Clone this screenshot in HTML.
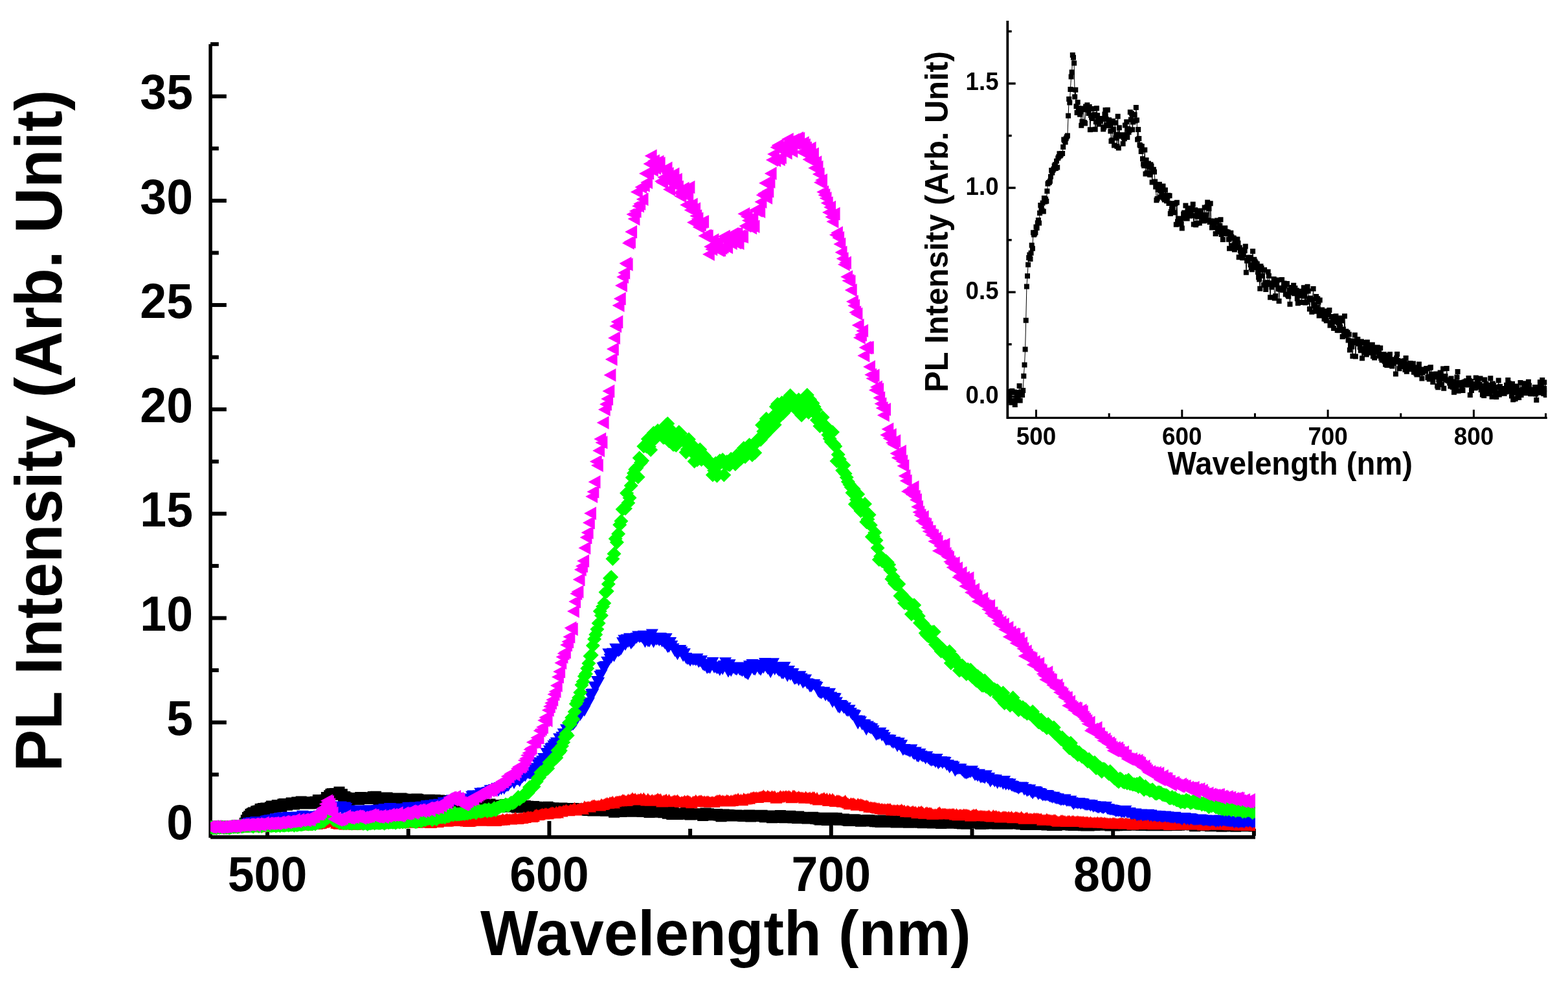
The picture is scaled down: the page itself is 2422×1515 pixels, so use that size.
<!DOCTYPE html>
<html><head><meta charset="utf-8"><title>PL spectra</title>
<style>html,body{margin:0;padding:0;background:#fff;}svg{display:block;}</style>
</head><body>
<svg width="2422" height="1515" viewBox="0 0 2422 1515"><g fill="#000">
<rect x="322.35" y="68.20" width="5.5" height="1225.60"/>
<rect x="325.10" y="1289.90" width="1613.90" height="5.8"/>
<rect x="325.10" y="1273.80" width="24.75" height="6"/>
<rect x="325.10" y="1193.22" width="12.75" height="6"/>
<rect x="325.10" y="1112.65" width="24.75" height="6"/>
<rect x="325.10" y="1032.08" width="12.75" height="6"/>
<rect x="325.10" y="951.50" width="24.75" height="6"/>
<rect x="325.10" y="870.92" width="12.75" height="6"/>
<rect x="325.10" y="790.35" width="24.75" height="6"/>
<rect x="325.10" y="709.77" width="12.75" height="6"/>
<rect x="325.10" y="629.20" width="24.75" height="6"/>
<rect x="325.10" y="548.62" width="12.75" height="6"/>
<rect x="325.10" y="468.05" width="24.75" height="6"/>
<rect x="325.10" y="387.48" width="12.75" height="6"/>
<rect x="325.10" y="306.90" width="24.75" height="6"/>
<rect x="325.10" y="226.33" width="12.75" height="6"/>
<rect x="325.10" y="145.75" width="24.75" height="6"/>
<rect x="325.10" y="65.18" width="12.75" height="6"/>
<rect x="410.00" y="1267.90" width="6" height="23.00"/>
<rect x="627.70" y="1279.90" width="6" height="11.00"/>
<rect x="845.40" y="1267.90" width="6" height="23.00"/>
<rect x="1063.10" y="1279.90" width="6" height="11.00"/>
<rect x="1280.80" y="1267.90" width="6" height="23.00"/>
<rect x="1498.50" y="1279.90" width="6" height="11.00"/>
<rect x="1716.20" y="1267.90" width="6" height="23.00"/>
<rect x="1933.90" y="1279.90" width="6" height="11.00"/>
</g>
<defs><clipPath id="pa"><rect x="325" y="60" width="1614" height="1234"/></clipPath></defs>
<g clip-path="url(#pa)">
<path fill="#000" d="M313.1 1269.3h17v17h-17ZM315.2 1269.4h17v17h-17ZM317.4 1268.5h17v17h-17ZM319.6 1268h17v17h-17ZM321.8 1267.8h17v17h-17ZM324 1268.5h17v17h-17ZM326.1 1267.9h17v17h-17ZM328.3 1267.6h17v17h-17ZM330.5 1268.6h17v17h-17ZM332.7 1268.6h17v17h-17ZM334.8 1268.8h17v17h-17ZM337 1268h17v17h-17ZM339.2 1268.5h17v17h-17ZM341.4 1268.5h17v17h-17ZM343.5 1267.6h17v17h-17ZM345.7 1268.8h17v17h-17ZM347.9 1268.7h17v17h-17ZM350.1 1269.9h17v17h-17ZM352.3 1268.6h17v17h-17ZM354.4 1268.4h17v17h-17ZM356.6 1269.2h17v17h-17ZM358.8 1268.6h17v17h-17ZM361 1269h17v17h-17ZM363.1 1268.3h17v17h-17ZM365.3 1268.6h17v17h-17ZM367.5 1267.2h17v17h-17ZM369.7 1262.7h17v17h-17ZM371.8 1258.3h17v17h-17ZM374 1253.9h17v17h-17ZM376.2 1252h17v17h-17ZM378.4 1249h17v17h-17ZM380.6 1247.8h17v17h-17ZM382.7 1246.5h17v17h-17ZM384.9 1246.5h17v17h-17ZM387.1 1244.5h17v17h-17ZM389.3 1243.9h17v17h-17ZM391.4 1243.5h17v17h-17ZM393.6 1240.9h17v17h-17ZM395.8 1240.7h17v17h-17ZM398 1239.9h17v17h-17ZM400.1 1242.1h17v17h-17ZM402.3 1239.5h17v17h-17ZM404.5 1240h17v17h-17ZM406.7 1239.5h17v17h-17ZM408.9 1238.2h17v17h-17ZM411 1236.4h17v17h-17ZM413.2 1238.8h17v17h-17ZM415.4 1236.9h17v17h-17ZM417.6 1237.7h17v17h-17ZM419.7 1235.1h17v17h-17ZM421.9 1235.7h17v17h-17ZM424.1 1237.2h17v17h-17ZM426.3 1237h17v17h-17ZM428.4 1233.5h17v17h-17ZM430.6 1233.1h17v17h-17ZM432.8 1234.2h17v17h-17ZM435 1234.7h17v17h-17ZM437.2 1233.6h17v17h-17ZM439.3 1233.4h17v17h-17ZM441.5 1231.6h17v17h-17ZM443.7 1233.1h17v17h-17ZM445.9 1233.6h17v17h-17ZM448 1231.6h17v17h-17ZM450.2 1230.4h17v17h-17ZM452.4 1231h17v17h-17ZM454.6 1232.6h17v17h-17ZM456.7 1229.6h17v17h-17ZM458.9 1231.3h17v17h-17ZM461.1 1230.2h17v17h-17ZM463.3 1231.1h17v17h-17ZM465.5 1230.8h17v17h-17ZM467.6 1231h17v17h-17ZM469.8 1232.6h17v17h-17ZM472 1231.2h17v17h-17ZM474.2 1232.2h17v17h-17ZM476.3 1230.3h17v17h-17ZM478.5 1229.7h17v17h-17ZM480.7 1230.4h17v17h-17ZM482.9 1226.9h17v17h-17ZM485 1229.3h17v17h-17ZM487.2 1229.2h17v17h-17ZM489.4 1227.1h17v17h-17ZM491.6 1228.5h17v17h-17ZM493.8 1226.7h17v17h-17ZM495.9 1223h17v17h-17ZM498.1 1224h17v17h-17ZM500.3 1220.3h17v17h-17ZM502.5 1217.9h17v17h-17ZM504.6 1217.2h17v17h-17ZM506.8 1218.6h17v17h-17ZM509 1217.1h17v17h-17ZM511.2 1217h17v17h-17ZM513.4 1217.5h17v17h-17ZM515.5 1214.7h17v17h-17ZM517.7 1218.8h17v17h-17ZM519.9 1218.3h17v17h-17ZM522.1 1222.4h17v17h-17ZM524.2 1221.9h17v17h-17ZM526.4 1223.6h17v17h-17ZM528.6 1225h17v17h-17ZM530.8 1227.8h17v17h-17ZM532.9 1226.3h17v17h-17ZM535.1 1224.8h17v17h-17ZM537.3 1225.2h17v17h-17ZM539.5 1224.1h17v17h-17ZM541.7 1225.4h17v17h-17ZM543.8 1224.5h17v17h-17ZM546 1225.9h17v17h-17ZM548.2 1223.1h17v17h-17ZM550.4 1224.1h17v17h-17ZM552.5 1223.2h17v17h-17ZM554.7 1223.2h17v17h-17ZM556.9 1224.7h17v17h-17ZM559.1 1223.7h17v17h-17ZM561.2 1224.3h17v17h-17ZM563.4 1225.1h17v17h-17ZM565.6 1225.1h17v17h-17ZM567.8 1222.1h17v17h-17ZM570 1224.5h17v17h-17ZM572.1 1221.7h17v17h-17ZM574.3 1223.9h17v17h-17ZM576.5 1226.4h17v17h-17ZM578.7 1223.9h17v17h-17ZM580.8 1223.7h17v17h-17ZM583 1224.4h17v17h-17ZM585.2 1224.3h17v17h-17ZM587.4 1224.4h17v17h-17ZM589.5 1223.5h17v17h-17ZM591.7 1225.8h17v17h-17ZM593.9 1225.7h17v17h-17ZM596.1 1224.5h17v17h-17ZM598.3 1225.3h17v17h-17ZM600.4 1225.8h17v17h-17ZM602.6 1226.4h17v17h-17ZM604.8 1225.8h17v17h-17ZM607 1226.3h17v17h-17ZM609.1 1225.2h17v17h-17ZM611.3 1224.4h17v17h-17ZM613.5 1225.2h17v17h-17ZM615.7 1227.2h17v17h-17ZM617.8 1227.3h17v17h-17ZM620 1226.4h17v17h-17ZM622.2 1225.7h17v17h-17ZM624.4 1226.8h17v17h-17ZM626.6 1228.6h17v17h-17ZM628.7 1228.4h17v17h-17ZM630.9 1226h17v17h-17ZM633.1 1226.9h17v17h-17ZM635.3 1225.4h17v17h-17ZM637.4 1225.9h17v17h-17ZM639.6 1227.6h17v17h-17ZM641.8 1227.5h17v17h-17ZM644 1228.7h17v17h-17ZM646.1 1229.2h17v17h-17ZM648.3 1228.8h17v17h-17ZM650.5 1229.4h17v17h-17ZM652.7 1227.3h17v17h-17ZM654.9 1226.7h17v17h-17ZM657 1228.7h17v17h-17ZM659.2 1230.9h17v17h-17ZM661.4 1228.7h17v17h-17ZM663.6 1227h17v17h-17ZM665.7 1228.8h17v17h-17ZM667.9 1230.2h17v17h-17ZM670.1 1227.4h17v17h-17ZM672.3 1229.7h17v17h-17ZM674.4 1228.1h17v17h-17ZM676.6 1230.4h17v17h-17ZM678.8 1229.9h17v17h-17ZM681 1229.4h17v17h-17ZM683.2 1231.5h17v17h-17ZM685.3 1228.8h17v17h-17ZM687.5 1228.5h17v17h-17ZM689.7 1231.6h17v17h-17ZM691.9 1228.5h17v17h-17ZM694 1232.3h17v17h-17ZM696.2 1229.9h17v17h-17ZM698.4 1228.9h17v17h-17ZM700.6 1230.3h17v17h-17ZM702.7 1230.6h17v17h-17ZM704.9 1230.9h17v17h-17ZM707.1 1230.7h17v17h-17ZM709.3 1232.3h17v17h-17ZM711.5 1228.6h17v17h-17ZM713.6 1230.8h17v17h-17ZM715.8 1231.4h17v17h-17ZM718 1233.9h17v17h-17ZM720.2 1229.8h17v17h-17ZM722.3 1231.8h17v17h-17ZM724.5 1231.1h17v17h-17ZM726.7 1231.9h17v17h-17ZM728.9 1233.5h17v17h-17ZM731 1233.5h17v17h-17ZM733.2 1234.8h17v17h-17ZM735.4 1232.7h17v17h-17ZM737.6 1233.9h17v17h-17ZM739.8 1235.1h17v17h-17ZM741.9 1235h17v17h-17ZM744.1 1233.8h17v17h-17ZM746.3 1235.6h17v17h-17ZM748.5 1233.5h17v17h-17ZM750.6 1236.7h17v17h-17ZM752.8 1235.1h17v17h-17ZM755 1234.9h17v17h-17ZM757.2 1235.4h17v17h-17ZM759.4 1236.2h17v17h-17ZM761.5 1237.3h17v17h-17ZM763.7 1235.3h17v17h-17ZM765.9 1235.1h17v17h-17ZM768.1 1236.3h17v17h-17ZM770.2 1234.8h17v17h-17ZM772.4 1234h17v17h-17ZM774.6 1236.9h17v17h-17ZM776.8 1235.6h17v17h-17ZM778.9 1237.4h17v17h-17ZM781.1 1235.1h17v17h-17ZM783.3 1233.9h17v17h-17ZM785.5 1236.8h17v17h-17ZM787.7 1236.8h17v17h-17ZM789.8 1238.4h17v17h-17ZM792 1237.4h17v17h-17ZM794.2 1237.2h17v17h-17ZM796.4 1237.6h17v17h-17ZM798.5 1236.7h17v17h-17ZM800.7 1237.3h17v17h-17ZM802.9 1235.9h17v17h-17ZM805.1 1238h17v17h-17ZM807.2 1236.7h17v17h-17ZM809.4 1237.3h17v17h-17ZM811.6 1238.7h17v17h-17ZM813.8 1239h17v17h-17ZM816 1237.1h17v17h-17ZM818.1 1240.5h17v17h-17ZM820.3 1237.8h17v17h-17ZM822.5 1239.5h17v17h-17ZM824.7 1239.8h17v17h-17ZM826.8 1239.1h17v17h-17ZM829 1239.2h17v17h-17ZM831.2 1241.1h17v17h-17ZM833.4 1240.3h17v17h-17ZM835.5 1239.9h17v17h-17ZM837.7 1237.7h17v17h-17ZM839.9 1238.9h17v17h-17ZM842.1 1241.1h17v17h-17ZM844.3 1240.2h17v17h-17ZM846.4 1239.2h17v17h-17ZM848.6 1239.6h17v17h-17ZM850.8 1240.1h17v17h-17ZM853 1241.2h17v17h-17ZM855.1 1240.9h17v17h-17ZM857.3 1241.6h17v17h-17ZM859.5 1239.6h17v17h-17ZM861.7 1241.5h17v17h-17ZM863.8 1240h17v17h-17ZM866 1240.2h17v17h-17ZM868.2 1242.3h17v17h-17ZM870.4 1240.6h17v17h-17ZM872.6 1240.4h17v17h-17ZM874.7 1240.3h17v17h-17ZM876.9 1240.1h17v17h-17ZM879.1 1242.1h17v17h-17ZM881.3 1241.9h17v17h-17ZM883.4 1241.3h17v17h-17ZM885.6 1240.7h17v17h-17ZM887.8 1241.6h17v17h-17ZM890 1240.4h17v17h-17ZM892.1 1241.1h17v17h-17ZM894.3 1241.2h17v17h-17ZM896.5 1241h17v17h-17ZM898.7 1242.8h17v17h-17ZM900.9 1243h17v17h-17ZM903 1242.7h17v17h-17ZM905.2 1239.5h17v17h-17ZM907.4 1243.5h17v17h-17ZM909.6 1242.5h17v17h-17ZM911.7 1241.4h17v17h-17ZM913.9 1242h17v17h-17ZM916.1 1243.3h17v17h-17ZM918.3 1243.5h17v17h-17ZM920.4 1243.3h17v17h-17ZM922.6 1242.7h17v17h-17ZM924.8 1242.7h17v17h-17ZM927 1243.7h17v17h-17ZM929.2 1242.9h17v17h-17ZM931.3 1242.2h17v17h-17ZM933.5 1242.6h17v17h-17ZM935.7 1243.2h17v17h-17ZM937.9 1243.8h17v17h-17ZM940 1245.8h17v17h-17ZM942.2 1242.1h17v17h-17ZM944.4 1244h17v17h-17ZM946.6 1243.4h17v17h-17ZM948.8 1243.8h17v17h-17ZM950.9 1244.9h17v17h-17ZM953.1 1244.8h17v17h-17ZM955.3 1243.3h17v17h-17ZM957.5 1242.9h17v17h-17ZM959.6 1242.1h17v17h-17ZM961.8 1243.4h17v17h-17ZM964 1244.8h17v17h-17ZM966.2 1243.2h17v17h-17ZM968.3 1244.2h17v17h-17ZM970.5 1244.2h17v17h-17ZM972.7 1244h17v17h-17ZM974.9 1244.8h17v17h-17ZM977.1 1243.6h17v17h-17ZM979.2 1243h17v17h-17ZM981.4 1242.7h17v17h-17ZM983.6 1244.9h17v17h-17ZM985.8 1243.7h17v17h-17ZM987.9 1243.8h17v17h-17ZM990.1 1245h17v17h-17ZM992.3 1243.5h17v17h-17ZM994.5 1246.1h17v17h-17ZM996.6 1245.1h17v17h-17ZM998.8 1244h17v17h-17ZM1001 1244h17v17h-17ZM1003.2 1245.8h17v17h-17ZM1005.4 1243.7h17v17h-17ZM1007.5 1244.4h17v17h-17ZM1009.7 1245.3h17v17h-17ZM1011.9 1245.7h17v17h-17ZM1014.1 1245.7h17v17h-17ZM1016.2 1246.3h17v17h-17ZM1018.4 1245.8h17v17h-17ZM1020.6 1246.3h17v17h-17ZM1022.8 1247.8h17v17h-17ZM1024.9 1247.4h17v17h-17ZM1027.1 1246.6h17v17h-17ZM1029.3 1248.9h17v17h-17ZM1031.5 1245.5h17v17h-17ZM1033.7 1247.8h17v17h-17ZM1035.8 1248.5h17v17h-17ZM1038 1249h17v17h-17ZM1040.2 1248.2h17v17h-17ZM1042.4 1247.8h17v17h-17ZM1044.5 1248.7h17v17h-17ZM1046.7 1248.1h17v17h-17ZM1048.9 1248.7h17v17h-17ZM1051.1 1246.1h17v17h-17ZM1053.2 1248.8h17v17h-17ZM1055.4 1247.7h17v17h-17ZM1057.6 1249.4h17v17h-17ZM1059.8 1249.3h17v17h-17ZM1062 1249.3h17v17h-17ZM1064.1 1248.3h17v17h-17ZM1066.3 1249.1h17v17h-17ZM1068.5 1248.4h17v17h-17ZM1070.7 1249h17v17h-17ZM1072.8 1248.8h17v17h-17ZM1075 1248.2h17v17h-17ZM1077.2 1251h17v17h-17ZM1079.4 1250h17v17h-17ZM1081.5 1247.4h17v17h-17ZM1083.7 1250.3h17v17h-17ZM1085.9 1248.3h17v17h-17ZM1088.1 1249.5h17v17h-17ZM1090.3 1249.3h17v17h-17ZM1092.4 1249.4h17v17h-17ZM1094.6 1250.3h17v17h-17ZM1096.8 1249.9h17v17h-17ZM1099 1248.9h17v17h-17ZM1101.1 1250.4h17v17h-17ZM1103.3 1250.8h17v17h-17ZM1105.5 1252.2h17v17h-17ZM1107.7 1250.2h17v17h-17ZM1109.8 1249.6h17v17h-17ZM1112 1250.4h17v17h-17ZM1114.2 1251.4h17v17h-17ZM1116.4 1250h17v17h-17ZM1118.6 1250.2h17v17h-17ZM1120.7 1251.4h17v17h-17ZM1122.9 1251h17v17h-17ZM1125.1 1251.2h17v17h-17ZM1127.3 1250.5h17v17h-17ZM1129.4 1250.4h17v17h-17ZM1131.6 1250.9h17v17h-17ZM1133.8 1251.1h17v17h-17ZM1136 1251h17v17h-17ZM1138.1 1251.7h17v17h-17ZM1140.3 1251.9h17v17h-17ZM1142.5 1252h17v17h-17ZM1144.7 1251.9h17v17h-17ZM1146.9 1250.7h17v17h-17ZM1149 1250.6h17v17h-17ZM1151.2 1252.4h17v17h-17ZM1153.4 1251.7h17v17h-17ZM1155.6 1251.9h17v17h-17ZM1157.7 1250.8h17v17h-17ZM1159.9 1251.7h17v17h-17ZM1162.1 1251.3h17v17h-17ZM1164.3 1251.2h17v17h-17ZM1166.5 1251.5h17v17h-17ZM1168.6 1250.7h17v17h-17ZM1170.8 1252.2h17v17h-17ZM1173 1253.3h17v17h-17ZM1175.2 1251.6h17v17h-17ZM1177.3 1252.4h17v17h-17ZM1179.5 1251.4h17v17h-17ZM1181.7 1253h17v17h-17ZM1183.9 1254.2h17v17h-17ZM1186 1251.4h17v17h-17ZM1188.2 1252.4h17v17h-17ZM1190.4 1254h17v17h-17ZM1192.6 1253.1h17v17h-17ZM1194.8 1252.9h17v17h-17ZM1196.9 1251h17v17h-17ZM1199.1 1252.8h17v17h-17ZM1201.3 1253.8h17v17h-17ZM1203.5 1254.3h17v17h-17ZM1205.6 1253.7h17v17h-17ZM1207.8 1252.7h17v17h-17ZM1210 1252.7h17v17h-17ZM1212.2 1251.8h17v17h-17ZM1214.3 1252.5h17v17h-17ZM1216.5 1254.6h17v17h-17ZM1218.7 1253.6h17v17h-17ZM1220.9 1252.6h17v17h-17ZM1223.1 1255h17v17h-17ZM1225.2 1252.5h17v17h-17ZM1227.4 1255.1h17v17h-17ZM1229.6 1253.8h17v17h-17ZM1231.8 1254.5h17v17h-17ZM1233.9 1254.9h17v17h-17ZM1236.1 1254.7h17v17h-17ZM1238.3 1255.6h17v17h-17ZM1240.5 1254.7h17v17h-17ZM1242.6 1254.5h17v17h-17ZM1244.8 1254.3h17v17h-17ZM1247 1253.7h17v17h-17ZM1249.2 1254.5h17v17h-17ZM1251.4 1256h17v17h-17ZM1253.5 1256h17v17h-17ZM1255.7 1256.6h17v17h-17ZM1257.9 1257.5h17v17h-17ZM1260.1 1256.2h17v17h-17ZM1262.2 1256.1h17v17h-17ZM1264.4 1254.7h17v17h-17ZM1266.6 1255.7h17v17h-17ZM1268.8 1257.9h17v17h-17ZM1270.9 1256.6h17v17h-17ZM1273.1 1256.1h17v17h-17ZM1275.3 1256.6h17v17h-17ZM1277.5 1254.8h17v17h-17ZM1279.7 1255.8h17v17h-17ZM1281.8 1255.5h17v17h-17ZM1284 1254.9h17v17h-17ZM1286.2 1257.5h17v17h-17ZM1288.4 1257.8h17v17h-17ZM1290.5 1256.9h17v17h-17ZM1292.7 1257.5h17v17h-17ZM1294.9 1256.4h17v17h-17ZM1297.1 1257.7h17v17h-17ZM1299.2 1258.1h17v17h-17ZM1301.4 1258.8h17v17h-17ZM1303.6 1258.9h17v17h-17ZM1305.8 1258.1h17v17h-17ZM1308 1257.7h17v17h-17ZM1310.1 1257.2h17v17h-17ZM1312.3 1257.5h17v17h-17ZM1314.5 1258.6h17v17h-17ZM1316.7 1258.7h17v17h-17ZM1318.8 1258.3h17v17h-17ZM1321 1259.8h17v17h-17ZM1323.2 1259h17v17h-17ZM1325.4 1258.6h17v17h-17ZM1327.5 1258.5h17v17h-17ZM1329.7 1258.9h17v17h-17ZM1331.9 1258.1h17v17h-17ZM1334.1 1258.2h17v17h-17ZM1336.3 1259.4h17v17h-17ZM1338.4 1258.7h17v17h-17ZM1340.6 1259h17v17h-17ZM1342.8 1260.3h17v17h-17ZM1345 1259.3h17v17h-17ZM1347.1 1260.6h17v17h-17ZM1349.3 1259.6h17v17h-17ZM1351.5 1260.9h17v17h-17ZM1353.7 1260.2h17v17h-17ZM1355.8 1258.5h17v17h-17ZM1358 1260.9h17v17h-17ZM1360.2 1259.8h17v17h-17ZM1362.4 1258.5h17v17h-17ZM1364.6 1260.2h17v17h-17ZM1366.7 1260.3h17v17h-17ZM1368.9 1259.2h17v17h-17ZM1371.1 1259.8h17v17h-17ZM1373.3 1260.8h17v17h-17ZM1375.4 1261.6h17v17h-17ZM1377.6 1261.4h17v17h-17ZM1379.8 1261.5h17v17h-17ZM1382 1261.5h17v17h-17ZM1384.2 1258.9h17v17h-17ZM1386.3 1260.2h17v17h-17ZM1388.5 1261h17v17h-17ZM1390.7 1259.1h17v17h-17ZM1392.9 1261.6h17v17h-17ZM1395 1261.7h17v17h-17ZM1397.2 1260.5h17v17h-17ZM1399.4 1260.9h17v17h-17ZM1401.6 1260.5h17v17h-17ZM1403.7 1261.3h17v17h-17ZM1405.9 1261.3h17v17h-17ZM1408.1 1261.4h17v17h-17ZM1410.3 1260.7h17v17h-17ZM1412.5 1261.8h17v17h-17ZM1414.6 1261.3h17v17h-17ZM1416.8 1262.3h17v17h-17ZM1419 1261.9h17v17h-17ZM1421.2 1260.5h17v17h-17ZM1423.3 1260.6h17v17h-17ZM1425.5 1261.8h17v17h-17ZM1427.7 1261.4h17v17h-17ZM1429.9 1262.2h17v17h-17ZM1432 1262.5h17v17h-17ZM1434.2 1261.9h17v17h-17ZM1436.4 1260.7h17v17h-17ZM1438.6 1261.1h17v17h-17ZM1440.8 1262.5h17v17h-17ZM1442.9 1261.3h17v17h-17ZM1445.1 1262.9h17v17h-17ZM1447.3 1262.1h17v17h-17ZM1449.5 1262.6h17v17h-17ZM1451.6 1261.5h17v17h-17ZM1453.8 1262.2h17v17h-17ZM1456 1260.5h17v17h-17ZM1458.2 1262.1h17v17h-17ZM1460.3 1262.8h17v17h-17ZM1462.5 1261.7h17v17h-17ZM1464.7 1261.8h17v17h-17ZM1466.9 1262.4h17v17h-17ZM1469.1 1262.5h17v17h-17ZM1471.2 1261.9h17v17h-17ZM1473.4 1263.1h17v17h-17ZM1475.6 1261.3h17v17h-17ZM1477.8 1263.4h17v17h-17ZM1479.9 1261.6h17v17h-17ZM1482.1 1262h17v17h-17ZM1484.3 1263.7h17v17h-17ZM1486.5 1262h17v17h-17ZM1488.6 1261.5h17v17h-17ZM1490.8 1262.8h17v17h-17ZM1493 1262.1h17v17h-17ZM1495.2 1262h17v17h-17ZM1497.4 1262.3h17v17h-17ZM1499.5 1262.3h17v17h-17ZM1501.7 1262.1h17v17h-17ZM1503.9 1262.1h17v17h-17ZM1506.1 1264.1h17v17h-17ZM1508.2 1262.5h17v17h-17ZM1510.4 1263.7h17v17h-17ZM1512.6 1262h17v17h-17ZM1514.8 1263.4h17v17h-17ZM1516.9 1262.1h17v17h-17ZM1519.1 1262.7h17v17h-17ZM1521.3 1263.6h17v17h-17ZM1523.5 1262.7h17v17h-17ZM1525.7 1261.7h17v17h-17ZM1527.8 1262.8h17v17h-17ZM1530 1263.1h17v17h-17ZM1532.2 1263.7h17v17h-17ZM1534.4 1262.5h17v17h-17ZM1536.5 1263.1h17v17h-17ZM1538.7 1263.4h17v17h-17ZM1540.9 1262.1h17v17h-17ZM1543.1 1263.3h17v17h-17ZM1545.2 1262.8h17v17h-17ZM1547.4 1263.7h17v17h-17ZM1549.6 1263.4h17v17h-17ZM1551.8 1263.3h17v17h-17ZM1554 1261.8h17v17h-17ZM1556.1 1263.4h17v17h-17ZM1558.3 1263.3h17v17h-17ZM1560.5 1262.9h17v17h-17ZM1562.7 1263.2h17v17h-17ZM1564.8 1262.7h17v17h-17ZM1567 1263.8h17v17h-17ZM1569.2 1264.2h17v17h-17ZM1571.4 1264.1h17v17h-17ZM1573.5 1263.3h17v17h-17ZM1575.7 1265h17v17h-17ZM1577.9 1264.4h17v17h-17ZM1580.1 1263.1h17v17h-17ZM1582.3 1263.7h17v17h-17ZM1584.4 1262.7h17v17h-17ZM1586.6 1263.8h17v17h-17ZM1588.8 1264.4h17v17h-17ZM1591 1264.9h17v17h-17ZM1593.1 1263.7h17v17h-17ZM1595.3 1262.7h17v17h-17ZM1597.5 1264h17v17h-17ZM1599.7 1265.1h17v17h-17ZM1601.9 1264.3h17v17h-17ZM1604 1265.1h17v17h-17ZM1606.2 1264.9h17v17h-17ZM1608.4 1265.4h17v17h-17ZM1610.6 1264.8h17v17h-17ZM1612.7 1263.9h17v17h-17ZM1614.9 1264.8h17v17h-17ZM1617.1 1266.1h17v17h-17ZM1619.3 1264.2h17v17h-17ZM1621.4 1263.2h17v17h-17ZM1623.6 1266.1h17v17h-17ZM1625.8 1264.9h17v17h-17ZM1628 1264.3h17v17h-17ZM1630.2 1264.3h17v17h-17ZM1632.3 1263.7h17v17h-17ZM1634.5 1265.3h17v17h-17ZM1636.7 1265h17v17h-17ZM1638.9 1264.5h17v17h-17ZM1641 1264.7h17v17h-17ZM1643.2 1264.7h17v17h-17ZM1645.4 1265.8h17v17h-17ZM1647.6 1265h17v17h-17ZM1649.7 1266.1h17v17h-17ZM1651.9 1264.6h17v17h-17ZM1654.1 1264.8h17v17h-17ZM1656.3 1264.9h17v17h-17ZM1658.5 1264.9h17v17h-17ZM1660.6 1265.3h17v17h-17ZM1662.8 1266.1h17v17h-17ZM1665 1266.3h17v17h-17ZM1667.2 1264.8h17v17h-17ZM1669.3 1266.4h17v17h-17ZM1671.5 1265.6h17v17h-17ZM1673.7 1266.6h17v17h-17ZM1675.9 1265.4h17v17h-17ZM1678 1264.9h17v17h-17ZM1680.2 1266h17v17h-17ZM1682.4 1265.9h17v17h-17ZM1684.6 1265.2h17v17h-17ZM1686.8 1265.5h17v17h-17ZM1688.9 1265.6h17v17h-17ZM1691.1 1265.7h17v17h-17ZM1693.3 1264.3h17v17h-17ZM1695.5 1264.7h17v17h-17ZM1697.6 1265.5h17v17h-17ZM1699.8 1265.7h17v17h-17ZM1702 1265.1h17v17h-17ZM1704.2 1264.3h17v17h-17ZM1706.3 1266.4h17v17h-17ZM1708.5 1265.3h17v17h-17ZM1710.7 1264.8h17v17h-17ZM1712.9 1266.6h17v17h-17ZM1715.1 1266.3h17v17h-17ZM1717.2 1266.2h17v17h-17ZM1719.4 1266.1h17v17h-17ZM1721.6 1265.9h17v17h-17ZM1723.8 1264.8h17v17h-17ZM1725.9 1265.5h17v17h-17ZM1728.1 1265.7h17v17h-17ZM1730.3 1265.9h17v17h-17ZM1732.5 1265.8h17v17h-17ZM1734.6 1264.8h17v17h-17ZM1736.8 1265.1h17v17h-17ZM1739 1265.3h17v17h-17ZM1741.2 1265.4h17v17h-17ZM1743.4 1264.9h17v17h-17ZM1745.5 1264.2h17v17h-17ZM1747.7 1264.7h17v17h-17ZM1749.9 1265.7h17v17h-17ZM1752.1 1265.5h17v17h-17ZM1754.2 1265.9h17v17h-17ZM1756.4 1264.2h17v17h-17ZM1758.6 1265.2h17v17h-17ZM1760.8 1266.1h17v17h-17ZM1762.9 1264.1h17v17h-17ZM1765.1 1264.7h17v17h-17ZM1767.3 1264.3h17v17h-17ZM1769.5 1266.3h17v17h-17ZM1771.7 1265.5h17v17h-17ZM1773.8 1265.1h17v17h-17ZM1776 1265.6h17v17h-17ZM1778.2 1265.4h17v17h-17ZM1780.4 1266.1h17v17h-17ZM1782.5 1266.3h17v17h-17ZM1784.7 1266.1h17v17h-17ZM1786.9 1265.7h17v17h-17ZM1789.1 1266h17v17h-17ZM1791.2 1266.1h17v17h-17ZM1793.4 1266.3h17v17h-17ZM1795.6 1264.2h17v17h-17ZM1797.8 1265.7h17v17h-17ZM1800 1265.6h17v17h-17ZM1802.1 1265.6h17v17h-17ZM1804.3 1265.4h17v17h-17ZM1806.5 1265.5h17v17h-17ZM1808.7 1265.9h17v17h-17ZM1810.8 1265.7h17v17h-17ZM1813 1265.7h17v17h-17ZM1815.2 1264.9h17v17h-17ZM1817.4 1264.8h17v17h-17ZM1819.5 1265.1h17v17h-17ZM1821.7 1264.4h17v17h-17ZM1823.9 1265.3h17v17h-17ZM1826.1 1265.1h17v17h-17ZM1828.3 1264.5h17v17h-17ZM1830.4 1264.4h17v17h-17ZM1832.6 1265.4h17v17h-17ZM1834.8 1265.4h17v17h-17ZM1837 1267.3h17v17h-17ZM1839.1 1266.4h17v17h-17ZM1841.3 1265.3h17v17h-17ZM1843.5 1265.5h17v17h-17ZM1845.7 1265.2h17v17h-17ZM1847.9 1265.4h17v17h-17ZM1850 1265.7h17v17h-17ZM1852.2 1265.9h17v17h-17ZM1854.4 1265.5h17v17h-17ZM1856.6 1266.5h17v17h-17ZM1858.7 1266.4h17v17h-17ZM1860.9 1267.3h17v17h-17ZM1863.1 1265.1h17v17h-17ZM1865.3 1266.5h17v17h-17ZM1867.4 1265.8h17v17h-17ZM1869.6 1265h17v17h-17ZM1871.8 1265.9h17v17h-17ZM1874 1265h17v17h-17ZM1876.2 1266.1h17v17h-17ZM1878.3 1267.7h17v17h-17ZM1880.5 1267h17v17h-17ZM1882.7 1267.4h17v17h-17ZM1884.9 1267h17v17h-17ZM1887 1265.2h17v17h-17ZM1889.2 1266.5h17v17h-17ZM1891.4 1266.3h17v17h-17ZM1893.6 1266.6h17v17h-17ZM1895.7 1265.6h17v17h-17ZM1897.9 1265h17v17h-17ZM1900.1 1267.8h17v17h-17ZM1902.3 1267.2h17v17h-17ZM1904.5 1266.6h17v17h-17ZM1906.6 1266.1h17v17h-17ZM1908.8 1266.6h17v17h-17ZM1911 1265.7h17v17h-17ZM1913.2 1267.3h17v17h-17ZM1915.3 1266.8h17v17h-17ZM1917.5 1266.6h17v17h-17ZM1919.7 1266.5h17v17h-17ZM1921.9 1266.8h17v17h-17ZM1924 1266.9h17v17h-17ZM1926.2 1266.6h17v17h-17ZM1928.4 1267.6h17v17h-17ZM1930.6 1267.1h17v17h-17ZM1932.8 1266.9h17v17h-17Z"/>
<path fill="#f00" d="M312.1 1287.1H331.1L321.6 1270ZM314.2 1285.6H333.2L323.7 1268.5ZM316.4 1286.1H335.4L325.9 1269ZM318.6 1286H337.6L328.1 1268.9ZM320.8 1286.3H339.8L330.3 1269.2ZM323 1285.1H342L332.5 1268ZM325.1 1285.6H344.1L334.6 1268.5ZM327.3 1285.4H346.3L336.8 1268.3ZM329.5 1285.1H348.5L339 1268ZM331.7 1285.2H350.7L341.2 1268.1ZM333.8 1285.3H352.8L343.3 1268.2ZM336 1285.4H355L345.5 1268.3ZM338.2 1285H357.2L347.7 1267.9ZM340.4 1285.7H359.4L349.9 1268.6ZM342.5 1285.1H361.5L352 1268ZM344.7 1284.2H363.7L354.2 1267.1ZM346.9 1285.9H365.9L356.4 1268.8ZM349.1 1285.1H368.1L358.6 1268ZM351.3 1284.8H370.3L360.8 1267.7ZM353.4 1285.3H372.4L362.9 1268.2ZM355.6 1285.3H374.6L365.1 1268.2ZM357.8 1285.1H376.8L367.3 1268ZM360 1284.6H379L369.5 1267.5ZM362.1 1285.1H381.1L371.6 1268ZM364.3 1284.1H383.3L373.8 1267ZM366.5 1285.7H385.5L376 1268.6ZM368.7 1284.2H387.7L378.2 1267.1ZM370.8 1284.7H389.8L380.3 1267.6ZM373 1284.8H392L382.5 1267.7ZM375.2 1284.9H394.2L384.7 1267.8ZM377.4 1284.6H396.4L386.9 1267.5ZM379.6 1284.9H398.6L389.1 1267.8ZM381.7 1283.4H400.7L391.2 1266.3ZM383.9 1284.4H402.9L393.4 1267.3ZM386.1 1284.4H405.1L395.6 1267.3ZM388.3 1284.2H407.3L397.8 1267.1ZM390.4 1285.2H409.4L399.9 1268.1ZM392.6 1283.7H411.6L402.1 1266.6ZM394.8 1284.1H413.8L404.3 1267ZM397 1283H416L406.5 1265.9ZM399.1 1284.2H418.1L408.6 1267.1ZM401.3 1283H420.3L410.8 1265.9ZM403.5 1283H422.5L413 1265.9ZM405.7 1285.1H424.7L415.2 1268ZM407.9 1284.1H426.9L417.4 1267ZM410 1283.6H429L419.5 1266.5ZM412.2 1283.7H431.2L421.7 1266.6ZM414.4 1282.6H433.4L423.9 1265.5ZM416.6 1282.8H435.6L426.1 1265.7ZM418.7 1283.6H437.7L428.2 1266.5ZM420.9 1282H439.9L430.4 1264.9ZM423.1 1283.3H442.1L432.6 1266.2ZM425.3 1282.1H444.3L434.8 1265ZM427.4 1283.1H446.4L436.9 1266ZM429.6 1282.3H448.6L439.1 1265.2ZM431.8 1283.9H450.8L441.3 1266.8ZM434 1283.4H453L443.5 1266.3ZM436.2 1282.4H455.2L445.7 1265.3ZM438.3 1281.5H457.3L447.8 1264.4ZM440.5 1282H459.5L450 1264.9ZM442.7 1282.4H461.7L452.2 1265.3ZM444.9 1281.8H463.9L454.4 1264.7ZM447 1282.5H466L456.5 1265.4ZM449.2 1282.8H468.2L458.7 1265.7ZM451.4 1282.1H470.4L460.9 1265ZM453.6 1281.8H472.6L463.1 1264.7ZM455.7 1282.4H474.7L465.2 1265.3ZM457.9 1281.7H476.9L467.4 1264.6ZM460.1 1282.3H479.1L469.6 1265.2ZM462.3 1281.5H481.3L471.8 1264.4ZM464.5 1282.5H483.5L474 1265.4ZM466.6 1281.2H485.6L476.1 1264.1ZM468.8 1280.6H487.8L478.3 1263.5ZM471 1281.2H490L480.5 1264.1ZM473.2 1280.5H492.2L482.7 1263.4ZM475.3 1280.2H494.3L484.8 1263.1ZM477.5 1280.6H496.5L487 1263.5ZM479.7 1281H498.7L489.2 1263.9ZM481.9 1279H500.9L491.4 1261.9ZM484 1280.2H503L493.5 1263.1ZM486.2 1279.7H505.2L495.7 1262.6ZM488.4 1278.8H507.4L497.9 1261.7ZM490.6 1278.5H509.6L500.1 1261.4ZM492.8 1276.1H511.8L502.3 1259ZM494.9 1276.9H513.9L504.4 1259.8ZM497.1 1275.8H516.1L506.6 1258.7ZM499.3 1275.6H518.3L508.8 1258.5ZM501.5 1275.4H520.5L511 1258.3ZM503.6 1275.7H522.6L513.1 1258.6ZM505.8 1276H524.8L515.3 1258.9ZM508 1277.5H527L517.5 1260.4ZM510.2 1279.7H529.2L519.7 1262.6ZM512.4 1280H531.4L521.9 1262.9ZM514.5 1280.8H533.5L524 1263.7ZM516.7 1280.6H535.7L526.2 1263.5ZM518.9 1280H537.9L528.4 1262.9ZM521.1 1280.7H540.1L530.6 1263.6ZM523.2 1281.6H542.2L532.7 1264.5ZM525.4 1279.5H544.4L534.9 1262.4ZM527.6 1280.8H546.6L537.1 1263.7ZM529.8 1281H548.8L539.3 1263.9ZM531.9 1280.5H550.9L541.4 1263.4ZM534.1 1280.8H553.1L543.6 1263.7ZM536.3 1281.2H555.3L545.8 1264.1ZM538.5 1281.8H557.5L548 1264.7ZM540.7 1281.2H559.7L550.2 1264.1ZM542.8 1281.4H561.8L552.3 1264.3ZM545 1280.6H564L554.5 1263.5ZM547.2 1280.9H566.2L556.7 1263.8ZM549.4 1280.5H568.4L558.9 1263.4ZM551.5 1280.6H570.5L561 1263.5ZM553.7 1280H572.7L563.2 1262.9ZM555.9 1280.7H574.9L565.4 1263.6ZM558.1 1281.1H577.1L567.6 1264ZM560.2 1280H579.2L569.7 1262.9ZM562.4 1280.2H581.4L571.9 1263.1ZM564.6 1280.4H583.6L574.1 1263.3ZM566.8 1279.9H585.8L576.3 1262.8ZM569 1280.4H588L578.5 1263.3ZM571.1 1279.9H590.1L580.6 1262.8ZM573.3 1278.9H592.3L582.8 1261.8ZM575.5 1279H594.5L585 1261.9ZM577.7 1280H596.7L587.2 1262.9ZM579.8 1279.9H598.8L589.3 1262.8ZM582 1280.2H601L591.5 1263.1ZM584.2 1279.5H603.2L593.7 1262.4ZM586.4 1279.4H605.4L595.9 1262.3ZM588.5 1278.2H607.5L598 1261.1ZM590.7 1280.1H609.7L600.2 1263ZM592.9 1278.5H611.9L602.4 1261.4ZM595.1 1279.7H614.1L604.6 1262.6ZM597.3 1278.2H616.3L606.8 1261.1ZM599.4 1278.5H618.4L608.9 1261.4ZM601.6 1278.9H620.6L611.1 1261.8ZM603.8 1278.5H622.8L613.3 1261.4ZM606 1278.2H625L615.5 1261.1ZM608.1 1279.2H627.1L617.6 1262.1ZM610.3 1279H629.3L619.8 1261.9ZM612.5 1278.8H631.5L622 1261.7ZM614.7 1278.2H633.7L624.2 1261.1ZM616.8 1277.8H635.8L626.3 1260.7ZM619 1278H638L628.5 1260.9ZM621.2 1277.9H640.2L630.7 1260.8ZM623.4 1278.2H642.4L632.9 1261.1ZM625.6 1278.7H644.6L635.1 1261.6ZM627.7 1278H646.7L637.2 1260.9ZM629.9 1277.5H648.9L639.4 1260.4ZM632.1 1277.6H651.1L641.6 1260.5ZM634.3 1278.8H653.3L643.8 1261.7ZM636.4 1278H655.4L645.9 1260.9ZM638.6 1278H657.6L648.1 1260.9ZM640.8 1278H659.8L650.3 1260.9ZM643 1278.1H662L652.5 1261ZM645.1 1277.7H664.1L654.6 1260.6ZM647.3 1278.4H666.3L656.8 1261.3ZM649.5 1278.1H668.5L659 1261ZM651.7 1275.9H670.7L661.2 1258.8ZM653.9 1277.3H672.9L663.4 1260.2ZM656 1279H675L665.5 1261.9ZM658.2 1276.4H677.2L667.7 1259.3ZM660.4 1277.3H679.4L669.9 1260.2ZM662.6 1278H681.6L672.1 1260.9ZM664.7 1277.1H683.7L674.2 1260ZM666.9 1278H685.9L676.4 1260.9ZM669.1 1276H688.1L678.6 1258.9ZM671.3 1275.9H690.3L680.8 1258.8ZM673.4 1276.5H692.4L682.9 1259.4ZM675.6 1276H694.6L685.1 1258.9ZM677.8 1275.7H696.8L687.3 1258.6ZM680 1276.7H699L689.5 1259.6ZM682.2 1276.4H701.2L691.7 1259.3ZM684.3 1276.1H703.3L693.8 1259ZM686.5 1275.6H705.5L696 1258.5ZM688.7 1276H707.7L698.2 1258.9ZM690.9 1275.6H709.9L700.4 1258.5ZM693 1275H712L702.5 1257.9ZM695.2 1275.8H714.2L704.7 1258.7ZM697.4 1275.7H716.4L706.9 1258.6ZM699.6 1275.5H718.6L709.1 1258.4ZM701.7 1275.9H720.7L711.2 1258.8ZM703.9 1274.6H722.9L713.4 1257.5ZM706.1 1275.3H725.1L715.6 1258.2ZM708.3 1275H727.3L717.8 1257.9ZM710.5 1276.4H729.5L720 1259.3ZM712.6 1275.8H731.6L722.1 1258.7ZM714.8 1276.9H733.8L724.3 1259.8ZM717 1276.5H736L726.5 1259.4ZM719.2 1275.1H738.2L728.7 1258ZM721.3 1274.6H740.3L730.8 1257.5ZM723.5 1275.7H742.5L733 1258.6ZM725.7 1275.2H744.7L735.2 1258.1ZM727.9 1275.3H746.9L737.4 1258.2ZM730 1274.6H749L739.5 1257.5ZM732.2 1275.8H751.2L741.7 1258.7ZM734.4 1275.5H753.4L743.9 1258.4ZM736.6 1275.7H755.6L746.1 1258.6ZM738.8 1275.6H757.8L748.3 1258.5ZM740.9 1274.7H759.9L750.4 1257.6ZM743.1 1273.7H762.1L752.6 1256.6ZM745.3 1275.2H764.3L754.8 1258.1ZM747.5 1274.9H766.5L757 1257.8ZM749.6 1275H768.6L759.1 1257.9ZM751.8 1276H770.8L761.3 1258.9ZM754 1275.1H773L763.5 1258ZM756.2 1276H775.2L765.7 1258.9ZM758.4 1274.8H777.4L767.9 1257.7ZM760.5 1275H779.5L770 1257.9ZM762.7 1274.7H781.7L772.2 1257.6ZM764.9 1274.7H783.9L774.4 1257.6ZM767.1 1272.9H786.1L776.6 1255.8ZM769.2 1274.5H788.2L778.7 1257.4ZM771.4 1273.5H790.4L780.9 1256.4ZM773.6 1272.5H792.6L783.1 1255.4ZM775.8 1273.5H794.8L785.3 1256.4ZM777.9 1273.1H796.9L787.4 1256ZM780.1 1273.6H799.1L789.6 1256.5ZM782.3 1272.9H801.3L791.8 1255.8ZM784.5 1272.5H803.5L794 1255.4ZM786.7 1270.7H805.7L796.2 1253.6ZM788.8 1273.1H807.8L798.3 1256ZM791 1272.7H810L800.5 1255.6ZM793.2 1271.9H812.2L802.7 1254.8ZM795.4 1271.5H814.4L804.9 1254.4ZM797.5 1271.9H816.5L807 1254.8ZM799.7 1270H818.7L809.2 1252.9ZM801.9 1271H820.9L811.4 1253.9ZM804.1 1270.1H823.1L813.6 1253ZM806.2 1268.9H825.2L815.7 1251.8ZM808.4 1269.6H827.4L817.9 1252.5ZM810.6 1269.2H829.6L820.1 1252.1ZM812.8 1270H831.8L822.3 1252.9ZM815 1269H834L824.5 1251.9ZM817.1 1266.5H836.1L826.6 1249.4ZM819.3 1265.8H838.3L828.8 1248.7ZM821.5 1267H840.5L831 1249.9ZM823.7 1266.5H842.7L833.2 1249.4ZM825.8 1265.5H844.8L835.3 1248.4ZM828 1264.7H847L837.5 1247.6ZM830.2 1265.4H849.2L839.7 1248.3ZM832.4 1264.2H851.4L841.9 1247.1ZM834.5 1264.2H853.5L844 1247.1ZM836.7 1265.2H855.7L846.2 1248.1ZM838.9 1264.3H857.9L848.4 1247.2ZM841.1 1263H860.1L850.6 1245.9ZM843.3 1262.3H862.3L852.8 1245.2ZM845.4 1262.8H864.4L854.9 1245.7ZM847.6 1264.1H866.6L857.1 1247ZM849.8 1261.7H868.8L859.3 1244.6ZM852 1263.4H871L861.5 1246.3ZM854.1 1260.8H873.1L863.6 1243.7ZM856.3 1261H875.3L865.8 1243.9ZM858.5 1261.5H877.5L868 1244.4ZM860.7 1259.8H879.7L870.2 1242.7ZM862.8 1260.2H881.8L872.3 1243.1ZM865 1258.6H884L874.5 1241.5ZM867.2 1260.1H886.2L876.7 1243ZM869.4 1260.3H888.4L878.9 1243.2ZM871.6 1258.2H890.6L881.1 1241.1ZM873.7 1258.6H892.7L883.2 1241.5ZM875.9 1257.7H894.9L885.4 1240.6ZM878.1 1255.7H897.1L887.6 1238.6ZM880.3 1259.6H899.3L889.8 1242.5ZM882.4 1257.6H901.4L891.9 1240.5ZM884.6 1257.4H903.6L894.1 1240.3ZM886.8 1256.7H905.8L896.3 1239.6ZM889 1256.1H908L898.5 1239ZM891.1 1257.8H910.1L900.6 1240.7ZM893.3 1253.4H912.3L902.8 1236.3ZM895.5 1254.5H914.5L905 1237.4ZM897.7 1254.1H916.7L907.2 1237ZM899.9 1253.9H918.9L909.4 1236.8ZM902 1254.4H921L911.5 1237.3ZM904.2 1252.6H923.2L913.7 1235.5ZM906.4 1251.6H925.4L915.9 1234.5ZM908.6 1251.4H927.6L918.1 1234.3ZM910.7 1252.5H929.7L920.2 1235.4ZM912.9 1252.6H931.9L922.4 1235.5ZM915.1 1252H934.1L924.6 1234.9ZM917.3 1252.4H936.3L926.8 1235.3ZM919.4 1249.8H938.4L928.9 1232.7ZM921.6 1250.9H940.6L931.1 1233.8ZM923.8 1250.2H942.8L933.3 1233.1ZM926 1248.9H945L935.5 1231.8ZM928.2 1247.8H947.2L937.7 1230.7ZM930.3 1249.1H949.3L939.8 1232ZM932.5 1247H951.5L942 1229.9ZM934.7 1247H953.7L944.2 1229.9ZM936.9 1245.9H955.9L946.4 1228.8ZM939 1248.5H958L948.5 1231.4ZM941.2 1246.3H960.2L950.7 1229.2ZM943.4 1245.5H962.4L952.9 1228.4ZM945.6 1245.5H964.6L955.1 1228.4ZM947.8 1245.2H966.8L957.2 1228.1ZM949.9 1245.2H968.9L959.4 1228.1ZM952.1 1243H971.1L961.6 1225.9ZM954.3 1243.3H973.3L963.8 1226.2ZM956.5 1244.8H975.5L966 1227.7ZM958.6 1245.1H977.6L968.1 1228ZM960.8 1242.5H979.8L970.3 1225.4ZM963 1243.5H982L972.5 1226.4ZM965.2 1242.4H984.2L974.7 1225.3ZM967.3 1240.3H986.3L976.8 1223.2ZM969.5 1242.1H988.5L979 1225ZM971.7 1241.3H990.7L981.2 1224.2ZM973.9 1243.5H992.9L983.4 1226.4ZM976.1 1242.4H995.1L985.6 1225.3ZM978.2 1242.6H997.2L987.7 1225.5ZM980.4 1241.1H999.4L989.9 1224ZM982.6 1243H1001.6L992.1 1225.9ZM984.8 1240.7H1003.8L994.3 1223.6ZM986.9 1243.2H1005.9L996.4 1226.1ZM989.1 1244.5H1008.1L998.6 1227.4ZM991.3 1241.7H1010.3L1000.8 1224.6ZM993.5 1244.1H1012.5L1003 1227ZM995.6 1244.7H1014.6L1005.1 1227.6ZM997.8 1243H1016.8L1007.3 1225.9ZM1000 1244.5H1019L1009.5 1227.4ZM1002.2 1243.5H1021.2L1011.7 1226.4ZM1004.4 1242.9H1023.4L1013.9 1225.8ZM1006.5 1241.3H1025.5L1016 1224.2ZM1008.7 1242.5H1027.7L1018.2 1225.4ZM1010.9 1242.1H1029.9L1020.4 1225ZM1013.1 1246.4H1032.1L1022.6 1229.3ZM1015.2 1244.3H1034.2L1024.7 1227.2ZM1017.4 1243.9H1036.4L1026.9 1226.8ZM1019.6 1242.7H1038.6L1029.1 1225.6ZM1021.8 1246.2H1040.8L1031.3 1229.1ZM1023.9 1243.1H1042.9L1033.4 1226ZM1026.1 1246.1H1045.1L1035.6 1229ZM1028.3 1245.8H1047.3L1037.8 1228.7ZM1030.5 1244.8H1049.5L1040 1227.7ZM1032.7 1244.1H1051.7L1042.2 1227ZM1034.8 1244.9H1053.8L1044.3 1227.8ZM1037 1243.6H1056L1046.5 1226.5ZM1039.2 1245.8H1058.2L1048.7 1228.7ZM1041.4 1247H1060.4L1050.9 1229.9ZM1043.5 1246.2H1062.5L1053 1229.1ZM1045.7 1246.4H1064.7L1055.2 1229.3ZM1047.9 1244.6H1066.9L1057.4 1227.5ZM1050.1 1245.8H1069.1L1059.6 1228.7ZM1052.2 1244.4H1071.2L1061.7 1227.3ZM1054.4 1245.1H1073.4L1063.9 1228ZM1056.6 1246.4H1075.6L1066.1 1229.3ZM1058.8 1248.2H1077.8L1068.3 1231.1ZM1061 1245.9H1080L1070.5 1228.8ZM1063.1 1245.9H1082.1L1072.6 1228.8ZM1065.3 1243.9H1084.3L1074.8 1226.8ZM1067.5 1246.2H1086.5L1077 1229.1ZM1069.7 1245H1088.7L1079.2 1227.9ZM1071.8 1244.4H1090.8L1081.3 1227.3ZM1074 1244.3H1093L1083.5 1227.2ZM1076.2 1246H1095.2L1085.7 1228.9ZM1078.4 1245.3H1097.4L1087.9 1228.2ZM1080.5 1246.4H1099.5L1090 1229.3ZM1082.7 1245.3H1101.7L1092.2 1228.2ZM1084.9 1245.5H1103.9L1094.4 1228.4ZM1087.1 1247H1106.1L1096.6 1229.9ZM1089.3 1246.3H1108.3L1098.8 1229.2ZM1091.4 1246.2H1110.4L1100.9 1229.1ZM1093.6 1246.9H1112.6L1103.1 1229.8ZM1095.8 1245.4H1114.8L1105.3 1228.3ZM1098 1244H1117L1107.5 1226.9ZM1100.1 1244.2H1119.1L1109.6 1227.1ZM1102.3 1243.3H1121.3L1111.8 1226.2ZM1104.5 1245.2H1123.5L1114 1228.1ZM1106.7 1244.3H1125.7L1116.2 1227.2ZM1108.8 1245.1H1127.8L1118.3 1228ZM1111 1245.4H1130L1120.5 1228.3ZM1113.2 1243.5H1132.2L1122.7 1226.4ZM1115.4 1244.4H1134.4L1124.9 1227.3ZM1117.6 1245.5H1136.6L1127.1 1228.4ZM1119.7 1244.1H1138.7L1129.2 1227ZM1121.9 1244.9H1140.9L1131.4 1227.8ZM1124.1 1243.5H1143.1L1133.6 1226.4ZM1126.3 1242.6H1145.3L1135.8 1225.5ZM1128.4 1243.2H1147.4L1137.9 1226.1ZM1130.6 1241.3H1149.6L1140.1 1224.2ZM1132.8 1244H1151.8L1142.3 1226.9ZM1135 1242.5H1154L1144.5 1225.4ZM1137.1 1244.3H1156.1L1146.6 1227.2ZM1139.3 1241.2H1158.3L1148.8 1224.1ZM1141.5 1242.4H1160.5L1151 1225.3ZM1143.7 1242.3H1162.7L1153.2 1225.2ZM1145.9 1241.4H1164.9L1155.4 1224.3ZM1148 1241.8H1167L1157.5 1224.7ZM1150.2 1240.2H1169.2L1159.7 1223.1ZM1152.4 1239.6H1171.4L1161.9 1222.5ZM1154.6 1238.9H1173.6L1164.1 1221.8ZM1156.7 1239.5H1175.7L1166.2 1222.4ZM1158.9 1239H1177.9L1168.4 1221.9ZM1161.1 1239.9H1180.1L1170.6 1222.8ZM1163.3 1238.9H1182.3L1172.8 1221.8ZM1165.5 1238.3H1184.5L1175 1221.2ZM1167.6 1237.9H1186.6L1177.1 1220.8ZM1169.8 1236.4H1188.8L1179.3 1219.3ZM1172 1238.1H1191L1181.5 1221ZM1174.2 1238.9H1193.2L1183.7 1221.8ZM1176.3 1236.9H1195.3L1185.8 1219.8ZM1178.5 1238H1197.5L1188 1220.9ZM1180.7 1239.1H1199.7L1190.2 1222ZM1182.9 1237.4H1201.9L1192.4 1220.3ZM1185 1238.4H1204L1194.5 1221.3ZM1187.2 1237.6H1206.2L1196.7 1220.5ZM1189.4 1240.7H1208.4L1198.9 1223.6ZM1191.6 1239.6H1210.6L1201.1 1222.5ZM1193.8 1239.3H1212.8L1203.3 1222.2ZM1195.9 1237.1H1214.9L1205.4 1220ZM1198.1 1238.6H1217.1L1207.6 1221.5ZM1200.3 1237.6H1219.3L1209.8 1220.5ZM1202.5 1238.2H1221.5L1212 1221.1ZM1204.6 1237.2H1223.6L1214.1 1220.1ZM1206.8 1238.1H1225.8L1216.3 1221ZM1209 1237.1H1228L1218.5 1220ZM1211.2 1238.4H1230.2L1220.7 1221.3ZM1213.3 1240.2H1232.3L1222.8 1223.1ZM1215.5 1236.7H1234.5L1225 1219.6ZM1217.7 1236.8H1236.7L1227.2 1219.7ZM1219.9 1239H1238.9L1229.4 1221.9ZM1222.1 1239.4H1241.1L1231.6 1222.3ZM1224.2 1238.2H1243.2L1233.7 1221.1ZM1226.4 1239.4H1245.4L1235.9 1222.3ZM1228.6 1239.3H1247.6L1238.1 1222.2ZM1230.8 1239.5H1249.8L1240.3 1222.4ZM1232.9 1240.7H1251.9L1242.4 1223.6ZM1235.1 1238.6H1254.1L1244.6 1221.5ZM1237.3 1240.4H1256.3L1246.8 1223.3ZM1239.5 1240.1H1258.5L1249 1223ZM1241.6 1239.3H1260.6L1251.1 1222.2ZM1243.8 1240.9H1262.8L1253.3 1223.8ZM1246 1239.1H1265L1255.5 1222ZM1248.2 1239.1H1267.2L1257.7 1222ZM1250.4 1242.3H1269.4L1259.9 1225.2ZM1252.5 1240.1H1271.5L1262 1223ZM1254.7 1243.5H1273.7L1264.2 1226.4ZM1256.9 1243H1275.9L1266.4 1225.9ZM1259.1 1241.5H1278.1L1268.6 1224.4ZM1261.2 1241.3H1280.2L1270.7 1224.2ZM1263.4 1240H1282.4L1272.9 1222.9ZM1265.6 1242.7H1284.6L1275.1 1225.6ZM1267.8 1241.2H1286.8L1277.3 1224.1ZM1269.9 1245H1288.9L1279.4 1227.9ZM1272.1 1241.6H1291.1L1281.6 1224.5ZM1274.3 1243.8H1293.3L1283.8 1226.7ZM1276.5 1241.5H1295.5L1286 1224.4ZM1278.7 1243.9H1297.7L1288.2 1226.8ZM1280.8 1246H1299.8L1290.3 1228.9ZM1283 1244.2H1302L1292.5 1227.1ZM1285.2 1244.1H1304.2L1294.7 1227ZM1287.4 1244.7H1306.4L1296.9 1227.6ZM1289.5 1245.9H1308.5L1299 1228.8ZM1291.7 1246.8H1310.7L1301.2 1229.7ZM1293.9 1246H1312.9L1303.4 1228.9ZM1296.1 1244.4H1315.1L1305.6 1227.3ZM1298.2 1247.4H1317.2L1307.7 1230.3ZM1300.4 1248.5H1319.4L1309.9 1231.4ZM1302.6 1250.3H1321.6L1312.1 1233.2ZM1304.8 1248.4H1323.8L1314.3 1231.3ZM1307 1248.8H1326L1316.5 1231.7ZM1309.1 1248.5H1328.1L1318.6 1231.4ZM1311.3 1250.2H1330.3L1320.8 1233.1ZM1313.5 1251.7H1332.5L1323 1234.6ZM1315.7 1249.2H1334.7L1325.2 1232.1ZM1317.8 1250.7H1336.8L1327.3 1233.6ZM1320 1249.9H1339L1329.5 1232.8ZM1322.2 1250.7H1341.2L1331.7 1233.6ZM1324.4 1251.6H1343.4L1333.9 1234.5ZM1326.5 1252.7H1345.5L1336 1235.6ZM1328.7 1251.8H1347.7L1338.2 1234.7ZM1330.9 1252.7H1349.9L1340.4 1235.6ZM1333.1 1254.8H1352.1L1342.6 1237.7ZM1335.3 1254.3H1354.3L1344.8 1237.2ZM1337.4 1254.9H1356.4L1346.9 1237.8ZM1339.6 1255H1358.6L1349.1 1237.9ZM1341.8 1254.8H1360.8L1351.3 1237.7ZM1344 1255.9H1363L1353.5 1238.8ZM1346.1 1256.4H1365.1L1355.6 1239.3ZM1348.3 1256.2H1367.3L1357.8 1239.1ZM1350.5 1257.6H1369.5L1360 1240.5ZM1352.7 1256.8H1371.7L1362.2 1239.7ZM1354.8 1257.9H1373.8L1364.3 1240.8ZM1357 1257.3H1376L1366.5 1240.2ZM1359.2 1258.2H1378.2L1368.7 1241.1ZM1361.4 1257.1H1380.4L1370.9 1240ZM1363.6 1257.4H1382.6L1373.1 1240.3ZM1365.7 1257H1384.7L1375.2 1239.9ZM1367.9 1259.6H1386.9L1377.4 1242.5ZM1370.1 1259.1H1389.1L1379.6 1242ZM1372.3 1259.1H1391.3L1381.8 1242ZM1374.4 1259.7H1393.4L1383.9 1242.6ZM1376.6 1258.5H1395.6L1386.1 1241.4ZM1378.8 1259.6H1397.8L1388.3 1242.5ZM1381 1259.3H1400L1390.5 1242.2ZM1383.2 1258.2H1402.2L1392.7 1241.1ZM1385.3 1260H1404.3L1394.8 1242.9ZM1387.5 1259.6H1406.5L1397 1242.5ZM1389.7 1262H1408.7L1399.2 1244.9ZM1391.9 1260.2H1410.9L1401.4 1243.1ZM1394 1260.5H1413L1403.5 1243.4ZM1396.2 1262.3H1415.2L1405.7 1245.2ZM1398.4 1261.6H1417.4L1407.9 1244.5ZM1400.6 1260.6H1419.6L1410.1 1243.5ZM1402.7 1262.2H1421.7L1412.2 1245.1ZM1404.9 1261.6H1423.9L1414.4 1244.5ZM1407.1 1264.1H1426.1L1416.6 1247ZM1409.3 1261.7H1428.3L1418.8 1244.6ZM1411.5 1262.1H1430.5L1421 1245ZM1413.6 1260.9H1432.6L1423.1 1243.8ZM1415.8 1262.4H1434.8L1425.3 1245.3ZM1418 1264.8H1437L1427.5 1247.7ZM1420.2 1263.1H1439.2L1429.7 1246ZM1422.3 1262.4H1441.3L1431.8 1245.3ZM1424.5 1263.7H1443.5L1434 1246.6ZM1426.7 1263.2H1445.7L1436.2 1246.1ZM1428.9 1263.6H1447.9L1438.4 1246.5ZM1431 1265.7H1450L1440.5 1248.6ZM1433.2 1265.6H1452.2L1442.7 1248.5ZM1435.4 1265.3H1454.4L1444.9 1248.2ZM1437.6 1265.5H1456.6L1447.1 1248.4ZM1439.8 1263.3H1458.8L1449.3 1246.2ZM1441.9 1262.4H1460.9L1451.4 1245.3ZM1444.1 1265H1463.1L1453.6 1247.9ZM1446.3 1264.7H1465.3L1455.8 1247.6ZM1448.5 1264.5H1467.5L1458 1247.4ZM1450.6 1264.5H1469.6L1460.1 1247.4ZM1452.8 1265.3H1471.8L1462.3 1248.2ZM1455 1265.3H1474L1464.5 1248.2ZM1457.2 1265.1H1476.2L1466.7 1248ZM1459.3 1265.4H1478.3L1468.8 1248.3ZM1461.5 1264.9H1480.5L1471 1247.8ZM1463.7 1264.9H1482.7L1473.2 1247.8ZM1465.9 1266.5H1484.9L1475.4 1249.4ZM1468.1 1265.2H1487.1L1477.6 1248.1ZM1470.2 1267.2H1489.2L1479.7 1250.1ZM1472.4 1266.2H1491.4L1481.9 1249.1ZM1474.6 1265.8H1493.6L1484.1 1248.7ZM1476.8 1266.8H1495.8L1486.3 1249.7ZM1478.9 1265.6H1497.9L1488.4 1248.5ZM1481.1 1265.9H1500.1L1490.6 1248.8ZM1483.3 1265.9H1502.3L1492.8 1248.8ZM1485.5 1266.4H1504.5L1495 1249.3ZM1487.6 1267.1H1506.6L1497.1 1250ZM1489.8 1268.4H1508.8L1499.3 1251.3ZM1492 1267.2H1511L1501.5 1250.1ZM1494.2 1265.9H1513.2L1503.7 1248.8ZM1496.4 1266.3H1515.4L1505.9 1249.2ZM1498.5 1265.5H1517.5L1508 1248.4ZM1500.7 1267.8H1519.7L1510.2 1250.7ZM1502.9 1268.1H1521.9L1512.4 1251ZM1505.1 1267.7H1524.1L1514.6 1250.6ZM1507.2 1267.9H1526.2L1516.7 1250.8ZM1509.4 1268.2H1528.4L1518.9 1251.1ZM1511.6 1268.2H1530.6L1521.1 1251.1ZM1513.8 1268.5H1532.8L1523.3 1251.4ZM1515.9 1268.3H1534.9L1525.4 1251.2ZM1518.1 1267.4H1537.1L1527.6 1250.3ZM1520.3 1269.1H1539.3L1529.8 1252ZM1522.5 1269.6H1541.5L1532 1252.5ZM1524.7 1267.2H1543.7L1534.2 1250.1ZM1526.8 1268.5H1545.8L1536.3 1251.4ZM1529 1267.9H1548L1538.5 1250.8ZM1531.2 1269.4H1550.2L1540.7 1252.3ZM1533.4 1268.8H1552.4L1542.9 1251.7ZM1535.5 1270.4H1554.5L1545 1253.3ZM1537.7 1270.3H1556.7L1547.2 1253.2ZM1539.9 1269.1H1558.9L1549.4 1252ZM1542.1 1269.2H1561.1L1551.6 1252.1ZM1544.2 1269.3H1563.2L1553.7 1252.2ZM1546.4 1270.4H1565.4L1555.9 1253.3ZM1548.6 1269.3H1567.6L1558.1 1252.2ZM1550.8 1270.5H1569.8L1560.3 1253.4ZM1553 1269.1H1572L1562.5 1252ZM1555.1 1271.3H1574.1L1564.6 1254.2ZM1557.3 1270.9H1576.3L1566.8 1253.8ZM1559.5 1269.7H1578.5L1569 1252.6ZM1561.7 1270.2H1580.7L1571.2 1253.1ZM1563.8 1271.1H1582.8L1573.3 1254ZM1566 1271.3H1585L1575.5 1254.2ZM1568.2 1269.4H1587.2L1577.7 1252.3ZM1570.4 1271.5H1589.4L1579.9 1254.4ZM1572.5 1272.7H1591.5L1582 1255.6ZM1574.7 1271.3H1593.7L1584.2 1254.2ZM1576.9 1270.7H1595.9L1586.4 1253.6ZM1579.1 1272.8H1598.1L1588.6 1255.7ZM1581.3 1272.2H1600.3L1590.8 1255.1ZM1583.4 1272.3H1602.4L1592.9 1255.2ZM1585.6 1272.8H1604.6L1595.1 1255.7ZM1587.8 1271.5H1606.8L1597.3 1254.4ZM1590 1272.1H1609L1599.5 1255ZM1592.1 1271.9H1611.1L1601.6 1254.8ZM1594.3 1272H1613.3L1603.8 1254.9ZM1596.5 1272.8H1615.5L1606 1255.7ZM1598.7 1272.4H1617.7L1608.2 1255.3ZM1600.9 1274.7H1619.9L1610.4 1257.6ZM1603 1274H1622L1612.5 1256.9ZM1605.2 1274.4H1624.2L1614.7 1257.3ZM1607.4 1272.7H1626.4L1616.9 1255.6ZM1609.6 1273.9H1628.6L1619.1 1256.8ZM1611.7 1274.1H1630.7L1621.2 1257ZM1613.9 1274.5H1632.9L1623.4 1257.4ZM1616.1 1274.9H1635.1L1625.6 1257.8ZM1618.3 1274.1H1637.3L1627.8 1257ZM1620.4 1274.2H1639.4L1629.9 1257.1ZM1622.6 1275.7H1641.6L1632.1 1258.6ZM1624.8 1276.8H1643.8L1634.3 1259.7ZM1627 1276.8H1646L1636.5 1259.7ZM1629.2 1275.1H1648.2L1638.7 1258ZM1631.3 1274.9H1650.3L1640.8 1257.8ZM1633.5 1275.7H1652.5L1643 1258.6ZM1635.7 1276.1H1654.7L1645.2 1259ZM1637.9 1277.1H1656.9L1647.4 1260ZM1640 1275.8H1659L1649.5 1258.7ZM1642.2 1275.6H1661.2L1651.7 1258.5ZM1644.4 1277H1663.4L1653.9 1259.9ZM1646.6 1275.8H1665.6L1656.1 1258.7ZM1648.7 1275.9H1667.7L1658.2 1258.8ZM1650.9 1277H1669.9L1660.4 1259.9ZM1653.1 1276.6H1672.1L1662.6 1259.5ZM1655.3 1276.1H1674.3L1664.8 1259ZM1657.5 1276.8H1676.5L1667 1259.7ZM1659.6 1276.8H1678.6L1669.1 1259.7ZM1661.8 1277.1H1680.8L1671.3 1260ZM1664 1276.8H1683L1673.5 1259.7ZM1666.2 1277.9H1685.2L1675.7 1260.8ZM1668.3 1277.4H1687.3L1677.8 1260.3ZM1670.5 1277.3H1689.5L1680 1260.2ZM1672.7 1278.6H1691.7L1682.2 1261.5ZM1674.9 1277.3H1693.9L1684.4 1260.2ZM1677 1278.6H1696L1686.5 1261.5ZM1679.2 1278.6H1698.2L1688.7 1261.5ZM1681.4 1278.2H1700.4L1690.9 1261.1ZM1683.6 1278.6H1702.6L1693.1 1261.5ZM1685.8 1277.5H1704.8L1695.3 1260.4ZM1687.9 1278.8H1706.9L1697.4 1261.7ZM1690.1 1278H1709.1L1699.6 1260.9ZM1692.3 1278.1H1711.3L1701.8 1261ZM1694.5 1279H1713.5L1704 1261.9ZM1696.6 1278.4H1715.6L1706.1 1261.3ZM1698.8 1279H1717.8L1708.3 1261.9ZM1701 1279.3H1720L1710.5 1262.2ZM1703.2 1279.8H1722.2L1712.7 1262.7ZM1705.3 1279.4H1724.3L1714.8 1262.3ZM1707.5 1279.9H1726.5L1717 1262.8ZM1709.7 1278.8H1728.7L1719.2 1261.7ZM1711.9 1279.1H1730.9L1721.4 1262ZM1714.1 1279.8H1733.1L1723.6 1262.7ZM1716.2 1280.3H1735.2L1725.7 1263.2ZM1718.4 1279.8H1737.4L1727.9 1262.7ZM1720.6 1279.2H1739.6L1730.1 1262.1ZM1722.8 1279H1741.8L1732.3 1261.9ZM1724.9 1279.1H1743.9L1734.4 1262ZM1727.1 1280.5H1746.1L1736.6 1263.4ZM1729.3 1279.2H1748.3L1738.8 1262.1ZM1731.5 1279.8H1750.5L1741 1262.7ZM1733.6 1280.4H1752.6L1743.1 1263.3ZM1735.8 1280.4H1754.8L1745.3 1263.3ZM1738 1279.7H1757L1747.5 1262.6ZM1740.2 1281.5H1759.2L1749.7 1264.4ZM1742.4 1280.4H1761.4L1751.9 1263.3ZM1744.5 1280.5H1763.5L1754 1263.4ZM1746.7 1280.9H1765.7L1756.2 1263.8ZM1748.9 1280.3H1767.9L1758.4 1263.2ZM1751.1 1280.9H1770.1L1760.6 1263.8ZM1753.2 1280.4H1772.2L1762.7 1263.3ZM1755.4 1279.9H1774.4L1764.9 1262.8ZM1757.6 1279.9H1776.6L1767.1 1262.8ZM1759.8 1280.8H1778.8L1769.3 1263.7ZM1761.9 1280.6H1780.9L1771.4 1263.5ZM1764.1 1280.4H1783.1L1773.6 1263.3ZM1766.3 1280.3H1785.3L1775.8 1263.2ZM1768.5 1280.4H1787.5L1778 1263.3ZM1770.7 1281.1H1789.7L1780.2 1264ZM1772.8 1281.3H1791.8L1782.3 1264.2ZM1775 1280.4H1794L1784.5 1263.3ZM1777.2 1280.8H1796.2L1786.7 1263.7ZM1779.4 1279.4H1798.4L1788.9 1262.3ZM1781.5 1279.9H1800.5L1791 1262.8ZM1783.7 1280.2H1802.7L1793.2 1263.1ZM1785.9 1280.1H1804.9L1795.4 1263ZM1788.1 1281.1H1807.1L1797.6 1264ZM1790.2 1279.3H1809.2L1799.7 1262.2ZM1792.4 1281H1811.4L1801.9 1263.9ZM1794.6 1281.1H1813.6L1804.1 1264ZM1796.8 1282.1H1815.8L1806.3 1265ZM1799 1280.4H1818L1808.5 1263.3ZM1801.1 1281H1820.1L1810.6 1263.9ZM1803.3 1281.7H1822.3L1812.8 1264.6ZM1805.5 1281.4H1824.5L1815 1264.3ZM1807.7 1280.2H1826.7L1817.2 1263.1ZM1809.8 1280.6H1828.8L1819.3 1263.5ZM1812 1280.1H1831L1821.5 1263ZM1814.2 1280.8H1833.2L1823.7 1263.7ZM1816.4 1281.3H1835.4L1825.9 1264.2ZM1818.5 1281.7H1837.5L1828 1264.6ZM1820.7 1281.2H1839.7L1830.2 1264.1ZM1822.9 1281.5H1841.9L1832.4 1264.4ZM1825.1 1281.6H1844.1L1834.6 1264.5ZM1827.3 1280.4H1846.3L1836.8 1263.3ZM1829.4 1281.4H1848.4L1838.9 1264.3ZM1831.6 1281.6H1850.6L1841.1 1264.5ZM1833.8 1280.9H1852.8L1843.3 1263.8ZM1836 1280.5H1855L1845.5 1263.4ZM1838.1 1281.2H1857.1L1847.6 1264.1ZM1840.3 1281.2H1859.3L1849.8 1264.1ZM1842.5 1281.6H1861.5L1852 1264.5ZM1844.7 1280.1H1863.7L1854.2 1263ZM1846.9 1281H1865.9L1856.4 1263.9ZM1849 1282.5H1868L1858.5 1265.4ZM1851.2 1282.1H1870.2L1860.7 1265ZM1853.4 1281.2H1872.4L1862.9 1264.1ZM1855.6 1281.2H1874.6L1865.1 1264.1ZM1857.7 1281.2H1876.7L1867.2 1264.1ZM1859.9 1280.8H1878.9L1869.4 1263.7ZM1862.1 1281.1H1881.1L1871.6 1264ZM1864.3 1281.4H1883.3L1873.8 1264.3ZM1866.4 1280.7H1885.4L1875.9 1263.6ZM1868.6 1281.5H1887.6L1878.1 1264.4ZM1870.8 1281.7H1889.8L1880.3 1264.6ZM1873 1280.8H1892L1882.5 1263.7ZM1875.2 1281.3H1894.2L1884.7 1264.2ZM1877.3 1280.7H1896.3L1886.8 1263.6ZM1879.5 1281.7H1898.5L1889 1264.6ZM1881.7 1281.8H1900.7L1891.2 1264.7ZM1883.9 1281.4H1902.9L1893.4 1264.3ZM1886 1281.8H1905L1895.5 1264.7ZM1888.2 1282.1H1907.2L1897.7 1265ZM1890.4 1282.2H1909.4L1899.9 1265.1ZM1892.6 1281H1911.6L1902.1 1263.9ZM1894.7 1281.7H1913.7L1904.2 1264.6ZM1896.9 1281H1915.9L1906.4 1263.9ZM1899.1 1280.8H1918.1L1908.6 1263.7ZM1901.3 1282.6H1920.3L1910.8 1265.5ZM1903.5 1282.5H1922.5L1913 1265.4ZM1905.6 1282.8H1924.6L1915.1 1265.7ZM1907.8 1282.6H1926.8L1917.3 1265.5ZM1910 1281.8H1929L1919.5 1264.7ZM1912.2 1282.3H1931.2L1921.7 1265.2ZM1914.3 1281.9H1933.3L1923.8 1264.8ZM1916.5 1283.1H1935.5L1926 1266ZM1918.7 1280.9H1937.7L1928.2 1263.8ZM1920.9 1282.6H1939.9L1930.4 1265.5ZM1923 1282H1942L1932.5 1264.9ZM1925.2 1282.8H1944.2L1934.7 1265.7ZM1927.4 1283.1H1946.4L1936.9 1266ZM1929.6 1282.1H1948.6L1939.1 1265ZM1931.8 1283.3H1950.8L1941.3 1266.2Z"/>
<path fill="#00f" d="M312.1 1269.1H331.1L321.6 1286.2ZM314.2 1269.6H333.2L323.7 1286.7ZM316.4 1268.5H335.4L325.9 1285.6ZM318.6 1269.5H337.6L328.1 1286.6ZM320.8 1268.9H339.8L330.3 1286ZM323 1268.9H342L332.5 1286ZM325.1 1270H344.1L334.6 1287.1ZM327.3 1269.1H346.3L336.8 1286.2ZM329.5 1269.1H348.5L339 1286.2ZM331.7 1269.5H350.7L341.2 1286.6ZM333.8 1269.7H352.8L343.3 1286.8ZM336 1269.1H355L345.5 1286.2ZM338.2 1269.4H357.2L347.7 1286.5ZM340.4 1268.6H359.4L349.9 1285.7ZM342.5 1269H361.5L352 1286.1ZM344.7 1268.9H363.7L354.2 1286ZM346.9 1268.5H365.9L356.4 1285.6ZM349.1 1268.4H368.1L358.6 1285.5ZM351.3 1268.4H370.3L360.8 1285.5ZM353.4 1269.1H372.4L362.9 1286.2ZM355.6 1269.1H374.6L365.1 1286.2ZM357.8 1268.4H376.8L367.3 1285.5ZM360 1268H379L369.5 1285.1ZM362.1 1266.5H381.1L371.6 1283.6ZM364.3 1266.6H383.3L373.8 1283.7ZM366.5 1266.2H385.5L376 1283.3ZM368.7 1265.9H387.7L378.2 1283ZM370.8 1264.4H389.8L380.3 1281.5ZM373 1264.3H392L382.5 1281.4ZM375.2 1262.8H394.2L384.7 1279.9ZM377.4 1263.5H396.4L386.9 1280.6ZM379.6 1262H398.6L389.1 1279.1ZM381.7 1262.2H400.7L391.2 1279.3ZM383.9 1263.6H402.9L393.4 1280.7ZM386.1 1260.9H405.1L395.6 1278ZM388.3 1262.7H407.3L397.8 1279.8ZM390.4 1262H409.4L399.9 1279.1ZM392.6 1261.2H411.6L402.1 1278.3ZM394.8 1261.4H413.8L404.3 1278.5ZM397 1261.1H416L406.5 1278.2ZM399.1 1261.2H418.1L408.6 1278.3ZM401.3 1259.8H420.3L410.8 1276.9ZM403.5 1259.2H422.5L413 1276.3ZM405.7 1258.8H424.7L415.2 1275.9ZM407.9 1258.2H426.9L417.4 1275.3ZM410 1258.6H429L419.5 1275.7ZM412.2 1257.7H431.2L421.7 1274.8ZM414.4 1259H433.4L423.9 1276.1ZM416.6 1256.3H435.6L426.1 1273.4ZM418.7 1256.7H437.7L428.2 1273.8ZM420.9 1256.6H439.9L430.4 1273.7ZM423.1 1255.3H442.1L432.6 1272.4ZM425.3 1258.5H444.3L434.8 1275.6ZM427.4 1254.6H446.4L436.9 1271.7ZM429.6 1256.1H448.6L439.1 1273.2ZM431.8 1255.6H450.8L441.3 1272.7ZM434 1257.3H453L443.5 1274.4ZM436.2 1253.8H455.2L445.7 1270.9ZM438.3 1256.3H457.3L447.8 1273.4ZM440.5 1254.4H459.5L450 1271.5ZM442.7 1254.7H461.7L452.2 1271.8ZM444.9 1254.1H463.9L454.4 1271.2ZM447 1255.2H466L456.5 1272.3ZM449.2 1253.4H468.2L458.7 1270.5ZM451.4 1254.2H470.4L460.9 1271.3ZM453.6 1254.5H472.6L463.1 1271.6ZM455.7 1255.7H474.7L465.2 1272.8ZM457.9 1251.7H476.9L467.4 1268.8ZM460.1 1255.1H479.1L469.6 1272.2ZM462.3 1254.5H481.3L471.8 1271.6ZM464.5 1253H483.5L474 1270.1ZM466.6 1253.6H485.6L476.1 1270.7ZM468.8 1252.7H487.8L478.3 1269.8ZM471 1254.6H490L480.5 1271.7ZM473.2 1253.2H492.2L482.7 1270.3ZM475.3 1252.7H494.3L484.8 1269.8ZM477.5 1252.6H496.5L487 1269.7ZM479.7 1252.5H498.7L489.2 1269.6ZM481.9 1252.4H500.9L491.4 1269.5ZM484 1251.7H503L493.5 1268.8ZM486.2 1254.1H505.2L495.7 1271.2ZM488.4 1249.8H507.4L497.9 1266.9ZM490.6 1249H509.6L500.1 1266.1ZM492.8 1250.8H511.8L502.3 1267.9ZM494.9 1250.3H513.9L504.4 1267.4ZM497.1 1249.5H516.1L506.6 1266.6ZM499.3 1247.1H518.3L508.8 1264.2ZM501.5 1245.4H520.5L511 1262.5ZM503.6 1244.1H522.6L513.1 1261.2ZM505.8 1242.6H524.8L515.3 1259.7ZM508 1238.7H527L517.5 1255.8ZM510.2 1238.2H529.2L519.7 1255.3ZM512.4 1241H531.4L521.9 1258.1ZM514.5 1239.3H533.5L524 1256.4ZM516.7 1237.5H535.7L526.2 1254.6ZM518.9 1241.4H537.9L528.4 1258.5ZM521.1 1239.6H540.1L530.6 1256.7ZM523.2 1238.6H542.2L532.7 1255.7ZM525.4 1239.9H544.4L534.9 1257ZM527.6 1243.6H546.6L537.1 1260.7ZM529.8 1243.6H548.8L539.3 1260.7ZM531.9 1244.4H550.9L541.4 1261.5ZM534.1 1244.1H553.1L543.6 1261.2ZM536.3 1244.9H555.3L545.8 1262ZM538.5 1246.5H557.5L548 1263.6ZM540.7 1244.8H559.7L550.2 1261.9ZM542.8 1243.6H561.8L552.3 1260.7ZM545 1245.8H564L554.5 1262.9ZM547.2 1245.1H566.2L556.7 1262.2ZM549.4 1245.9H568.4L558.9 1263ZM551.5 1246.2H570.5L561 1263.3ZM553.7 1244.6H572.7L563.2 1261.7ZM555.9 1244.5H574.9L565.4 1261.6ZM558.1 1244.6H577.1L567.6 1261.7ZM560.2 1243.2H579.2L569.7 1260.3ZM562.4 1245.1H581.4L571.9 1262.2ZM564.6 1245.8H583.6L574.1 1262.9ZM566.8 1244.3H585.8L576.3 1261.4ZM569 1243.7H588L578.5 1260.8ZM571.1 1243.6H590.1L580.6 1260.7ZM573.3 1242.9H592.3L582.8 1260ZM575.5 1242.7H594.5L585 1259.8ZM577.7 1243H596.7L587.2 1260.1ZM579.8 1242.4H598.8L589.3 1259.5ZM582 1242.7H601L591.5 1259.8ZM584.2 1241.3H603.2L593.7 1258.4ZM586.4 1243.4H605.4L595.9 1260.5ZM588.5 1242.9H607.5L598 1260ZM590.7 1241.4H609.7L600.2 1258.5ZM592.9 1240H611.9L602.4 1257.1ZM595.1 1242.5H614.1L604.6 1259.6ZM597.3 1243.7H616.3L606.8 1260.8ZM599.4 1241.4H618.4L608.9 1258.5ZM601.6 1241.6H620.6L611.1 1258.7ZM603.8 1241.4H622.8L613.3 1258.5ZM606 1242.7H625L615.5 1259.8ZM608.1 1240.8H627.1L617.6 1257.9ZM610.3 1242.8H629.3L619.8 1259.9ZM612.5 1241.1H631.5L622 1258.2ZM614.7 1242.3H633.7L624.2 1259.4ZM616.8 1241H635.8L626.3 1258.1ZM619 1240.5H638L628.5 1257.6ZM621.2 1238.8H640.2L630.7 1255.9ZM623.4 1239.5H642.4L632.9 1256.6ZM625.6 1239.8H644.6L635.1 1256.9ZM627.7 1240.6H646.7L637.2 1257.7ZM629.9 1239.9H648.9L639.4 1257ZM632.1 1238.6H651.1L641.6 1255.7ZM634.3 1239.7H653.3L643.8 1256.8ZM636.4 1240.2H655.4L645.9 1257.3ZM638.6 1238.6H657.6L648.1 1255.7ZM640.8 1238H659.8L650.3 1255.1ZM643 1237.7H662L652.5 1254.8ZM645.1 1238.9H664.1L654.6 1256ZM647.3 1238.2H666.3L656.8 1255.3ZM649.5 1236.1H668.5L659 1253.2ZM651.7 1237.4H670.7L661.2 1254.5ZM653.9 1236.1H672.9L663.4 1253.2ZM656 1235.4H675L665.5 1252.5ZM658.2 1237.6H677.2L667.7 1254.7ZM660.4 1236.8H679.4L669.9 1253.9ZM662.6 1234.5H681.6L672.1 1251.6ZM664.7 1235.2H683.7L674.2 1252.3ZM666.9 1235.5H685.9L676.4 1252.6ZM669.1 1233.7H688.1L678.6 1250.8ZM671.3 1234H690.3L680.8 1251.1ZM673.4 1234.8H692.4L682.9 1251.9ZM675.6 1231.3H694.6L685.1 1248.4ZM677.8 1233.7H696.8L687.3 1250.8ZM680 1233.9H699L689.5 1251ZM682.2 1232.7H701.2L691.7 1249.8ZM684.3 1229.2H703.3L693.8 1246.3ZM686.5 1230.3H705.5L696 1247.4ZM688.7 1227.6H707.7L698.2 1244.7ZM690.9 1228.4H709.9L700.4 1245.5ZM693 1227.4H712L702.5 1244.5ZM695.2 1225.7H714.2L704.7 1242.8ZM697.4 1224.2H716.4L706.9 1241.3ZM699.6 1224.9H718.6L709.1 1242ZM701.7 1227.4H720.7L711.2 1244.5ZM703.9 1225.4H722.9L713.4 1242.5ZM706.1 1227.7H725.1L715.6 1244.8ZM708.3 1228.2H727.3L717.8 1245.3ZM710.5 1227.5H729.5L720 1244.6ZM712.6 1230.3H731.6L722.1 1247.4ZM714.8 1226.4H733.8L724.3 1243.5ZM717 1228.5H736L726.5 1245.6ZM719.2 1221.7H738.2L728.7 1238.8ZM721.3 1220.5H740.3L730.8 1237.6ZM723.5 1224.4H742.5L733 1241.5ZM725.7 1223H744.7L735.2 1240.1ZM727.9 1220.8H746.9L737.4 1237.9ZM730 1220.3H749L739.5 1237.4ZM732.2 1216.7H751.2L741.7 1233.8ZM734.4 1217.8H753.4L743.9 1234.9ZM736.6 1216.3H755.6L746.1 1233.4ZM738.8 1216.7H757.8L748.3 1233.8ZM740.9 1217.6H759.9L750.4 1234.7ZM743.1 1215.5H762.1L752.6 1232.6ZM745.3 1215.1H764.3L754.8 1232.2ZM747.5 1212.6H766.5L757 1229.7ZM749.6 1212.2H768.6L759.1 1229.3ZM751.8 1212.2H770.8L761.3 1229.3ZM754 1211.1H773L763.5 1228.2ZM756.2 1213.1H775.2L765.7 1230.2ZM758.4 1209.1H777.4L767.9 1226.2ZM760.5 1213.1H779.5L770 1230.2ZM762.7 1207.9H781.7L772.2 1225ZM764.9 1210.8H783.9L774.4 1227.9ZM767.1 1207.2H786.1L776.6 1224.3ZM769.2 1210.2H788.2L778.7 1227.3ZM771.4 1206.6H790.4L780.9 1223.7ZM773.6 1205.8H792.6L783.1 1222.9ZM775.8 1205.3H794.8L785.3 1222.4ZM777.9 1201.8H796.9L787.4 1218.9ZM780.1 1199.9H799.1L789.6 1217ZM782.3 1197H801.3L791.8 1214.1ZM784.5 1201.6H803.5L794 1218.7ZM786.7 1197H805.7L796.2 1214.1ZM788.8 1196H807.8L798.3 1213.1ZM791 1195.9H810L800.5 1213ZM793.2 1198.4H812.2L802.7 1215.5ZM795.4 1190.4H814.4L804.9 1207.5ZM797.5 1192.7H816.5L807 1209.8ZM799.7 1190.1H818.7L809.2 1207.2ZM801.9 1190.5H820.9L811.4 1207.6ZM804.1 1184.6H823.1L813.6 1201.7ZM806.2 1185.9H825.2L815.7 1203ZM808.4 1187H827.4L817.9 1204.1ZM810.6 1187H829.6L820.1 1204.1ZM812.8 1185.7H831.8L822.3 1202.8ZM815 1179.5H834L824.5 1196.6ZM817.1 1179.9H836.1L826.6 1197ZM819.3 1178.2H838.3L828.8 1195.3ZM821.5 1172.7H840.5L831 1189.8ZM823.7 1169.4H842.7L833.2 1186.5ZM825.8 1171.1H844.8L835.3 1188.2ZM828 1166.9H847L837.5 1184ZM830.2 1163H849.2L839.7 1180.1ZM832.4 1163H851.4L841.9 1180.1ZM834.5 1155H853.5L844 1172.1ZM836.7 1155.4H855.7L846.2 1172.5ZM838.9 1151.2H857.9L848.4 1168.3ZM841.1 1148H860.1L850.6 1165.1ZM843.3 1146.7H862.3L852.8 1163.8ZM845.4 1143.5H864.4L854.9 1160.6ZM847.6 1141.3H866.6L857.1 1158.4ZM849.8 1138.8H868.8L859.3 1155.9ZM852 1140.6H871L861.5 1157.7ZM854.1 1132.5H873.1L863.6 1149.6ZM856.3 1133.4H875.3L865.8 1150.5ZM858.5 1129.9H877.5L868 1147ZM860.7 1124.9H879.7L870.2 1142ZM862.8 1125.5H881.8L872.3 1142.6ZM865 1118.6H884L874.5 1135.7ZM867.2 1121.6H886.2L876.7 1138.7ZM869.4 1113.8H888.4L878.9 1130.9ZM871.6 1112.2H890.6L881.1 1129.3ZM873.7 1112H892.7L883.2 1129.1ZM875.9 1110.9H894.9L885.4 1128ZM878.1 1108.4H897.1L887.6 1125.5ZM880.3 1105.6H899.3L889.8 1122.7ZM882.4 1099.8H901.4L891.9 1116.9ZM884.6 1094.9H903.6L894.1 1112ZM886.8 1096.5H905.8L896.3 1113.6ZM889 1093.1H908L898.5 1110.2ZM891.1 1086.6H910.1L900.6 1103.7ZM893.3 1089.7H912.3L902.8 1106.8ZM895.5 1084.6H914.5L905 1101.7ZM897.7 1077.4H916.7L907.2 1094.5ZM899.9 1077.2H918.9L909.4 1094.3ZM902 1067.1H921L911.5 1084.2ZM904.2 1064H923.2L913.7 1081.1ZM906.4 1063.6H925.4L915.9 1080.7ZM908.6 1052.6H927.6L918.1 1069.7ZM910.7 1053.4H929.7L920.2 1070.5ZM912.9 1044H931.9L922.4 1061.1ZM915.1 1046H934.1L924.6 1063.1ZM917.3 1035.9H936.3L926.8 1053ZM919.4 1034H938.4L928.9 1051.1ZM921.6 1022.9H940.6L931.1 1040ZM923.8 1021.7H942.8L933.3 1038.8ZM926 1021.1H945L935.5 1038.2ZM928.2 1014H947.2L937.7 1031.1ZM930.3 1001.5H949.3L939.8 1018.6ZM932.5 1009.8H951.5L942 1026.9ZM934.7 1007.6H953.7L944.2 1024.7ZM936.9 1000.7H955.9L946.4 1017.8ZM939 1005.4H958L948.5 1022.5ZM941.2 993.8H960.2L950.7 1010.9ZM943.4 995.4H962.4L952.9 1012.5ZM945.6 998H964.6L955.1 1015.1ZM947.8 996.6H966.8L957.2 1013.7ZM949.9 994.7H968.9L959.4 1011.8ZM952.1 984.3H971.1L961.6 1001.4ZM954.3 980.4H973.3L963.8 997.5ZM956.5 987.8H975.5L966 1004.9ZM958.6 979.4H977.6L968.1 996.5ZM960.8 983.4H979.8L970.3 1000.5ZM963 977.7H982L972.5 994.8ZM965.2 985.8H984.2L974.7 1002.9ZM967.3 983.6H986.3L976.8 1000.7ZM969.5 981.4H988.5L979 998.5ZM971.7 978.1H990.7L981.2 995.2ZM973.9 977.1H992.9L983.4 994.2ZM976.1 974.5H995.1L985.6 991.6ZM978.2 976.1H997.2L987.7 993.2ZM980.4 975.4H999.4L989.9 992.5ZM982.6 976.7H1001.6L992.1 993.8ZM984.8 973.7H1003.8L994.3 990.8ZM986.9 983.5H1005.9L996.4 1000.6ZM989.1 977.5H1008.1L998.6 994.6ZM991.3 982.4H1010.3L1000.8 999.5ZM993.5 982.6H1012.5L1003 999.7ZM995.6 974.2H1014.6L1005.1 991.3ZM997.8 971.5H1016.8L1007.3 988.6ZM1000 983.7H1019L1009.5 1000.8ZM1002.2 977.6H1021.2L1011.7 994.7ZM1004.4 980H1023.4L1013.9 997.1ZM1006.5 979.1H1025.5L1016 996.2ZM1008.7 981.1H1027.7L1018.2 998.2ZM1010.9 977.1H1029.9L1020.4 994.2ZM1013.1 982.7H1032.1L1022.6 999.8ZM1015.2 982.6H1034.2L1024.7 999.7ZM1017.4 985.6H1036.4L1026.9 1002.7ZM1019.6 978H1038.6L1029.1 995.1ZM1021.8 991.5H1040.8L1031.3 1008.6ZM1023.9 990.8H1042.9L1033.4 1007.9ZM1026.1 984.1H1045.1L1035.6 1001.2ZM1028.3 989.3H1047.3L1037.8 1006.4ZM1030.5 993.5H1049.5L1040 1010.6ZM1032.7 997.1H1051.7L1042.2 1014.2ZM1034.8 996H1053.8L1044.3 1013.1ZM1037 1002.5H1056L1046.5 1019.6ZM1039.2 998.6H1058.2L1048.7 1015.7ZM1041.4 996H1060.4L1050.9 1013.1ZM1043.5 998.5H1062.5L1053 1015.6ZM1045.7 1005.2H1064.7L1055.2 1022.3ZM1047.9 1001.3H1066.9L1057.4 1018.4ZM1050.1 1008.1H1069.1L1059.6 1025.2ZM1052.2 1010H1071.2L1061.7 1027.1ZM1054.4 1009.7H1073.4L1063.9 1026.8ZM1056.6 1012.5H1075.6L1066.1 1029.6ZM1058.8 1009.4H1077.8L1068.3 1026.5ZM1061 1011.2H1080L1070.5 1028.3ZM1063.1 1010.4H1082.1L1072.6 1027.5ZM1065.3 1011.6H1084.3L1074.8 1028.7ZM1067.5 1009.3H1086.5L1077 1026.4ZM1069.7 1014.3H1088.7L1079.2 1031.4ZM1071.8 1013.1H1090.8L1081.3 1030.2ZM1074 1012.2H1093L1083.5 1029.3ZM1076.2 1018.4H1095.2L1085.7 1035.5ZM1078.4 1019.9H1097.4L1087.9 1037ZM1080.5 1017.4H1099.5L1090 1034.5ZM1082.7 1024H1101.7L1092.2 1041.1ZM1084.9 1022.8H1103.9L1094.4 1039.9ZM1087.1 1023.6H1106.1L1096.6 1040.7ZM1089.3 1018H1108.3L1098.8 1035.1ZM1091.4 1015.1H1110.4L1100.9 1032.2ZM1093.6 1022.9H1112.6L1103.1 1040ZM1095.8 1022.4H1114.8L1105.3 1039.5ZM1098 1024.3H1117L1107.5 1041.4ZM1100.1 1023.6H1119.1L1109.6 1040.7ZM1102.3 1026.9H1121.3L1111.8 1044ZM1104.5 1021.6H1123.5L1114 1038.7ZM1106.7 1025.3H1125.7L1116.2 1042.4ZM1108.8 1020H1127.8L1118.3 1037.1ZM1111 1015.2H1130L1120.5 1032.3ZM1113.2 1022.2H1132.2L1122.7 1039.3ZM1115.4 1029.4H1134.4L1124.9 1046.5ZM1117.6 1018.3H1136.6L1127.1 1035.4ZM1119.7 1028.2H1138.7L1129.2 1045.3ZM1121.9 1022.4H1140.9L1131.4 1039.5ZM1124.1 1023.7H1143.1L1133.6 1040.8ZM1126.3 1025.6H1145.3L1135.8 1042.7ZM1128.4 1026.5H1147.4L1137.9 1043.6ZM1130.6 1022.4H1149.6L1140.1 1039.5ZM1132.8 1026.2H1151.8L1142.3 1043.3ZM1135 1027.2H1154L1144.5 1044.3ZM1137.1 1028.5H1156.1L1146.6 1045.6ZM1139.3 1022.7H1158.3L1148.8 1039.8ZM1141.5 1030.9H1160.5L1151 1048ZM1143.7 1032H1162.7L1153.2 1049.1ZM1145.9 1033.3H1164.9L1155.4 1050.4ZM1148 1020.2H1167L1157.5 1037.3ZM1150.2 1025.5H1169.2L1159.7 1042.6ZM1152.4 1018.1H1171.4L1161.9 1035.2ZM1154.6 1026H1173.6L1164.1 1043.1ZM1156.7 1026.5H1175.7L1166.2 1043.6ZM1158.9 1020.3H1177.9L1168.4 1037.4ZM1161.1 1018.7H1180.1L1170.6 1035.8ZM1163.3 1025.1H1182.3L1172.8 1042.2ZM1165.5 1026.6H1184.5L1175 1043.7ZM1167.6 1021.5H1186.6L1177.1 1038.6ZM1169.8 1023.4H1188.8L1179.3 1040.5ZM1172 1016.1H1191L1181.5 1033.2ZM1174.2 1021.8H1193.2L1183.7 1038.9ZM1176.3 1024.9H1195.3L1185.8 1042ZM1178.5 1024.9H1197.5L1188 1042ZM1180.7 1030.1H1199.7L1190.2 1047.2ZM1182.9 1020.3H1201.9L1192.4 1037.4ZM1185 1016.3H1204L1194.5 1033.4ZM1187.2 1026H1206.2L1196.7 1043.1ZM1189.4 1022.3H1208.4L1198.9 1039.4ZM1191.6 1026H1210.6L1201.1 1043.1ZM1193.8 1028.1H1212.8L1203.3 1045.2ZM1195.9 1028.2H1214.9L1205.4 1045.3ZM1198.1 1031.8H1217.1L1207.6 1048.9ZM1200.3 1032.1H1219.3L1209.8 1049.2ZM1202.5 1021.9H1221.5L1212 1039ZM1204.6 1028.2H1223.6L1214.1 1045.3ZM1206.8 1036.1H1225.8L1216.3 1053.2ZM1209 1028.1H1228L1218.5 1045.2ZM1211.2 1034.3H1230.2L1220.7 1051.4ZM1213.3 1032.1H1232.3L1222.8 1049.2ZM1215.5 1032.2H1234.5L1225 1049.3ZM1217.7 1040.7H1236.7L1227.2 1057.8ZM1219.9 1040.2H1238.9L1229.4 1057.3ZM1222.1 1037.1H1241.1L1231.6 1054.2ZM1224.2 1042.5H1243.2L1233.7 1059.6ZM1226.4 1036.3H1245.4L1235.9 1053.4ZM1228.6 1039.7H1247.6L1238.1 1056.8ZM1230.8 1046.4H1249.8L1240.3 1063.5ZM1232.9 1044.4H1251.9L1242.4 1061.5ZM1235.1 1041.6H1254.1L1244.6 1058.7ZM1237.3 1047.6H1256.3L1246.8 1064.7ZM1239.5 1048.2H1258.5L1249 1065.3ZM1241.6 1052.3H1260.6L1251.1 1069.4ZM1243.8 1052.1H1262.8L1253.3 1069.2ZM1246 1048.9H1265L1255.5 1066ZM1248.2 1049.1H1267.2L1257.7 1066.2ZM1250.4 1051.6H1269.4L1259.9 1068.7ZM1252.5 1052.9H1271.5L1262 1070ZM1254.7 1060.1H1273.7L1264.2 1077.2ZM1256.9 1062H1275.9L1266.4 1079.1ZM1259.1 1062.8H1278.1L1268.6 1079.9ZM1261.2 1061.2H1280.2L1270.7 1078.3ZM1263.4 1060.7H1282.4L1272.9 1077.8ZM1265.6 1066H1284.6L1275.1 1083.1ZM1267.8 1063.5H1286.8L1277.3 1080.6ZM1269.9 1067.1H1288.9L1279.4 1084.2ZM1272.1 1062.7H1291.1L1281.6 1079.8ZM1274.3 1068.5H1293.3L1283.8 1085.6ZM1276.5 1076.2H1295.5L1286 1093.3ZM1278.7 1070.1H1297.7L1288.2 1087.2ZM1280.8 1070.5H1299.8L1290.3 1087.6ZM1283 1076.4H1302L1292.5 1093.5ZM1285.2 1083.8H1304.2L1294.7 1100.9ZM1287.4 1084.9H1306.4L1296.9 1102ZM1289.5 1081.1H1308.5L1299 1098.2ZM1291.7 1082.5H1310.7L1301.2 1099.6ZM1293.9 1085.4H1312.9L1303.4 1102.5ZM1296.1 1084.7H1315.1L1305.6 1101.8ZM1298.2 1089.4H1317.2L1307.7 1106.5ZM1300.4 1090.2H1319.4L1309.9 1107.3ZM1302.6 1088.5H1321.6L1312.1 1105.6ZM1304.8 1092.9H1323.8L1314.3 1110ZM1307 1095.6H1326L1316.5 1112.7ZM1309.1 1095.7H1328.1L1318.6 1112.8ZM1311.3 1096.8H1330.3L1320.8 1113.9ZM1313.5 1104.6H1332.5L1323 1121.7ZM1315.7 1109.3H1334.7L1325.2 1126.4ZM1317.8 1105H1336.8L1327.3 1122.1ZM1320 1106.5H1339L1329.5 1123.6ZM1322.2 1111H1341.2L1331.7 1128.1ZM1324.4 1110.8H1343.4L1333.9 1127.9ZM1326.5 1111.2H1345.5L1336 1128.3ZM1328.7 1119H1347.7L1338.2 1136.1ZM1330.9 1113.5H1349.9L1340.4 1130.6ZM1333.1 1115.4H1352.1L1342.6 1132.5ZM1335.3 1116.8H1354.3L1344.8 1133.9ZM1337.4 1117.3H1356.4L1346.9 1134.4ZM1339.6 1120.2H1358.6L1349.1 1137.3ZM1341.8 1123.5H1360.8L1351.3 1140.6ZM1344 1126.9H1363L1353.5 1144ZM1346.1 1125.9H1365.1L1355.6 1143ZM1348.3 1125.4H1367.3L1357.8 1142.5ZM1350.5 1123.4H1369.5L1360 1140.5ZM1352.7 1128H1371.7L1362.2 1145.1ZM1354.8 1127.1H1373.8L1364.3 1144.2ZM1357 1130.7H1376L1366.5 1147.8ZM1359.2 1134.8H1378.2L1368.7 1151.9ZM1361.4 1134.3H1380.4L1370.9 1151.4ZM1363.6 1134.6H1382.6L1373.1 1151.7ZM1365.7 1134.7H1384.7L1375.2 1151.8ZM1367.9 1137.9H1386.9L1377.4 1155ZM1370.1 1139.3H1389.1L1379.6 1156.4ZM1372.3 1137.8H1391.3L1381.8 1154.9ZM1374.4 1139.9H1393.4L1383.9 1157ZM1376.6 1144.4H1395.6L1386.1 1161.5ZM1378.8 1139.2H1397.8L1388.3 1156.3ZM1381 1143.3H1400L1390.5 1160.4ZM1383.2 1142.6H1402.2L1392.7 1159.7ZM1385.3 1150.2H1404.3L1394.8 1167.3ZM1387.5 1148.9H1406.5L1397 1166ZM1389.7 1149.9H1408.7L1399.2 1167ZM1391.9 1150.7H1410.9L1401.4 1167.8ZM1394 1151.6H1413L1403.5 1168.7ZM1396.2 1152.8H1415.2L1405.7 1169.9ZM1398.4 1149.6H1417.4L1407.9 1166.7ZM1400.6 1155H1419.6L1410.1 1172.1ZM1402.7 1157H1421.7L1412.2 1174.1ZM1404.9 1153.5H1423.9L1414.4 1170.6ZM1407.1 1159.8H1426.1L1416.6 1176.9ZM1409.3 1160.3H1428.3L1418.8 1177.4ZM1411.5 1156.1H1430.5L1421 1173.2ZM1413.6 1159.2H1432.6L1423.1 1176.3ZM1415.8 1160.3H1434.8L1425.3 1177.4ZM1418 1160.5H1437L1427.5 1177.6ZM1420.2 1163.3H1439.2L1429.7 1180.4ZM1422.3 1160.3H1441.3L1431.8 1177.4ZM1424.5 1163.4H1443.5L1434 1180.5ZM1426.7 1165.1H1445.7L1436.2 1182.2ZM1428.9 1166.9H1447.9L1438.4 1184ZM1431 1166.1H1450L1440.5 1183.2ZM1433.2 1166.2H1452.2L1442.7 1183.3ZM1435.4 1169H1454.4L1444.9 1186.1ZM1437.6 1163.9H1456.6L1447.1 1181ZM1439.8 1171.1H1458.8L1449.3 1188.2ZM1441.9 1169.2H1460.9L1451.4 1186.3ZM1444.1 1168H1463.1L1453.6 1185.1ZM1446.3 1170.6H1465.3L1455.8 1187.7ZM1448.5 1168.5H1467.5L1458 1185.6ZM1450.6 1168.9H1469.6L1460.1 1186ZM1452.8 1173.3H1471.8L1462.3 1190.4ZM1455 1173.2H1474L1464.5 1190.3ZM1457.2 1177.2H1476.2L1466.7 1194.3ZM1459.3 1174.7H1478.3L1468.8 1191.8ZM1461.5 1174.7H1480.5L1471 1191.8ZM1463.7 1176.2H1482.7L1473.2 1193.3ZM1465.9 1182.5H1484.9L1475.4 1199.6ZM1468.1 1179.9H1487.1L1477.6 1197ZM1470.2 1179.3H1489.2L1479.7 1196.4ZM1472.4 1179.2H1491.4L1481.9 1196.3ZM1474.6 1179.6H1493.6L1484.1 1196.7ZM1476.8 1182.2H1495.8L1486.3 1199.3ZM1478.9 1184H1497.9L1488.4 1201.1ZM1481.1 1186.1H1500.1L1490.6 1203.2ZM1483.3 1186.7H1502.3L1492.8 1203.8ZM1485.5 1185.6H1504.5L1495 1202.7ZM1487.6 1184.5H1506.6L1497.1 1201.6ZM1489.8 1184.7H1508.8L1499.3 1201.8ZM1492 1182.6H1511L1501.5 1199.7ZM1494.2 1185.7H1513.2L1503.7 1202.8ZM1496.4 1189.1H1515.4L1505.9 1206.2ZM1498.5 1188.3H1517.5L1508 1205.4ZM1500.7 1190.3H1519.7L1510.2 1207.4ZM1502.9 1187.7H1521.9L1512.4 1204.8ZM1505.1 1192.6H1524.1L1514.6 1209.7ZM1507.2 1192.1H1526.2L1516.7 1209.2ZM1509.4 1192.3H1528.4L1518.9 1209.4ZM1511.6 1193.6H1530.6L1521.1 1210.7ZM1513.8 1189.4H1532.8L1523.3 1206.5ZM1515.9 1193.2H1534.9L1525.4 1210.3ZM1518.1 1193.2H1537.1L1527.6 1210.3ZM1520.3 1198.8H1539.3L1529.8 1215.9ZM1522.5 1195.8H1541.5L1532 1212.9ZM1524.7 1195.9H1543.7L1534.2 1213ZM1526.8 1199H1545.8L1536.3 1216.1ZM1529 1196.2H1548L1538.5 1213.3ZM1531.2 1201.3H1550.2L1540.7 1218.4ZM1533.4 1198.1H1552.4L1542.9 1215.2ZM1535.5 1199.9H1554.5L1545 1217ZM1537.7 1199H1556.7L1547.2 1216.1ZM1539.9 1202.6H1558.9L1549.4 1219.7ZM1542.1 1198.1H1561.1L1551.6 1215.2ZM1544.2 1203.7H1563.2L1553.7 1220.8ZM1546.4 1201.7H1565.4L1555.9 1218.8ZM1548.6 1203.8H1567.6L1558.1 1220.9ZM1550.8 1202.4H1569.8L1560.3 1219.5ZM1553 1205.4H1572L1562.5 1222.5ZM1555.1 1205.9H1574.1L1564.6 1223ZM1557.3 1207.2H1576.3L1566.8 1224.3ZM1559.5 1207.4H1578.5L1569 1224.5ZM1561.7 1208.5H1580.7L1571.2 1225.6ZM1563.8 1209.8H1582.8L1573.3 1226.9ZM1566 1208.1H1585L1575.5 1225.2ZM1568.2 1207.4H1587.2L1577.7 1224.5ZM1570.4 1207.9H1589.4L1579.9 1225ZM1572.5 1211.7H1591.5L1582 1228.8ZM1574.7 1210.7H1593.7L1584.2 1227.8ZM1576.9 1213.6H1595.9L1586.4 1230.7ZM1579.1 1212.6H1598.1L1588.6 1229.7ZM1581.3 1211.5H1600.3L1590.8 1228.6ZM1583.4 1215.2H1602.4L1592.9 1232.3ZM1585.6 1217.5H1604.6L1595.1 1234.6ZM1587.8 1214.8H1606.8L1597.3 1231.9ZM1590 1214.3H1609L1599.5 1231.4ZM1592.1 1215.2H1611.1L1601.6 1232.3ZM1594.3 1218.6H1613.3L1603.8 1235.7ZM1596.5 1217.1H1615.5L1606 1234.2ZM1598.7 1218.1H1617.7L1608.2 1235.2ZM1600.9 1220.4H1619.9L1610.4 1237.5ZM1603 1219.9H1622L1612.5 1237ZM1605.2 1220.6H1624.2L1614.7 1237.7ZM1607.4 1220.1H1626.4L1616.9 1237.2ZM1609.6 1220.5H1628.6L1619.1 1237.6ZM1611.7 1222.2H1630.7L1621.2 1239.3ZM1613.9 1222.7H1632.9L1623.4 1239.8ZM1616.1 1223.9H1635.1L1625.6 1241ZM1618.3 1222.8H1637.3L1627.8 1239.9ZM1620.4 1224.6H1639.4L1629.9 1241.7ZM1622.6 1225.3H1641.6L1632.1 1242.4ZM1624.8 1225.3H1643.8L1634.3 1242.4ZM1627 1226.5H1646L1636.5 1243.6ZM1629.2 1227.6H1648.2L1638.7 1244.7ZM1631.3 1227H1650.3L1640.8 1244.1ZM1633.5 1227.4H1652.5L1643 1244.5ZM1635.7 1226.5H1654.7L1645.2 1243.6ZM1637.9 1228.8H1656.9L1647.4 1245.9ZM1640 1228.7H1659L1649.5 1245.8ZM1642.2 1229H1661.2L1651.7 1246.1ZM1644.4 1228.8H1663.4L1653.9 1245.9ZM1646.6 1231.2H1665.6L1656.1 1248.3ZM1648.7 1234H1667.7L1658.2 1251.1ZM1650.9 1232H1669.9L1660.4 1249.1ZM1653.1 1232H1672.1L1662.6 1249.1ZM1655.3 1232.9H1674.3L1664.8 1250ZM1657.5 1231.9H1676.5L1667 1249ZM1659.6 1233.3H1678.6L1669.1 1250.4ZM1661.8 1232.7H1680.8L1671.3 1249.8ZM1664 1233.2H1683L1673.5 1250.3ZM1666.2 1234.7H1685.2L1675.7 1251.8ZM1668.3 1235.2H1687.3L1677.8 1252.3ZM1670.5 1235.1H1689.5L1680 1252.2ZM1672.7 1234.7H1691.7L1682.2 1251.8ZM1674.9 1236.5H1693.9L1684.4 1253.6ZM1677 1235.2H1696L1686.5 1252.3ZM1679.2 1238H1698.2L1688.7 1255.1ZM1681.4 1237H1700.4L1690.9 1254.1ZM1683.6 1237.9H1702.6L1693.1 1255ZM1685.8 1239.2H1704.8L1695.3 1256.3ZM1687.9 1239.4H1706.9L1697.4 1256.5ZM1690.1 1237.6H1709.1L1699.6 1254.7ZM1692.3 1239.3H1711.3L1701.8 1256.4ZM1694.5 1240.4H1713.5L1704 1257.5ZM1696.6 1239.1H1715.6L1706.1 1256.2ZM1698.8 1238.1H1717.8L1708.3 1255.2ZM1701 1241.2H1720L1710.5 1258.3ZM1703.2 1241.6H1722.2L1712.7 1258.7ZM1705.3 1242.5H1724.3L1714.8 1259.6ZM1707.5 1242.5H1726.5L1717 1259.6ZM1709.7 1242.9H1728.7L1719.2 1260ZM1711.9 1243.5H1730.9L1721.4 1260.6ZM1714.1 1245.1H1733.1L1723.6 1262.2ZM1716.2 1244.5H1735.2L1725.7 1261.6ZM1718.4 1245H1737.4L1727.9 1262.1ZM1720.6 1244.3H1739.6L1730.1 1261.4ZM1722.8 1246.4H1741.8L1732.3 1263.5ZM1724.9 1245.3H1743.9L1734.4 1262.4ZM1727.1 1246.7H1746.1L1736.6 1263.8ZM1729.3 1244H1748.3L1738.8 1261.1ZM1731.5 1247H1750.5L1741 1264.1ZM1733.6 1247H1752.6L1743.1 1264.1ZM1735.8 1247H1754.8L1745.3 1264.1ZM1738 1249.2H1757L1747.5 1266.3ZM1740.2 1248.7H1759.2L1749.7 1265.8ZM1742.4 1248.5H1761.4L1751.9 1265.6ZM1744.5 1248.5H1763.5L1754 1265.6ZM1746.7 1251.3H1765.7L1756.2 1268.4ZM1748.9 1250.6H1767.9L1758.4 1267.7ZM1751.1 1250.7H1770.1L1760.6 1267.8ZM1753.2 1249.5H1772.2L1762.7 1266.6ZM1755.4 1251.7H1774.4L1764.9 1268.8ZM1757.6 1251.2H1776.6L1767.1 1268.3ZM1759.8 1250.6H1778.8L1769.3 1267.7ZM1761.9 1251H1780.9L1771.4 1268.1ZM1764.1 1249.7H1783.1L1773.6 1266.8ZM1766.3 1252.1H1785.3L1775.8 1269.2ZM1768.5 1250.6H1787.5L1778 1267.7ZM1770.7 1252.7H1789.7L1780.2 1269.8ZM1772.8 1251.7H1791.8L1782.3 1268.8ZM1775 1251.7H1794L1784.5 1268.8ZM1777.2 1252.9H1796.2L1786.7 1270ZM1779.4 1252.9H1798.4L1788.9 1270ZM1781.5 1251.9H1800.5L1791 1269ZM1783.7 1253.1H1802.7L1793.2 1270.2ZM1785.9 1253.9H1804.9L1795.4 1271ZM1788.1 1253.3H1807.1L1797.6 1270.4ZM1790.2 1252.5H1809.2L1799.7 1269.6ZM1792.4 1253.7H1811.4L1801.9 1270.8ZM1794.6 1253.3H1813.6L1804.1 1270.4ZM1796.8 1253.8H1815.8L1806.3 1270.9ZM1799 1254.6H1818L1808.5 1271.7ZM1801.1 1254.7H1820.1L1810.6 1271.8ZM1803.3 1254.8H1822.3L1812.8 1271.9ZM1805.5 1253.7H1824.5L1815 1270.8ZM1807.7 1255.7H1826.7L1817.2 1272.8ZM1809.8 1255.4H1828.8L1819.3 1272.5ZM1812 1255.5H1831L1821.5 1272.6ZM1814.2 1256.2H1833.2L1823.7 1273.3ZM1816.4 1257.9H1835.4L1825.9 1275ZM1818.5 1255.2H1837.5L1828 1272.3ZM1820.7 1255.1H1839.7L1830.2 1272.2ZM1822.9 1257.3H1841.9L1832.4 1274.4ZM1825.1 1256H1844.1L1834.6 1273.1ZM1827.3 1258H1846.3L1836.8 1275.1ZM1829.4 1256.1H1848.4L1838.9 1273.2ZM1831.6 1256.7H1850.6L1841.1 1273.8ZM1833.8 1258H1852.8L1843.3 1275.1ZM1836 1258.1H1855L1845.5 1275.2ZM1838.1 1257.9H1857.1L1847.6 1275ZM1840.3 1258H1859.3L1849.8 1275.1ZM1842.5 1257.7H1861.5L1852 1274.8ZM1844.7 1257.5H1863.7L1854.2 1274.6ZM1846.9 1257.9H1865.9L1856.4 1275ZM1849 1259.2H1868L1858.5 1276.3ZM1851.2 1258.9H1870.2L1860.7 1276ZM1853.4 1258.4H1872.4L1862.9 1275.5ZM1855.6 1258.8H1874.6L1865.1 1275.9ZM1857.7 1259.4H1876.7L1867.2 1276.5ZM1859.9 1259.8H1878.9L1869.4 1276.9ZM1862.1 1258.8H1881.1L1871.6 1275.9ZM1864.3 1259H1883.3L1873.8 1276.1ZM1866.4 1259.5H1885.4L1875.9 1276.6ZM1868.6 1261.2H1887.6L1878.1 1278.3ZM1870.8 1259.6H1889.8L1880.3 1276.7ZM1873 1260.6H1892L1882.5 1277.7ZM1875.2 1258.5H1894.2L1884.7 1275.6ZM1877.3 1260.5H1896.3L1886.8 1277.6ZM1879.5 1258.9H1898.5L1889 1276ZM1881.7 1259.2H1900.7L1891.2 1276.3ZM1883.9 1259.7H1902.9L1893.4 1276.8ZM1886 1260.1H1905L1895.5 1277.2ZM1888.2 1260.4H1907.2L1897.7 1277.5ZM1890.4 1260.7H1909.4L1899.9 1277.8ZM1892.6 1260.6H1911.6L1902.1 1277.7ZM1894.7 1260.2H1913.7L1904.2 1277.3ZM1896.9 1262.4H1915.9L1906.4 1279.5ZM1899.1 1261H1918.1L1908.6 1278.1ZM1901.3 1261.3H1920.3L1910.8 1278.4ZM1903.5 1262.4H1922.5L1913 1279.5ZM1905.6 1261.6H1924.6L1915.1 1278.7ZM1907.8 1261.4H1926.8L1917.3 1278.5ZM1910 1261.3H1929L1919.5 1278.4ZM1912.2 1262.5H1931.2L1921.7 1279.6ZM1914.3 1260.4H1933.3L1923.8 1277.5ZM1916.5 1260.5H1935.5L1926 1277.6ZM1918.7 1261.4H1937.7L1928.2 1278.5ZM1920.9 1259.9H1939.9L1930.4 1277ZM1923 1260.9H1942L1932.5 1278ZM1925.2 1262.4H1944.2L1934.7 1279.5ZM1927.4 1261.3H1946.4L1936.9 1278.4ZM1929.6 1261.8H1948.6L1939.1 1278.9ZM1931.8 1262.2H1950.8L1941.3 1279.3Z"/>
<path fill="#0f0" d="M321.6 1267L332.6 1278L321.6 1289L310.6 1278ZM323.7 1267.2L334.7 1278.2L323.7 1289.2L312.7 1278.2ZM325.9 1266.8L336.9 1277.8L325.9 1288.8L314.9 1277.8ZM328.1 1267.2L339.1 1278.2L328.1 1289.2L317.1 1278.2ZM330.3 1267.5L341.3 1278.5L330.3 1289.5L319.3 1278.5ZM332.5 1267.2L343.5 1278.2L332.5 1289.2L321.5 1278.2ZM334.6 1267.8L345.6 1278.8L334.6 1289.8L323.6 1278.8ZM336.8 1266.6L347.8 1277.6L336.8 1288.6L325.8 1277.6ZM339 1267L350 1278L339 1289L328 1278ZM341.2 1266.6L352.2 1277.6L341.2 1288.6L330.2 1277.6ZM343.3 1266.6L354.3 1277.6L343.3 1288.6L332.3 1277.6ZM345.5 1266.9L356.5 1277.9L345.5 1288.9L334.5 1277.9ZM347.7 1266.9L358.7 1277.9L347.7 1288.9L336.7 1277.9ZM349.9 1266.9L360.9 1277.9L349.9 1288.9L338.9 1277.9ZM352 1266.8L363 1277.8L352 1288.8L341 1277.8ZM354.2 1267.5L365.2 1278.5L354.2 1289.5L343.2 1278.5ZM356.4 1266.7L367.4 1277.7L356.4 1288.7L345.4 1277.7ZM358.6 1265.4L369.6 1276.4L358.6 1287.4L347.6 1276.4ZM360.8 1266.1L371.8 1277.1L360.8 1288.1L349.8 1277.1ZM362.9 1265.6L373.9 1276.6L362.9 1287.6L351.9 1276.6ZM365.1 1265.5L376.1 1276.5L365.1 1287.5L354.1 1276.5ZM367.3 1266.3L378.3 1277.3L367.3 1288.3L356.3 1277.3ZM369.5 1265.4L380.5 1276.4L369.5 1287.4L358.5 1276.4ZM371.6 1264.3L382.6 1275.3L371.6 1286.3L360.6 1275.3ZM373.8 1265.4L384.8 1276.4L373.8 1287.4L362.8 1276.4ZM376 1264.9L387 1275.9L376 1286.9L365 1275.9ZM378.2 1264.3L389.2 1275.3L378.2 1286.3L367.2 1275.3ZM380.3 1264.3L391.3 1275.3L380.3 1286.3L369.3 1275.3ZM382.5 1264.4L393.5 1275.4L382.5 1286.4L371.5 1275.4ZM384.7 1264.6L395.7 1275.6L384.7 1286.6L373.7 1275.6ZM386.9 1264.2L397.9 1275.2L386.9 1286.2L375.9 1275.2ZM389.1 1264.5L400.1 1275.5L389.1 1286.5L378.1 1275.5ZM391.2 1265.5L402.2 1276.5L391.2 1287.5L380.2 1276.5ZM393.4 1263.8L404.4 1274.8L393.4 1285.8L382.4 1274.8ZM395.6 1263.8L406.6 1274.8L395.6 1285.8L384.6 1274.8ZM397.8 1264.1L408.8 1275.1L397.8 1286.1L386.8 1275.1ZM399.9 1264.9L410.9 1275.9L399.9 1286.9L388.9 1275.9ZM402.1 1263.7L413.1 1274.7L402.1 1285.7L391.1 1274.7ZM404.3 1265L415.3 1276L404.3 1287L393.3 1276ZM406.5 1263.2L417.5 1274.2L406.5 1285.2L395.5 1274.2ZM408.6 1263.3L419.6 1274.3L408.6 1285.3L397.6 1274.3ZM410.8 1263.9L421.8 1274.9L410.8 1285.9L399.8 1274.9ZM413 1263.3L424 1274.3L413 1285.3L402 1274.3ZM415.2 1263.5L426.2 1274.5L415.2 1285.5L404.2 1274.5ZM417.4 1264.1L428.4 1275.1L417.4 1286.1L406.4 1275.1ZM419.5 1264.2L430.5 1275.2L419.5 1286.2L408.5 1275.2ZM421.7 1263.8L432.7 1274.8L421.7 1285.8L410.7 1274.8ZM423.9 1263.5L434.9 1274.5L423.9 1285.5L412.9 1274.5ZM426.1 1264.5L437.1 1275.5L426.1 1286.5L415.1 1275.5ZM428.2 1263.8L439.2 1274.8L428.2 1285.8L417.2 1274.8ZM430.4 1263.3L441.4 1274.3L430.4 1285.3L419.4 1274.3ZM432.6 1264.2L443.6 1275.2L432.6 1286.2L421.6 1275.2ZM434.8 1262.8L445.8 1273.8L434.8 1284.8L423.8 1273.8ZM436.9 1263.5L447.9 1274.5L436.9 1285.5L425.9 1274.5ZM439.1 1263.7L450.1 1274.7L439.1 1285.7L428.1 1274.7ZM441.3 1263.2L452.3 1274.2L441.3 1285.2L430.3 1274.2ZM443.5 1262.8L454.5 1273.8L443.5 1284.8L432.5 1273.8ZM445.7 1263.4L456.7 1274.4L445.7 1285.4L434.7 1274.4ZM447.8 1262.7L458.8 1273.7L447.8 1284.7L436.8 1273.7ZM450 1262.7L461 1273.7L450 1284.7L439 1273.7ZM452.2 1262.3L463.2 1273.3L452.2 1284.3L441.2 1273.3ZM454.4 1263.7L465.4 1274.7L454.4 1285.7L443.4 1274.7ZM456.5 1262.3L467.5 1273.3L456.5 1284.3L445.5 1273.3ZM458.7 1263.3L469.7 1274.3L458.7 1285.3L447.7 1274.3ZM460.9 1262.5L471.9 1273.5L460.9 1284.5L449.9 1273.5ZM463.1 1261.9L474.1 1272.9L463.1 1283.9L452.1 1272.9ZM465.2 1262.4L476.2 1273.4L465.2 1284.4L454.2 1273.4ZM467.4 1261.9L478.4 1272.9L467.4 1283.9L456.4 1272.9ZM469.6 1261.6L480.6 1272.6L469.6 1283.6L458.6 1272.6ZM471.8 1260.4L482.8 1271.4L471.8 1282.4L460.8 1271.4ZM474 1261.2L485 1272.2L474 1283.2L463 1272.2ZM476.1 1261.7L487.1 1272.7L476.1 1283.7L465.1 1272.7ZM478.3 1261.2L489.3 1272.2L478.3 1283.2L467.3 1272.2ZM480.5 1261.4L491.5 1272.4L480.5 1283.4L469.5 1272.4ZM482.7 1261.6L493.7 1272.6L482.7 1283.6L471.7 1272.6ZM484.8 1260.6L495.8 1271.6L484.8 1282.6L473.8 1271.6ZM487 1261.6L498 1272.6L487 1283.6L476 1272.6ZM489.2 1258.7L500.2 1269.7L489.2 1280.7L478.2 1269.7ZM491.4 1259.5L502.4 1270.5L491.4 1281.5L480.4 1270.5ZM493.5 1257.7L504.5 1268.7L493.5 1279.7L482.5 1268.7ZM495.7 1259.1L506.7 1270.1L495.7 1281.1L484.7 1270.1ZM497.9 1257.3L508.9 1268.3L497.9 1279.3L486.9 1268.3ZM500.1 1257.6L511.1 1268.6L500.1 1279.6L489.1 1268.6ZM502.3 1254.4L513.3 1265.4L502.3 1276.4L491.3 1265.4ZM504.4 1250.7L515.4 1261.7L504.4 1272.7L493.4 1261.7ZM506.6 1252L517.6 1263L506.6 1274L495.6 1263ZM508.8 1247.9L519.8 1258.9L508.8 1269.9L497.8 1258.9ZM511 1250L522 1261L511 1272L500 1261ZM513.1 1253.1L524.1 1264.1L513.1 1275.1L502.1 1264.1ZM515.3 1255.2L526.3 1266.2L515.3 1277.2L504.3 1266.2ZM517.5 1255.3L528.5 1266.3L517.5 1277.3L506.5 1266.3ZM519.7 1257L530.7 1268L519.7 1279L508.7 1268ZM521.9 1255.9L532.9 1266.9L521.9 1277.9L510.9 1266.9ZM524 1259.5L535 1270.5L524 1281.5L513 1270.5ZM526.2 1258.6L537.2 1269.6L526.2 1280.6L515.2 1269.6ZM528.4 1259.4L539.4 1270.4L528.4 1281.4L517.4 1270.4ZM530.6 1260.3L541.6 1271.3L530.6 1282.3L519.6 1271.3ZM532.7 1260.1L543.7 1271.1L532.7 1282.1L521.7 1271.1ZM534.9 1260.2L545.9 1271.2L534.9 1282.2L523.9 1271.2ZM537.1 1259.3L548.1 1270.3L537.1 1281.3L526.1 1270.3ZM539.3 1259.9L550.3 1270.9L539.3 1281.9L528.3 1270.9ZM541.4 1260.3L552.4 1271.3L541.4 1282.3L530.4 1271.3ZM543.6 1260.8L554.6 1271.8L543.6 1282.8L532.6 1271.8ZM545.8 1259.9L556.8 1270.9L545.8 1281.9L534.8 1270.9ZM548 1260.1L559 1271.1L548 1282.1L537 1271.1ZM550.2 1260.3L561.2 1271.3L550.2 1282.3L539.2 1271.3ZM552.3 1260.4L563.3 1271.4L552.3 1282.4L541.3 1271.4ZM554.5 1260.2L565.5 1271.2L554.5 1282.2L543.5 1271.2ZM556.7 1259.8L567.7 1270.8L556.7 1281.8L545.7 1270.8ZM558.9 1259.6L569.9 1270.6L558.9 1281.6L547.9 1270.6ZM561 1260.9L572 1271.9L561 1282.9L550 1271.9ZM563.2 1260.2L574.2 1271.2L563.2 1282.2L552.2 1271.2ZM565.4 1260L576.4 1271L565.4 1282L554.4 1271ZM567.6 1261.8L578.6 1272.8L567.6 1283.8L556.6 1272.8ZM569.7 1260.6L580.7 1271.6L569.7 1282.6L558.7 1271.6ZM571.9 1260.5L582.9 1271.5L571.9 1282.5L560.9 1271.5ZM574.1 1259.9L585.1 1270.9L574.1 1281.9L563.1 1270.9ZM576.3 1258.9L587.3 1269.9L576.3 1280.9L565.3 1269.9ZM578.5 1260.5L589.5 1271.5L578.5 1282.5L567.5 1271.5ZM580.6 1259.4L591.6 1270.4L580.6 1281.4L569.6 1270.4ZM582.8 1259.4L593.8 1270.4L582.8 1281.4L571.8 1270.4ZM585 1260.1L596 1271.1L585 1282.1L574 1271.1ZM587.2 1260L598.2 1271L587.2 1282L576.2 1271ZM589.3 1259.3L600.3 1270.3L589.3 1281.3L578.3 1270.3ZM591.5 1259.1L602.5 1270.1L591.5 1281.1L580.5 1270.1ZM593.7 1260.7L604.7 1271.7L593.7 1282.7L582.7 1271.7ZM595.9 1259.3L606.9 1270.3L595.9 1281.3L584.9 1270.3ZM598 1257.9L609 1268.9L598 1279.9L587 1268.9ZM600.2 1259.3L611.2 1270.3L600.2 1281.3L589.2 1270.3ZM602.4 1258.7L613.4 1269.7L602.4 1280.7L591.4 1269.7ZM604.6 1258.5L615.6 1269.5L604.6 1280.5L593.6 1269.5ZM606.8 1258.9L617.8 1269.9L606.8 1280.9L595.8 1269.9ZM608.9 1258.4L619.9 1269.4L608.9 1280.4L597.9 1269.4ZM611.1 1259.8L622.1 1270.8L611.1 1281.8L600.1 1270.8ZM613.3 1258.1L624.3 1269.1L613.3 1280.1L602.3 1269.1ZM615.5 1258.1L626.5 1269.1L615.5 1280.1L604.5 1269.1ZM617.6 1258.7L628.6 1269.7L617.6 1280.7L606.6 1269.7ZM619.8 1257.1L630.8 1268.1L619.8 1279.1L608.8 1268.1ZM622 1258.4L633 1269.4L622 1280.4L611 1269.4ZM624.2 1257.3L635.2 1268.3L624.2 1279.3L613.2 1268.3ZM626.3 1258.3L637.3 1269.3L626.3 1280.3L615.3 1269.3ZM628.5 1256.4L639.5 1267.4L628.5 1278.4L617.5 1267.4ZM630.7 1257.4L641.7 1268.4L630.7 1279.4L619.7 1268.4ZM632.9 1255.5L643.9 1266.5L632.9 1277.5L621.9 1266.5ZM635.1 1256.4L646.1 1267.4L635.1 1278.4L624.1 1267.4ZM637.2 1256.7L648.2 1267.7L637.2 1278.7L626.2 1267.7ZM639.4 1257L650.4 1268L639.4 1279L628.4 1268ZM641.6 1258.2L652.6 1269.2L641.6 1280.2L630.6 1269.2ZM643.8 1257.9L654.8 1268.9L643.8 1279.9L632.8 1268.9ZM645.9 1255L656.9 1266L645.9 1277L634.9 1266ZM648.1 1255.4L659.1 1266.4L648.1 1277.4L637.1 1266.4ZM650.3 1257L661.3 1268L650.3 1279L639.3 1268ZM652.5 1255.9L663.5 1266.9L652.5 1277.9L641.5 1266.9ZM654.6 1253.9L665.6 1264.9L654.6 1275.9L643.6 1264.9ZM656.8 1255.2L667.8 1266.2L656.8 1277.2L645.8 1266.2ZM659 1253.4L670 1264.4L659 1275.4L648 1264.4ZM661.2 1253.3L672.2 1264.3L661.2 1275.3L650.2 1264.3ZM663.4 1252.5L674.4 1263.5L663.4 1274.5L652.4 1263.5ZM665.5 1253.1L676.5 1264.1L665.5 1275.1L654.5 1264.1ZM667.7 1255.2L678.7 1266.2L667.7 1277.2L656.7 1266.2ZM669.9 1253L680.9 1264L669.9 1275L658.9 1264ZM672.1 1252.2L683.1 1263.2L672.1 1274.2L661.1 1263.2ZM674.2 1254.2L685.2 1265.2L674.2 1276.2L663.2 1265.2ZM676.4 1251.1L687.4 1262.1L676.4 1273.1L665.4 1262.1ZM678.6 1251L689.6 1262L678.6 1273L667.6 1262ZM680.8 1250.5L691.8 1261.5L680.8 1272.5L669.8 1261.5ZM682.9 1250.9L693.9 1261.9L682.9 1272.9L671.9 1261.9ZM685.1 1249.8L696.1 1260.8L685.1 1271.8L674.1 1260.8ZM687.3 1251.3L698.3 1262.3L687.3 1273.3L676.3 1262.3ZM689.5 1249.1L700.5 1260.1L689.5 1271.1L678.5 1260.1ZM691.7 1249.6L702.7 1260.6L691.7 1271.6L680.7 1260.6ZM693.8 1248.9L704.8 1259.9L693.8 1270.9L682.8 1259.9ZM696 1247.3L707 1258.3L696 1269.3L685 1258.3ZM698.2 1246.8L709.2 1257.8L698.2 1268.8L687.2 1257.8ZM700.4 1247.5L711.4 1258.5L700.4 1269.5L689.4 1258.5ZM702.5 1244.6L713.5 1255.6L702.5 1266.6L691.5 1255.6ZM704.7 1246.8L715.7 1257.8L704.7 1268.8L693.7 1257.8ZM706.9 1246.6L717.9 1257.6L706.9 1268.6L695.9 1257.6ZM709.1 1246.4L720.1 1257.4L709.1 1268.4L698.1 1257.4ZM711.2 1245.9L722.2 1256.9L711.2 1267.9L700.2 1256.9ZM713.4 1246.1L724.4 1257.1L713.4 1268.1L702.4 1257.1ZM715.6 1245L726.6 1256L715.6 1267L704.6 1256ZM717.8 1245.9L728.8 1256.9L717.8 1267.9L706.8 1256.9ZM720 1242.9L731 1253.9L720 1264.9L709 1253.9ZM722.1 1245.6L733.1 1256.6L722.1 1267.6L711.1 1256.6ZM724.3 1243.2L735.3 1254.2L724.3 1265.2L713.3 1254.2ZM726.5 1244.6L737.5 1255.6L726.5 1266.6L715.5 1255.6ZM728.7 1243.2L739.7 1254.2L728.7 1265.2L717.7 1254.2ZM730.8 1242.9L741.8 1253.9L730.8 1264.9L719.8 1253.9ZM733 1242.2L744 1253.2L733 1264.2L722 1253.2ZM735.2 1244.5L746.2 1255.5L735.2 1266.5L724.2 1255.5ZM737.4 1241.3L748.4 1252.3L737.4 1263.3L726.4 1252.3ZM739.5 1240.8L750.5 1251.8L739.5 1262.8L728.5 1251.8ZM741.7 1242.3L752.7 1253.3L741.7 1264.3L730.7 1253.3ZM743.9 1242.1L754.9 1253.1L743.9 1264.1L732.9 1253.1ZM746.1 1241.5L757.1 1252.5L746.1 1263.5L735.1 1252.5ZM748.3 1240L759.3 1251L748.3 1262L737.3 1251ZM750.4 1240.1L761.4 1251.1L750.4 1262.1L739.4 1251.1ZM752.6 1241.8L763.6 1252.8L752.6 1263.8L741.6 1252.8ZM754.8 1239L765.8 1250L754.8 1261L743.8 1250ZM757 1240.8L768 1251.8L757 1262.8L746 1251.8ZM759.1 1240.7L770.1 1251.7L759.1 1262.7L748.1 1251.7ZM761.3 1239.7L772.3 1250.7L761.3 1261.7L750.3 1250.7ZM763.5 1237L774.5 1248L763.5 1259L752.5 1248ZM765.7 1240.1L776.7 1251.1L765.7 1262.1L754.7 1251.1ZM767.9 1236.8L778.9 1247.8L767.9 1258.8L756.9 1247.8ZM770 1236.2L781 1247.2L770 1258.2L759 1247.2ZM772.2 1234.8L783.2 1245.8L772.2 1256.8L761.2 1245.8ZM774.4 1233.4L785.4 1244.4L774.4 1255.4L763.4 1244.4ZM776.6 1233.7L787.6 1244.7L776.6 1255.7L765.6 1244.7ZM778.7 1233.7L789.7 1244.7L778.7 1255.7L767.7 1244.7ZM780.9 1231.6L791.9 1242.6L780.9 1253.6L769.9 1242.6ZM783.1 1232.3L794.1 1243.3L783.1 1254.3L772.1 1243.3ZM785.3 1232.8L796.3 1243.8L785.3 1254.8L774.3 1243.8ZM787.4 1230.6L798.4 1241.6L787.4 1252.6L776.4 1241.6ZM789.6 1228.7L800.6 1239.7L789.6 1250.7L778.6 1239.7ZM791.8 1229.2L802.8 1240.2L791.8 1251.2L780.8 1240.2ZM794 1227.9L805 1238.9L794 1249.9L783 1238.9ZM796.2 1226.7L807.2 1237.7L796.2 1248.7L785.2 1237.7ZM798.3 1222.9L809.3 1233.9L798.3 1244.9L787.3 1233.9ZM800.5 1220.1L811.5 1231.1L800.5 1242.1L789.5 1231.1ZM802.7 1223.1L813.7 1234.1L802.7 1245.1L791.7 1234.1ZM804.9 1220.8L815.9 1231.8L804.9 1242.8L793.9 1231.8ZM807 1218.9L818 1229.9L807 1240.9L796 1229.9ZM809.2 1218.2L820.2 1229.2L809.2 1240.2L798.2 1229.2ZM811.4 1214.2L822.4 1225.2L811.4 1236.2L800.4 1225.2ZM813.6 1211.5L824.6 1222.5L813.6 1233.5L802.6 1222.5ZM815.7 1213.5L826.7 1224.5L815.7 1235.5L804.7 1224.5ZM817.9 1204.8L828.9 1215.8L817.9 1226.8L806.9 1215.8ZM820.1 1207L831.1 1218L820.1 1229L809.1 1218ZM822.3 1204.9L833.3 1215.9L822.3 1226.9L811.3 1215.9ZM824.5 1203.8L835.5 1214.8L824.5 1225.8L813.5 1214.8ZM826.6 1198.1L837.6 1209.1L826.6 1220.1L815.6 1209.1ZM828.8 1195.9L839.8 1206.9L828.8 1217.9L817.8 1206.9ZM831 1190.2L842 1201.2L831 1212.2L820 1201.2ZM833.2 1189.5L844.2 1200.5L833.2 1211.5L822.2 1200.5ZM835.3 1182.1L846.3 1193.1L835.3 1204.1L824.3 1193.1ZM837.5 1182.7L848.5 1193.7L837.5 1204.7L826.5 1193.7ZM839.7 1181.2L850.7 1192.2L839.7 1203.2L828.7 1192.2ZM841.9 1178.3L852.9 1189.3L841.9 1200.3L830.9 1189.3ZM844 1174.7L855 1185.7L844 1196.7L833 1185.7ZM846.2 1175.8L857.2 1186.8L846.2 1197.8L835.2 1186.8ZM848.4 1166.4L859.4 1177.4L848.4 1188.4L837.4 1177.4ZM850.6 1167.4L861.6 1178.4L850.6 1189.4L839.6 1178.4ZM852.8 1162.8L863.8 1173.8L852.8 1184.8L841.8 1173.8ZM854.9 1160.7L865.9 1171.7L854.9 1182.7L843.9 1171.7ZM857.1 1157.5L868.1 1168.5L857.1 1179.5L846.1 1168.5ZM859.3 1159.3L870.3 1170.3L859.3 1181.3L848.3 1170.3ZM861.5 1148L872.5 1159L861.5 1170L850.5 1159ZM863.6 1151.3L874.6 1162.3L863.6 1173.3L852.6 1162.3ZM865.8 1148.3L876.8 1159.3L865.8 1170.3L854.8 1159.3ZM868 1140.9L879 1151.9L868 1162.9L857 1151.9ZM870.2 1135.3L881.2 1146.3L870.2 1157.3L859.2 1146.3ZM872.3 1127.2L883.3 1138.2L872.3 1149.2L861.3 1138.2ZM874.5 1122L885.5 1133L874.5 1144L863.5 1133ZM876.7 1124.7L887.7 1135.7L876.7 1146.7L865.7 1135.7ZM878.9 1105.2L889.9 1116.2L878.9 1127.2L867.9 1116.2ZM881.1 1107.3L892.1 1118.3L881.1 1129.3L870.1 1118.3ZM883.2 1097.3L894.2 1108.3L883.2 1119.3L872.2 1108.3ZM885.4 1099.8L896.4 1110.8L885.4 1121.8L874.4 1110.8ZM887.6 1088.2L898.6 1099.2L887.6 1110.2L876.6 1099.2ZM889.8 1076.1L900.8 1087.1L889.8 1098.1L878.8 1087.1ZM891.9 1071.6L902.9 1082.6L891.9 1093.6L880.9 1082.6ZM894.1 1066.6L905.1 1077.6L894.1 1088.6L883.1 1077.6ZM896.3 1058.6L907.3 1069.6L896.3 1080.6L885.3 1069.6ZM898.5 1046.8L909.5 1057.8L898.5 1068.8L887.5 1057.8ZM900.6 1041.7L911.6 1052.7L900.6 1063.7L889.6 1052.7ZM902.8 1033.4L913.8 1044.4L902.8 1055.4L891.8 1044.4ZM905 1029.7L916 1040.7L905 1051.7L894 1040.7ZM907.2 1021.2L918.2 1032.2L907.2 1043.2L896.2 1032.2ZM909.4 1013.5L920.4 1024.5L909.4 1035.5L898.4 1024.5ZM911.5 1002.3L922.5 1013.3L911.5 1024.3L900.5 1013.3ZM913.7 1000.8L924.7 1011.8L913.7 1022.8L902.7 1011.8ZM915.9 986L926.9 997L915.9 1008L904.9 997ZM918.1 976L929.1 987L918.1 998L907.1 987ZM920.2 969L931.2 980L920.2 991L909.2 980ZM922.4 960.8L933.4 971.8L922.4 982.8L911.4 971.8ZM924.6 951.4L935.6 962.4L924.6 973.4L913.6 962.4ZM926.8 933.1L937.8 944.1L926.8 955.1L915.8 944.1ZM928.9 939.5L939.9 950.5L928.9 961.5L917.9 950.5ZM931.1 925.7L942.1 936.7L931.1 947.7L920.1 936.7ZM933.3 920.6L944.3 931.6L933.3 942.6L922.3 931.6ZM935.5 903.6L946.5 914.6L935.5 925.6L924.5 914.6ZM937.7 901.9L948.7 912.9L937.7 923.9L926.7 912.9ZM939.8 891L950.8 902L939.8 913L928.8 902ZM942 882.1L953 893.1L942 904.1L931 893.1ZM944.2 880.2L955.2 891.2L944.2 902.2L933.2 891.2ZM946.4 851.9L957.4 862.9L946.4 873.9L935.4 862.9ZM948.5 844.2L959.5 855.2L948.5 866.2L937.5 855.2ZM950.7 821.1L961.7 832.1L950.7 843.1L939.7 832.1ZM952.9 826.4L963.9 837.4L952.9 848.4L941.9 837.4ZM955.1 813.4L966.1 824.4L955.1 835.4L944.1 824.4ZM957.2 799.6L968.2 810.6L957.2 821.6L946.2 810.6ZM959.4 793.7L970.4 804.7L959.4 815.7L948.4 804.7ZM961.6 775.4L972.6 786.4L961.6 797.4L950.6 786.4ZM963.8 773.6L974.8 784.6L963.8 795.6L952.8 784.6ZM966 774.2L977 785.2L966 796.2L955 785.2ZM968.1 750.6L979.1 761.6L968.1 772.6L957.1 761.6ZM970.3 765.8L981.3 776.8L970.3 787.8L959.3 776.8ZM972.5 757.8L983.5 768.8L972.5 779.8L961.5 768.8ZM974.7 738.9L985.7 749.9L974.7 760.9L963.7 749.9ZM976.8 726.5L987.8 737.5L976.8 748.5L965.8 737.5ZM979 719.7L990 730.7L979 741.7L968 730.7ZM981.2 713.9L992.2 724.9L981.2 735.9L970.2 724.9ZM983.4 711.4L994.4 722.4L983.4 733.4L972.4 722.4ZM985.6 725.8L996.6 736.8L985.6 747.8L974.6 736.8ZM987.7 696.2L998.7 707.2L987.7 718.2L976.7 707.2ZM989.9 703.4L1000.9 714.4L989.9 725.4L978.9 714.4ZM992.1 700.6L1003.1 711.6L992.1 722.6L981.1 711.6ZM994.3 678.3L1005.3 689.3L994.3 700.3L983.3 689.3ZM996.4 676.8L1007.4 687.8L996.4 698.8L985.4 687.8ZM998.6 678.6L1009.6 689.6L998.6 700.6L987.6 689.6ZM1000.8 666.9L1011.8 677.9L1000.8 688.9L989.8 677.9ZM1003 679L1014 690L1003 701L992 690ZM1005.1 683.8L1016.1 694.8L1005.1 705.8L994.1 694.8ZM1007.3 665.5L1018.3 676.5L1007.3 687.5L996.3 676.5ZM1009.5 657.8L1020.5 668.8L1009.5 679.8L998.5 668.8ZM1011.7 666.5L1022.7 677.5L1011.7 688.5L1000.7 677.5ZM1013.9 663.1L1024.9 674.1L1013.9 685.1L1002.9 674.1ZM1016 654.1L1027 665.1L1016 676.1L1005 665.1ZM1018.2 657.8L1029.2 668.8L1018.2 679.8L1007.2 668.8ZM1020.4 658.6L1031.4 669.6L1020.4 680.6L1009.4 669.6ZM1022.6 660.9L1033.6 671.9L1022.6 682.9L1011.6 671.9ZM1024.7 664.8L1035.7 675.8L1024.7 686.8L1013.7 675.8ZM1026.9 651.7L1037.9 662.7L1026.9 673.7L1015.9 662.7ZM1029.1 644.9L1040.1 655.9L1029.1 666.9L1018.1 655.9ZM1031.3 643.3L1042.3 654.3L1031.3 665.3L1020.3 654.3ZM1033.4 670.2L1044.4 681.2L1033.4 692.2L1022.4 681.2ZM1035.6 653.8L1046.6 664.8L1035.6 675.8L1024.6 664.8ZM1037.8 654.6L1048.8 665.6L1037.8 676.6L1026.8 665.6ZM1040 675.8L1051 686.8L1040 697.8L1029 686.8ZM1042.2 667.6L1053.2 678.6L1042.2 689.6L1031.2 678.6ZM1044.3 676.8L1055.3 687.8L1044.3 698.8L1033.3 687.8ZM1046.5 659.4L1057.5 670.4L1046.5 681.4L1035.5 670.4ZM1048.7 656.2L1059.7 667.2L1048.7 678.2L1037.7 667.2ZM1050.9 658.2L1061.9 669.2L1050.9 680.2L1039.9 669.2ZM1053 668.2L1064 679.2L1053 690.2L1042 679.2ZM1055.2 668.9L1066.2 679.9L1055.2 690.9L1044.2 679.9ZM1057.4 671.2L1068.4 682.2L1057.4 693.2L1046.4 682.2ZM1059.6 687.4L1070.6 698.4L1059.6 709.4L1048.6 698.4ZM1061.7 683.1L1072.7 694.1L1061.7 705.1L1050.7 694.1ZM1063.9 667.5L1074.9 678.5L1063.9 689.5L1052.9 678.5ZM1066.1 681.1L1077.1 692.1L1066.1 703.1L1055.1 692.1ZM1068.3 684.7L1079.3 695.7L1068.3 706.7L1057.3 695.7ZM1070.5 677.4L1081.5 688.4L1070.5 699.4L1059.5 688.4ZM1072.6 701.5L1083.6 712.5L1072.6 723.5L1061.6 712.5ZM1074.8 693.1L1085.8 704.1L1074.8 715.1L1063.8 704.1ZM1077 699.2L1088 710.2L1077 721.2L1066 710.2ZM1079.2 686L1090.2 697L1079.2 708L1068.2 697ZM1081.3 683.3L1092.3 694.3L1081.3 705.3L1070.3 694.3ZM1083.5 698.8L1094.5 709.8L1083.5 720.8L1072.5 709.8ZM1085.7 693.7L1096.7 704.7L1085.7 715.7L1074.7 704.7ZM1087.9 692.7L1098.9 703.7L1087.9 714.7L1076.9 703.7ZM1090 697.9L1101 708.9L1090 719.9L1079 708.9ZM1092.2 701.8L1103.2 712.8L1092.2 723.8L1081.2 712.8ZM1094.4 703.1L1105.4 714.1L1094.4 725.1L1083.4 714.1ZM1096.6 702.3L1107.6 713.3L1096.6 724.3L1085.6 713.3ZM1098.8 708.4L1109.8 719.4L1098.8 730.4L1087.8 719.4ZM1100.9 722.6L1111.9 733.6L1100.9 744.6L1089.9 733.6ZM1103.1 715.6L1114.1 726.6L1103.1 737.6L1092.1 726.6ZM1105.3 704.6L1116.3 715.6L1105.3 726.6L1094.3 715.6ZM1107.5 723.8L1118.5 734.8L1107.5 745.8L1096.5 734.8ZM1109.6 706.9L1120.6 717.9L1109.6 728.9L1098.6 717.9ZM1111.8 700.4L1122.8 711.4L1111.8 722.4L1100.8 711.4ZM1114 702.6L1125 713.6L1114 724.6L1103 713.6ZM1116.2 699L1127.2 710L1116.2 721L1105.2 710ZM1118.3 722.6L1129.3 733.6L1118.3 744.6L1107.3 733.6ZM1120.5 706.2L1131.5 717.2L1120.5 728.2L1109.5 717.2ZM1122.7 702.1L1133.7 713.1L1122.7 724.1L1111.7 713.1ZM1124.9 706.3L1135.9 717.3L1124.9 728.3L1113.9 717.3ZM1127.1 707L1138.1 718L1127.1 729L1116.1 718ZM1129.2 697.7L1140.2 708.7L1129.2 719.7L1118.2 708.7ZM1131.4 700.7L1142.4 711.7L1131.4 722.7L1120.4 711.7ZM1133.6 702.9L1144.6 713.9L1133.6 724.9L1122.6 713.9ZM1135.8 705.8L1146.8 716.8L1135.8 727.8L1124.8 716.8ZM1137.9 692.4L1148.9 703.4L1137.9 714.4L1126.9 703.4ZM1140.1 701.4L1151.1 712.4L1140.1 723.4L1129.1 712.4ZM1142.3 697.3L1153.3 708.3L1142.3 719.3L1131.3 708.3ZM1144.5 697.4L1155.5 708.4L1144.5 719.4L1133.5 708.4ZM1146.6 687.6L1157.6 698.6L1146.6 709.6L1135.6 698.6ZM1148.8 681L1159.8 692L1148.8 703L1137.8 692ZM1151 694.6L1162 705.6L1151 716.6L1140 705.6ZM1153.2 689.9L1164.2 700.9L1153.2 711.9L1142.2 700.9ZM1155.4 678.7L1166.4 689.7L1155.4 700.7L1144.4 689.7ZM1157.5 675.9L1168.5 686.9L1157.5 697.9L1146.5 686.9ZM1159.7 684.8L1170.7 695.8L1159.7 706.8L1148.7 695.8ZM1161.9 691.7L1172.9 702.7L1161.9 713.7L1150.9 702.7ZM1164.1 676.7L1175.1 687.7L1164.1 698.7L1153.1 687.7ZM1166.2 688.3L1177.2 699.3L1166.2 710.3L1155.2 699.3ZM1168.4 670.6L1179.4 681.6L1168.4 692.6L1157.4 681.6ZM1170.6 668L1181.6 679L1170.6 690L1159.6 679ZM1172.8 666.2L1183.8 677.2L1172.8 688.2L1161.8 677.2ZM1175 667.9L1186 678.9L1175 689.9L1164 678.9ZM1177.1 645.5L1188.1 656.5L1177.1 667.5L1166.1 656.5ZM1179.3 655.2L1190.3 666.2L1179.3 677.2L1168.3 666.2ZM1181.5 660.6L1192.5 671.6L1181.5 682.6L1170.5 671.6ZM1183.7 635.8L1194.7 646.8L1183.7 657.8L1172.7 646.8ZM1185.8 646.4L1196.8 657.4L1185.8 668.4L1174.8 657.4ZM1188 647.2L1199 658.2L1188 669.2L1177 658.2ZM1190.2 651.6L1201.2 662.6L1190.2 673.6L1179.2 662.6ZM1192.4 647.3L1203.4 658.3L1192.4 669.3L1181.4 658.3ZM1194.5 631.8L1205.5 642.8L1194.5 653.8L1183.5 642.8ZM1196.7 645L1207.7 656L1196.7 667L1185.7 656ZM1198.9 617L1209.9 628L1198.9 639L1187.9 628ZM1201.1 613.1L1212.1 624.1L1201.1 635.1L1190.1 624.1ZM1203.3 633.1L1214.3 644.1L1203.3 655.1L1192.3 644.1ZM1205.4 626.6L1216.4 637.6L1205.4 648.6L1194.4 637.6ZM1207.6 610.9L1218.6 621.9L1207.6 632.9L1196.6 621.9ZM1209.8 627.1L1220.8 638.1L1209.8 649.1L1198.8 638.1ZM1212 624L1223 635L1212 646L1201 635ZM1214.1 621.5L1225.1 632.5L1214.1 643.5L1203.1 632.5ZM1216.3 610.9L1227.3 621.9L1216.3 632.9L1205.3 621.9ZM1218.5 602.9L1229.5 613.9L1218.5 624.9L1207.5 613.9ZM1220.7 599.8L1231.7 610.8L1220.7 621.8L1209.7 610.8ZM1222.8 612.2L1233.8 623.2L1222.8 634.2L1211.8 623.2ZM1225 613.4L1236 624.4L1225 635.4L1214 624.4ZM1227.2 611.3L1238.2 622.3L1227.2 633.3L1216.2 622.3ZM1229.4 611.5L1240.4 622.5L1229.4 633.5L1218.4 622.5ZM1231.6 622.9L1242.6 633.9L1231.6 644.9L1220.6 633.9ZM1233.7 606.3L1244.7 617.3L1233.7 628.3L1222.7 617.3ZM1235.9 609L1246.9 620L1235.9 631L1224.9 620ZM1238.1 630.3L1249.1 641.3L1238.1 652.3L1227.1 641.3ZM1240.3 609.2L1251.3 620.2L1240.3 631.2L1229.3 620.2ZM1242.4 608.9L1253.4 619.9L1242.4 630.9L1231.4 619.9ZM1244.6 622L1255.6 633L1244.6 644L1233.6 633ZM1246.8 598.9L1257.8 609.9L1246.8 620.9L1235.8 609.9ZM1249 626L1260 637L1249 648L1238 637ZM1251.1 606L1262.1 617L1251.1 628L1240.1 617ZM1253.3 612.4L1264.3 623.4L1253.3 634.4L1242.3 623.4ZM1255.5 611.7L1266.5 622.7L1255.5 633.7L1244.5 622.7ZM1257.7 617.2L1268.7 628.2L1257.7 639.2L1246.7 628.2ZM1259.9 621.8L1270.9 632.8L1259.9 643.8L1248.9 632.8ZM1262 637.7L1273 648.7L1262 659.7L1251 648.7ZM1264.2 632.8L1275.2 643.8L1264.2 654.8L1253.2 643.8ZM1266.4 646.9L1277.4 657.9L1266.4 668.9L1255.4 657.9ZM1268.6 645.1L1279.6 656.1L1268.6 667.1L1257.6 656.1ZM1270.7 633.6L1281.7 644.6L1270.7 655.6L1259.7 644.6ZM1272.9 647.4L1283.9 658.4L1272.9 669.4L1261.9 658.4ZM1275.1 646.8L1286.1 657.8L1275.1 668.8L1264.1 657.8ZM1277.3 652.3L1288.3 663.3L1277.3 674.3L1266.3 663.3ZM1279.4 660.6L1290.4 671.6L1279.4 682.6L1268.4 671.6ZM1281.6 666.6L1292.6 677.6L1281.6 688.6L1270.6 677.6ZM1283.8 671.3L1294.8 682.3L1283.8 693.3L1272.8 682.3ZM1286 656.3L1297 667.3L1286 678.3L1275 667.3ZM1288.2 675.1L1299.2 686.1L1288.2 697.1L1277.2 686.1ZM1290.3 678.3L1301.3 689.3L1290.3 700.3L1279.3 689.3ZM1292.5 700.9L1303.5 711.9L1292.5 722.9L1281.5 711.9ZM1294.7 691.1L1305.7 702.1L1294.7 713.1L1283.7 702.1ZM1296.9 698.3L1307.9 709.3L1296.9 720.3L1285.9 709.3ZM1299 704.2L1310 715.2L1299 726.2L1288 715.2ZM1301.2 715.4L1312.2 726.4L1301.2 737.4L1290.2 726.4ZM1303.4 707.5L1314.4 718.5L1303.4 729.5L1292.4 718.5ZM1305.6 720.5L1316.6 731.5L1305.6 742.5L1294.6 731.5ZM1307.7 726.3L1318.7 737.3L1307.7 748.3L1296.7 737.3ZM1309.9 732.9L1320.9 743.9L1309.9 754.9L1298.9 743.9ZM1312.1 737.1L1323.1 748.1L1312.1 759.1L1301.1 748.1ZM1314.3 740.9L1325.3 751.9L1314.3 762.9L1303.3 751.9ZM1316.5 749.9L1327.5 760.9L1316.5 771.9L1305.5 760.9ZM1318.6 744.1L1329.6 755.1L1318.6 766.1L1307.6 755.1ZM1320.8 767.8L1331.8 778.8L1320.8 789.8L1309.8 778.8ZM1323 760.6L1334 771.6L1323 782.6L1312 771.6ZM1325.2 752.3L1336.2 763.3L1325.2 774.3L1314.2 763.3ZM1327.3 766.2L1338.3 777.2L1327.3 788.2L1316.3 777.2ZM1329.5 777.9L1340.5 788.9L1329.5 799.9L1318.5 788.9ZM1331.7 773.8L1342.7 784.8L1331.7 795.8L1320.7 784.8ZM1333.9 777.6L1344.9 788.6L1333.9 799.6L1322.9 788.6ZM1336 767.2L1347 778.2L1336 789.2L1325 778.2ZM1338.2 794.9L1349.2 805.9L1338.2 816.9L1327.2 805.9ZM1340.4 791L1351.4 802L1340.4 813L1329.4 802ZM1342.6 784.1L1353.6 795.1L1342.6 806.1L1331.6 795.1ZM1344.8 799.9L1355.8 810.9L1344.8 821.9L1333.8 810.9ZM1346.9 818L1357.9 829L1346.9 840L1335.9 829ZM1349.1 817.2L1360.1 828.2L1349.1 839.2L1338.1 828.2ZM1351.3 811.6L1362.3 822.6L1351.3 833.6L1340.3 822.6ZM1353.5 823.5L1364.5 834.5L1353.5 845.5L1342.5 834.5ZM1355.6 835.3L1366.6 846.3L1355.6 857.3L1344.6 846.3ZM1357.8 853.2L1368.8 864.2L1357.8 875.2L1346.8 864.2ZM1360 848.3L1371 859.3L1360 870.3L1349 859.3ZM1362.2 854.9L1373.2 865.9L1362.2 876.9L1351.2 865.9ZM1364.3 852.3L1375.3 863.3L1364.3 874.3L1353.3 863.3ZM1366.5 858.1L1377.5 869.1L1366.5 880.1L1355.5 869.1ZM1368.7 855.6L1379.7 866.6L1368.7 877.6L1357.7 866.6ZM1370.9 857.4L1381.9 868.4L1370.9 879.4L1359.9 868.4ZM1373.1 860.9L1384.1 871.9L1373.1 882.9L1362.1 871.9ZM1375.2 869L1386.2 880L1375.2 891L1364.2 880ZM1377.4 883.2L1388.4 894.2L1377.4 905.2L1366.4 894.2ZM1379.6 879.5L1390.6 890.5L1379.6 901.5L1368.6 890.5ZM1381.8 889.9L1392.8 900.9L1381.8 911.9L1370.8 900.9ZM1383.9 891.1L1394.9 902.1L1383.9 913.1L1372.9 902.1ZM1386.1 891.2L1397.1 902.2L1386.1 913.2L1375.1 902.2ZM1388.3 891.1L1399.3 902.1L1388.3 913.1L1377.3 902.1ZM1390.5 909.2L1401.5 920.2L1390.5 931.2L1379.5 920.2ZM1392.7 907.1L1403.7 918.1L1392.7 929.1L1381.7 918.1ZM1394.8 911.2L1405.8 922.2L1394.8 933.2L1383.8 922.2ZM1397 920.3L1408 931.3L1397 942.3L1386 931.3ZM1399.2 919.6L1410.2 930.6L1399.2 941.6L1388.2 930.6ZM1401.4 916.3L1412.4 927.3L1401.4 938.3L1390.4 927.3ZM1403.5 920.6L1414.5 931.6L1403.5 942.6L1392.5 931.6ZM1405.7 925.1L1416.7 936.1L1405.7 947.1L1394.7 936.1ZM1407.9 937.4L1418.9 948.4L1407.9 959.4L1396.9 948.4ZM1410.1 924L1421.1 935L1410.1 946L1399.1 935ZM1412.2 923.4L1423.2 934.4L1412.2 945.4L1401.2 934.4ZM1414.4 933.8L1425.4 944.8L1414.4 955.8L1403.4 944.8ZM1416.6 939.9L1427.6 950.9L1416.6 961.9L1405.6 950.9ZM1418.8 940.4L1429.8 951.4L1418.8 962.4L1407.8 951.4ZM1421 951.1L1432 962.1L1421 973.1L1410 962.1ZM1423.1 952.2L1434.1 963.2L1423.1 974.2L1412.1 963.2ZM1425.3 951.7L1436.3 962.7L1425.3 973.7L1414.3 962.7ZM1427.5 954.9L1438.5 965.9L1427.5 976.9L1416.5 965.9ZM1429.7 966.7L1440.7 977.7L1429.7 988.7L1418.7 977.7ZM1431.8 969.8L1442.8 980.8L1431.8 991.8L1420.8 980.8ZM1434 971.2L1445 982.2L1434 993.2L1423 982.2ZM1436.2 963.6L1447.2 974.6L1436.2 985.6L1425.2 974.6ZM1438.4 974L1449.4 985L1438.4 996L1427.4 985ZM1440.5 965.3L1451.5 976.3L1440.5 987.3L1429.5 976.3ZM1442.7 964.8L1453.7 975.8L1442.7 986.8L1431.7 975.8ZM1444.9 984.3L1455.9 995.3L1444.9 1006.3L1433.9 995.3ZM1447.1 983.1L1458.1 994.1L1447.1 1005.1L1436.1 994.1ZM1449.3 984.8L1460.3 995.8L1449.3 1006.8L1438.3 995.8ZM1451.4 991L1462.4 1002L1451.4 1013L1440.4 1002ZM1453.6 994.8L1464.6 1005.8L1453.6 1016.8L1442.6 1005.8ZM1455.8 991.1L1466.8 1002.1L1455.8 1013.1L1444.8 1002.1ZM1458 993.8L1469 1004.8L1458 1015.8L1447 1004.8ZM1460.1 997.7L1471.1 1008.7L1460.1 1019.7L1449.1 1008.7ZM1462.3 1000.8L1473.3 1011.8L1462.3 1022.8L1451.3 1011.8ZM1464.5 999.8L1475.5 1010.8L1464.5 1021.8L1453.5 1010.8ZM1466.7 994.9L1477.7 1005.9L1466.7 1016.9L1455.7 1005.9ZM1468.8 1013L1479.8 1024L1468.8 1035L1457.8 1024ZM1471 1001.6L1482 1012.6L1471 1023.6L1460 1012.6ZM1473.2 1004.2L1484.2 1015.2L1473.2 1026.2L1462.2 1015.2ZM1475.4 1011.5L1486.4 1022.5L1475.4 1033.5L1464.4 1022.5ZM1477.6 1010.6L1488.6 1021.6L1477.6 1032.6L1466.6 1021.6ZM1479.7 1015.1L1490.7 1026.1L1479.7 1037.1L1468.7 1026.1ZM1481.9 1024.6L1492.9 1035.6L1481.9 1046.6L1470.9 1035.6ZM1484.1 1022.9L1495.1 1033.9L1484.1 1044.9L1473.1 1033.9ZM1486.3 1016.7L1497.3 1027.7L1486.3 1038.7L1475.3 1027.7ZM1488.4 1022.1L1499.4 1033.1L1488.4 1044.1L1477.4 1033.1ZM1490.6 1022.4L1501.6 1033.4L1490.6 1044.4L1479.6 1033.4ZM1492.8 1029.9L1503.8 1040.9L1492.8 1051.9L1481.8 1040.9ZM1495 1022.8L1506 1033.8L1495 1044.8L1484 1033.8ZM1497.1 1024.6L1508.1 1035.6L1497.1 1046.6L1486.1 1035.6ZM1499.3 1023.5L1510.3 1034.5L1499.3 1045.5L1488.3 1034.5ZM1501.5 1034.1L1512.5 1045.1L1501.5 1056.1L1490.5 1045.1ZM1503.7 1035.1L1514.7 1046.1L1503.7 1057.1L1492.7 1046.1ZM1505.9 1038L1516.9 1049L1505.9 1060L1494.9 1049ZM1508 1040.1L1519 1051.1L1508 1062.1L1497 1051.1ZM1510.2 1033.2L1521.2 1044.2L1510.2 1055.2L1499.2 1044.2ZM1512.4 1038.1L1523.4 1049.1L1512.4 1060.1L1501.4 1049.1ZM1514.6 1036.8L1525.6 1047.8L1514.6 1058.8L1503.6 1047.8ZM1516.7 1047.6L1527.7 1058.6L1516.7 1069.6L1505.7 1058.6ZM1518.9 1047.7L1529.9 1058.7L1518.9 1069.7L1507.9 1058.7ZM1521.1 1040L1532.1 1051L1521.1 1062L1510.1 1051ZM1523.3 1049.4L1534.3 1060.4L1523.3 1071.4L1512.3 1060.4ZM1525.4 1049.3L1536.4 1060.3L1525.4 1071.3L1514.4 1060.3ZM1527.6 1050.8L1538.6 1061.8L1527.6 1072.8L1516.6 1061.8ZM1529.8 1054.6L1540.8 1065.6L1529.8 1076.6L1518.8 1065.6ZM1532 1051L1543 1062L1532 1073L1521 1062ZM1534.2 1053.7L1545.2 1064.7L1534.2 1075.7L1523.2 1064.7ZM1536.3 1053.8L1547.3 1064.8L1536.3 1075.8L1525.3 1064.8ZM1538.5 1055.4L1549.5 1066.4L1538.5 1077.4L1527.5 1066.4ZM1540.7 1055.4L1551.7 1066.4L1540.7 1077.4L1529.7 1066.4ZM1542.9 1065.2L1553.9 1076.2L1542.9 1087.2L1531.9 1076.2ZM1545 1064.5L1556 1075.5L1545 1086.5L1534 1075.5ZM1547.2 1062.8L1558.2 1073.8L1547.2 1084.8L1536.2 1073.8ZM1549.4 1058.9L1560.4 1069.9L1549.4 1080.9L1538.4 1069.9ZM1551.6 1075L1562.6 1086L1551.6 1097L1540.6 1086ZM1553.7 1068.1L1564.7 1079.1L1553.7 1090.1L1542.7 1079.1ZM1555.9 1070.2L1566.9 1081.2L1555.9 1092.2L1544.9 1081.2ZM1558.1 1073.2L1569.1 1084.2L1558.1 1095.2L1547.1 1084.2ZM1560.3 1078.5L1571.3 1089.5L1560.3 1100.5L1549.3 1089.5ZM1562.5 1072.5L1573.5 1083.5L1562.5 1094.5L1551.5 1083.5ZM1564.6 1066.5L1575.6 1077.5L1564.6 1088.5L1553.6 1077.5ZM1566.8 1075.1L1577.8 1086.1L1566.8 1097.1L1555.8 1086.1ZM1569 1077.4L1580 1088.4L1569 1099.4L1558 1088.4ZM1571.2 1076.8L1582.2 1087.8L1571.2 1098.8L1560.2 1087.8ZM1573.3 1085.4L1584.3 1096.4L1573.3 1107.4L1562.3 1096.4ZM1575.5 1079.9L1586.5 1090.9L1575.5 1101.9L1564.5 1090.9ZM1577.7 1083.9L1588.7 1094.9L1577.7 1105.9L1566.7 1094.9ZM1579.9 1081.2L1590.9 1092.2L1579.9 1103.2L1568.9 1092.2ZM1582 1088.1L1593 1099.1L1582 1110.1L1571 1099.1ZM1584.2 1084.3L1595.2 1095.3L1584.2 1106.3L1573.2 1095.3ZM1586.4 1090.9L1597.4 1101.9L1586.4 1112.9L1575.4 1101.9ZM1588.6 1089.8L1599.6 1100.8L1588.6 1111.8L1577.6 1100.8ZM1590.8 1091.2L1601.8 1102.2L1590.8 1113.2L1579.8 1102.2ZM1592.9 1093.1L1603.9 1104.1L1592.9 1115.1L1581.9 1104.1ZM1595.1 1088L1606.1 1099L1595.1 1110L1584.1 1099ZM1597.3 1093.6L1608.3 1104.6L1597.3 1115.6L1586.3 1104.6ZM1599.5 1097.4L1610.5 1108.4L1599.5 1119.4L1588.5 1108.4ZM1601.6 1097L1612.6 1108L1601.6 1119L1590.6 1108ZM1603.8 1103.9L1614.8 1114.9L1603.8 1125.9L1592.8 1114.9ZM1606 1104.4L1617 1115.4L1606 1126.4L1595 1115.4ZM1608.2 1100.6L1619.2 1111.6L1608.2 1122.6L1597.2 1111.6ZM1610.4 1108.5L1621.4 1119.5L1610.4 1130.5L1599.4 1119.5ZM1612.5 1105.4L1623.5 1116.4L1612.5 1127.4L1601.5 1116.4ZM1614.7 1109.5L1625.7 1120.5L1614.7 1131.5L1603.7 1120.5ZM1616.9 1113.3L1627.9 1124.3L1616.9 1135.3L1605.9 1124.3ZM1619.1 1107.3L1630.1 1118.3L1619.1 1129.3L1608.1 1118.3ZM1621.2 1109.9L1632.2 1120.9L1621.2 1131.9L1610.2 1120.9ZM1623.4 1113.9L1634.4 1124.9L1623.4 1135.9L1612.4 1124.9ZM1625.6 1114.9L1636.6 1125.9L1625.6 1136.9L1614.6 1125.9ZM1627.8 1112.4L1638.8 1123.4L1627.8 1134.4L1616.8 1123.4ZM1629.9 1121.8L1640.9 1132.8L1629.9 1143.8L1618.9 1132.8ZM1632.1 1122.3L1643.1 1133.3L1632.1 1144.3L1621.1 1133.3ZM1634.3 1124.6L1645.3 1135.6L1634.3 1146.6L1623.3 1135.6ZM1636.5 1127L1647.5 1138L1636.5 1149L1625.5 1138ZM1638.7 1130.3L1649.7 1141.3L1638.7 1152.3L1627.7 1141.3ZM1640.8 1127.9L1651.8 1138.9L1640.8 1149.9L1629.8 1138.9ZM1643 1133.4L1654 1144.4L1643 1155.4L1632 1144.4ZM1645.2 1133.3L1656.2 1144.3L1645.2 1155.3L1634.2 1144.3ZM1647.4 1135.3L1658.4 1146.3L1647.4 1157.3L1636.4 1146.3ZM1649.5 1136.3L1660.5 1147.3L1649.5 1158.3L1638.5 1147.3ZM1651.7 1144.3L1662.7 1155.3L1651.7 1166.3L1640.7 1155.3ZM1653.9 1136.5L1664.9 1147.5L1653.9 1158.5L1642.9 1147.5ZM1656.1 1143.1L1667.1 1154.1L1656.1 1165.1L1645.1 1154.1ZM1658.2 1149.1L1669.2 1160.1L1658.2 1171.1L1647.2 1160.1ZM1660.4 1148.1L1671.4 1159.1L1660.4 1170.1L1649.4 1159.1ZM1662.6 1148.7L1673.6 1159.7L1662.6 1170.7L1651.6 1159.7ZM1664.8 1154.8L1675.8 1165.8L1664.8 1176.8L1653.8 1165.8ZM1667 1151L1678 1162L1667 1173L1656 1162ZM1669.1 1154.2L1680.1 1165.2L1669.1 1176.2L1658.1 1165.2ZM1671.3 1157.5L1682.3 1168.5L1671.3 1179.5L1660.3 1168.5ZM1673.5 1156.5L1684.5 1167.5L1673.5 1178.5L1662.5 1167.5ZM1675.7 1158L1686.7 1169L1675.7 1180L1664.7 1169ZM1677.8 1161L1688.8 1172L1677.8 1183L1666.8 1172ZM1680 1164.8L1691 1175.8L1680 1186.8L1669 1175.8ZM1682.2 1161.5L1693.2 1172.5L1682.2 1183.5L1671.2 1172.5ZM1684.4 1166.6L1695.4 1177.6L1684.4 1188.6L1673.4 1177.6ZM1686.5 1166.6L1697.5 1177.6L1686.5 1188.6L1675.5 1177.6ZM1688.7 1167.4L1699.7 1178.4L1688.7 1189.4L1677.7 1178.4ZM1690.9 1166.5L1701.9 1177.5L1690.9 1188.5L1679.9 1177.5ZM1693.1 1175.3L1704.1 1186.3L1693.1 1197.3L1682.1 1186.3ZM1695.3 1173.9L1706.3 1184.9L1695.3 1195.9L1684.3 1184.9ZM1697.4 1174.5L1708.4 1185.5L1697.4 1196.5L1686.4 1185.5ZM1699.6 1174.5L1710.6 1185.5L1699.6 1196.5L1688.6 1185.5ZM1701.8 1180.4L1712.8 1191.4L1701.8 1202.4L1690.8 1191.4ZM1704 1176.4L1715 1187.4L1704 1198.4L1693 1187.4ZM1706.1 1177L1717.1 1188L1706.1 1199L1695.1 1188ZM1708.3 1178.9L1719.3 1189.9L1708.3 1200.9L1697.3 1189.9ZM1710.5 1181.9L1721.5 1192.9L1710.5 1203.9L1699.5 1192.9ZM1712.7 1184.1L1723.7 1195.1L1712.7 1206.1L1701.7 1195.1ZM1714.8 1180.3L1725.8 1191.3L1714.8 1202.3L1703.8 1191.3ZM1717 1186.7L1728 1197.7L1717 1208.7L1706 1197.7ZM1719.2 1188L1730.2 1199L1719.2 1210L1708.2 1199ZM1721.4 1191.1L1732.4 1202.1L1721.4 1213.1L1710.4 1202.1ZM1723.6 1189.5L1734.6 1200.5L1723.6 1211.5L1712.6 1200.5ZM1725.7 1194.6L1736.7 1205.6L1725.7 1216.6L1714.7 1205.6ZM1727.9 1196.3L1738.9 1207.3L1727.9 1218.3L1716.9 1207.3ZM1730.1 1191.6L1741.1 1202.6L1730.1 1213.6L1719.1 1202.6ZM1732.3 1192.8L1743.3 1203.8L1732.3 1214.8L1721.3 1203.8ZM1734.4 1196.1L1745.4 1207.1L1734.4 1218.1L1723.4 1207.1ZM1736.6 1197.2L1747.6 1208.2L1736.6 1219.2L1725.6 1208.2ZM1738.8 1195.3L1749.8 1206.3L1738.8 1217.3L1727.8 1206.3ZM1741 1198.4L1752 1209.4L1741 1220.4L1730 1209.4ZM1743.1 1193.5L1754.1 1204.5L1743.1 1215.5L1732.1 1204.5ZM1745.3 1199.2L1756.3 1210.2L1745.3 1221.2L1734.3 1210.2ZM1747.5 1198.9L1758.5 1209.9L1747.5 1220.9L1736.5 1209.9ZM1749.7 1200.4L1760.7 1211.4L1749.7 1222.4L1738.7 1211.4ZM1751.9 1200.2L1762.9 1211.2L1751.9 1222.2L1740.9 1211.2ZM1754 1201.3L1765 1212.3L1754 1223.3L1743 1212.3ZM1756.2 1199.7L1767.2 1210.7L1756.2 1221.7L1745.2 1210.7ZM1758.4 1203.9L1769.4 1214.9L1758.4 1225.9L1747.4 1214.9ZM1760.6 1198.1L1771.6 1209.1L1760.6 1220.1L1749.6 1209.1ZM1762.7 1203.5L1773.7 1214.5L1762.7 1225.5L1751.7 1214.5ZM1764.9 1202.7L1775.9 1213.7L1764.9 1224.7L1753.9 1213.7ZM1767.1 1208.6L1778.1 1219.6L1767.1 1230.6L1756.1 1219.6ZM1769.3 1203.6L1780.3 1214.6L1769.3 1225.6L1758.3 1214.6ZM1771.4 1207L1782.4 1218L1771.4 1229L1760.4 1218ZM1773.6 1207.6L1784.6 1218.6L1773.6 1229.6L1762.6 1218.6ZM1775.8 1210.1L1786.8 1221.1L1775.8 1232.1L1764.8 1221.1ZM1778 1209.5L1789 1220.5L1778 1231.5L1767 1220.5ZM1780.2 1208.5L1791.2 1219.5L1780.2 1230.5L1769.2 1219.5ZM1782.3 1211.1L1793.3 1222.1L1782.3 1233.1L1771.3 1222.1ZM1784.5 1214.3L1795.5 1225.3L1784.5 1236.3L1773.5 1225.3ZM1786.7 1214.5L1797.7 1225.5L1786.7 1236.5L1775.7 1225.5ZM1788.9 1212.8L1799.9 1223.8L1788.9 1234.8L1777.9 1223.8ZM1791 1212.8L1802 1223.8L1791 1234.8L1780 1223.8ZM1793.2 1213.5L1804.2 1224.5L1793.2 1235.5L1782.2 1224.5ZM1795.4 1216.1L1806.4 1227.1L1795.4 1238.1L1784.4 1227.1ZM1797.6 1216.6L1808.6 1227.6L1797.6 1238.6L1786.6 1227.6ZM1799.7 1216.9L1810.7 1227.9L1799.7 1238.9L1788.7 1227.9ZM1801.9 1217.3L1812.9 1228.3L1801.9 1239.3L1790.9 1228.3ZM1804.1 1219.1L1815.1 1230.1L1804.1 1241.1L1793.1 1230.1ZM1806.3 1221.6L1817.3 1232.6L1806.3 1243.6L1795.3 1232.6ZM1808.5 1221.6L1819.5 1232.6L1808.5 1243.6L1797.5 1232.6ZM1810.6 1219.9L1821.6 1230.9L1810.6 1241.9L1799.6 1230.9ZM1812.8 1222.5L1823.8 1233.5L1812.8 1244.5L1801.8 1233.5ZM1815 1221.4L1826 1232.4L1815 1243.4L1804 1232.4ZM1817.2 1224.5L1828.2 1235.5L1817.2 1246.5L1806.2 1235.5ZM1819.3 1224.7L1830.3 1235.7L1819.3 1246.7L1808.3 1235.7ZM1821.5 1225.1L1832.5 1236.1L1821.5 1247.1L1810.5 1236.1ZM1823.7 1227.8L1834.7 1238.8L1823.7 1249.8L1812.7 1238.8ZM1825.9 1226.4L1836.9 1237.4L1825.9 1248.4L1814.9 1237.4ZM1828 1226.7L1839 1237.7L1828 1248.7L1817 1237.7ZM1830.2 1227.9L1841.2 1238.9L1830.2 1249.9L1819.2 1238.9ZM1832.4 1224.6L1843.4 1235.6L1832.4 1246.6L1821.4 1235.6ZM1834.6 1226.1L1845.6 1237.1L1834.6 1248.1L1823.6 1237.1ZM1836.8 1226.6L1847.8 1237.6L1836.8 1248.6L1825.8 1237.6ZM1838.9 1228.9L1849.9 1239.9L1838.9 1250.9L1827.9 1239.9ZM1841.1 1228.1L1852.1 1239.1L1841.1 1250.1L1830.1 1239.1ZM1843.3 1226.6L1854.3 1237.6L1843.3 1248.6L1832.3 1237.6ZM1845.5 1227.8L1856.5 1238.8L1845.5 1249.8L1834.5 1238.8ZM1847.6 1229.1L1858.6 1240.1L1847.6 1251.1L1836.6 1240.1ZM1849.8 1229.2L1860.8 1240.2L1849.8 1251.2L1838.8 1240.2ZM1852 1229.6L1863 1240.6L1852 1251.6L1841 1240.6ZM1854.2 1228.6L1865.2 1239.6L1854.2 1250.6L1843.2 1239.6ZM1856.4 1231.4L1867.4 1242.4L1856.4 1253.4L1845.4 1242.4ZM1858.5 1229.8L1869.5 1240.8L1858.5 1251.8L1847.5 1240.8ZM1860.7 1231.5L1871.7 1242.5L1860.7 1253.5L1849.7 1242.5ZM1862.9 1231.6L1873.9 1242.6L1862.9 1253.6L1851.9 1242.6ZM1865.1 1232.4L1876.1 1243.4L1865.1 1254.4L1854.1 1243.4ZM1867.2 1235.3L1878.2 1246.3L1867.2 1257.3L1856.2 1246.3ZM1869.4 1233.1L1880.4 1244.1L1869.4 1255.1L1858.4 1244.1ZM1871.6 1233.5L1882.6 1244.5L1871.6 1255.5L1860.6 1244.5ZM1873.8 1231.2L1884.8 1242.2L1873.8 1253.2L1862.8 1242.2ZM1875.9 1233.6L1886.9 1244.6L1875.9 1255.6L1864.9 1244.6ZM1878.1 1235.6L1889.1 1246.6L1878.1 1257.6L1867.1 1246.6ZM1880.3 1235.2L1891.3 1246.2L1880.3 1257.2L1869.3 1246.2ZM1882.5 1237.1L1893.5 1248.1L1882.5 1259.1L1871.5 1248.1ZM1884.7 1236L1895.7 1247L1884.7 1258L1873.7 1247ZM1886.8 1237.9L1897.8 1248.9L1886.8 1259.9L1875.8 1248.9ZM1889 1237.6L1900 1248.6L1889 1259.6L1878 1248.6ZM1891.2 1239L1902.2 1250L1891.2 1261L1880.2 1250ZM1893.4 1237.4L1904.4 1248.4L1893.4 1259.4L1882.4 1248.4ZM1895.5 1239.1L1906.5 1250.1L1895.5 1261.1L1884.5 1250.1ZM1897.7 1237.5L1908.7 1248.5L1897.7 1259.5L1886.7 1248.5ZM1899.9 1237.3L1910.9 1248.3L1899.9 1259.3L1888.9 1248.3ZM1902.1 1239.9L1913.1 1250.9L1902.1 1261.9L1891.1 1250.9ZM1904.2 1236.8L1915.2 1247.8L1904.2 1258.8L1893.2 1247.8ZM1906.4 1237.6L1917.4 1248.6L1906.4 1259.6L1895.4 1248.6ZM1908.6 1241.1L1919.6 1252.1L1908.6 1263.1L1897.6 1252.1ZM1910.8 1239.4L1921.8 1250.4L1910.8 1261.4L1899.8 1250.4ZM1913 1239.8L1924 1250.8L1913 1261.8L1902 1250.8ZM1915.1 1239.8L1926.1 1250.8L1915.1 1261.8L1904.1 1250.8ZM1917.3 1239.6L1928.3 1250.6L1917.3 1261.6L1906.3 1250.6ZM1919.5 1242.4L1930.5 1253.4L1919.5 1264.4L1908.5 1253.4ZM1921.7 1240.1L1932.7 1251.1L1921.7 1262.1L1910.7 1251.1ZM1923.8 1242L1934.8 1253L1923.8 1264L1912.8 1253ZM1926 1240.4L1937 1251.4L1926 1262.4L1915 1251.4ZM1928.2 1239.7L1939.2 1250.7L1928.2 1261.7L1917.2 1250.7ZM1930.4 1240.4L1941.4 1251.4L1930.4 1262.4L1919.4 1251.4ZM1932.5 1241L1943.5 1252L1932.5 1263L1921.5 1252ZM1934.7 1244L1945.7 1255L1934.7 1266L1923.7 1255ZM1936.9 1240.5L1947.9 1251.5L1936.9 1262.5L1925.9 1251.5ZM1939.1 1242L1950.1 1253L1939.1 1264L1928.1 1253ZM1941.3 1239.6L1952.3 1250.6L1941.3 1261.6L1930.3 1250.6Z"/>
<path fill="#f0f" d="M312.1 1276.9L331 1266.7V1287.2ZM314.3 1276.9L333.2 1266.7V1287.2ZM316.5 1277.8L335.4 1267.6V1288.1ZM318.7 1276.3L337.5 1266V1286.5ZM320.8 1277.3L339.7 1267.1V1287.6ZM323 1276.2L341.9 1266V1286.5ZM325.2 1277.8L344.1 1267.6V1288.1ZM327.4 1277.3L346.2 1267.1V1287.6ZM329.6 1277.8L348.4 1267.6V1288.1ZM331.7 1276.8L350.6 1266.6V1287.1ZM333.9 1277.2L352.8 1267V1287.5ZM336.1 1276.8L354.9 1266.5V1287ZM338.3 1276.3L357.1 1266.1V1286.6ZM340.4 1276.6L359.3 1266.3V1286.8ZM342.6 1275.6L361.5 1265.3V1285.8ZM344.8 1275.8L363.7 1265.6V1286.1ZM347 1276.2L365.8 1266V1286.5ZM349.1 1275.6L368 1265.4V1285.9ZM351.3 1275.1L370.2 1264.9V1285.4ZM353.5 1276.5L372.4 1266.3V1286.8ZM355.7 1275L374.5 1264.7V1285.2ZM357.9 1274.3L376.7 1264.1V1284.6ZM360 1274.6L378.9 1264.4V1284.9ZM362.2 1273.9L381.1 1263.7V1284.2ZM364.4 1273.8L383.2 1263.5V1284ZM366.6 1273.6L385.4 1263.3V1283.8ZM368.7 1275L387.6 1264.8V1285.3ZM370.9 1273.4L389.8 1263.2V1283.7ZM373.1 1273.3L392 1263V1283.5ZM375.3 1273.4L394.1 1263.2V1283.7ZM377.4 1274.3L396.3 1264.1V1284.6ZM379.6 1272.9L398.5 1262.6V1283.1ZM381.8 1272.7L400.7 1262.5V1283ZM384 1274.9L402.8 1264.7V1285.2ZM386.2 1272.3L405 1262V1282.5ZM388.3 1272.8L407.2 1262.6V1283.1ZM390.5 1273.4L409.4 1263.1V1283.6ZM392.7 1274.4L411.5 1264.1V1284.6ZM394.9 1271.8L413.7 1261.6V1282.1ZM397 1270.7L415.9 1260.4V1280.9ZM399.2 1272.6L418.1 1262.4V1282.9ZM401.4 1271.6L420.3 1261.3V1281.8ZM403.6 1271.5L422.4 1261.2V1281.7ZM405.7 1271.9L424.6 1261.7V1282.2ZM407.9 1271.6L426.8 1261.3V1281.8ZM410.1 1271.4L429 1261.2V1281.7ZM412.3 1270.7L431.1 1260.4V1280.9ZM414.5 1271.8L433.3 1261.6V1282.1ZM416.6 1271.8L435.5 1261.6V1282.1ZM418.8 1270.5L437.7 1260.2V1280.7ZM421 1269.9L439.8 1259.6V1280.1ZM423.2 1270.7L442 1260.4V1280.9ZM425.3 1270.3L444.2 1260V1280.5ZM427.5 1268.8L446.4 1258.6V1279.1ZM429.7 1269.1L448.6 1258.9V1279.4ZM431.9 1270.2L450.7 1259.9V1280.4ZM434 1269L452.9 1258.8V1279.3ZM436.2 1268.6L455.1 1258.3V1278.8ZM438.4 1268.7L457.3 1258.5V1279ZM440.6 1268.2L459.4 1257.9V1278.4ZM442.8 1267.9L461.6 1257.6V1278.1ZM444.9 1265.8L463.8 1255.6V1276.1ZM447.1 1268.8L466 1258.5V1279ZM449.3 1267.1L468.1 1256.8V1277.3ZM451.5 1265.7L470.3 1255.5V1276ZM453.6 1267.1L472.5 1256.9V1277.4ZM455.8 1266.2L474.7 1255.9V1276.4ZM458 1265.6L476.9 1255.3V1275.8ZM460.2 1266.2L479 1255.9V1276.4ZM462.3 1267L481.2 1256.8V1277.3ZM464.5 1265.1L483.4 1254.8V1275.3ZM466.7 1265.7L485.6 1255.5V1276ZM468.9 1266L487.7 1255.7V1276.2ZM471.1 1262.3L489.9 1252V1272.5ZM473.2 1261.3L492.1 1251V1271.5ZM475.4 1261.2L494.3 1250.9V1271.4ZM477.6 1257L496.4 1246.8V1267.3ZM479.8 1257.1L498.6 1246.9V1267.4ZM481.9 1257.3L500.8 1247.1V1267.6ZM484.1 1255.4L503 1245.2V1265.7ZM486.3 1253.2L505.2 1243V1263.5ZM488.5 1248.4L507.3 1238.1V1258.6ZM490.6 1249.6L509.5 1239.4V1259.9ZM492.8 1241.7L511.7 1231.4V1251.9ZM495 1236.7L513.9 1226.5V1247ZM497.2 1238.3L516 1228V1248.5ZM499.4 1242.2L518.2 1232V1252.5ZM501.5 1248.5L520.4 1238.3V1258.8ZM503.7 1255.8L522.6 1245.6V1266.1ZM505.9 1264.8L524.7 1254.5V1275ZM508.1 1264.3L526.9 1254V1274.5ZM510.2 1266.6L529.1 1256.3V1276.8ZM512.4 1265.7L531.3 1255.5V1276ZM514.6 1265.7L533.5 1255.5V1276ZM516.8 1264.9L535.6 1254.6V1275.1ZM519 1263.9L537.8 1253.6V1274.1ZM521.1 1261.5L540 1251.3V1271.8ZM523.3 1260.2L542.2 1250V1270.5ZM525.5 1262.6L544.3 1252.4V1272.9ZM527.7 1262.6L546.5 1252.4V1272.9ZM529.8 1263.5L548.7 1253.3V1273.8ZM532 1262.1L550.9 1251.8V1272.3ZM534.2 1261.4L553 1251.2V1271.7ZM536.4 1262.4L555.2 1252.1V1272.6ZM538.5 1260.3L557.4 1250V1270.5ZM540.7 1260.7L559.6 1250.4V1270.9ZM542.9 1260.6L561.8 1250.4V1270.9ZM545.1 1261.9L563.9 1251.6V1272.1ZM547.3 1263.7L566.1 1253.4V1273.9ZM549.4 1262.2L568.3 1251.9V1272.4ZM551.6 1262.5L570.5 1252.2V1272.7ZM553.8 1261.4L572.6 1251.2V1271.7ZM556 1261.4L574.8 1251.1V1271.6ZM558.1 1260.5L577 1250.3V1270.8ZM560.3 1260.6L579.2 1250.3V1270.8ZM562.5 1258.4L581.4 1248.1V1268.6ZM564.7 1259.4L583.5 1249.2V1269.7ZM566.8 1259.2L585.7 1249V1269.5ZM569 1261.4L587.9 1251.1V1271.6ZM571.2 1261.1L590.1 1250.8V1271.3ZM573.4 1261.5L592.2 1251.3V1271.8ZM575.6 1261.9L594.4 1251.6V1272.1ZM577.7 1259.8L596.6 1249.5V1270ZM579.9 1261.1L598.8 1250.9V1271.4ZM582.1 1262L600.9 1251.7V1272.2ZM584.3 1259.8L603.1 1249.5V1270ZM586.4 1260.9L605.3 1250.6V1271.1ZM588.6 1259.4L607.5 1249.2V1269.7ZM590.8 1257.7L609.7 1247.5V1268ZM593 1259.3L611.8 1249.1V1269.6ZM595.1 1258L614 1247.8V1268.3ZM597.3 1258.8L616.2 1248.6V1269.1ZM599.5 1257.9L618.4 1247.7V1268.2ZM601.7 1258.5L620.5 1248.3V1268.8ZM603.9 1255.5L622.7 1245.2V1265.7ZM606 1260L624.9 1249.7V1270.2ZM608.2 1258.9L627.1 1248.7V1269.2ZM610.4 1256.6L629.2 1246.4V1266.9ZM612.6 1255.6L631.4 1245.3V1265.8ZM614.7 1256.3L633.6 1246V1266.5ZM616.9 1256.7L635.8 1246.5V1267ZM619.1 1256L638 1245.8V1266.3ZM621.3 1255.7L640.1 1245.4V1265.9ZM623.4 1252.5L642.3 1242.2V1262.7ZM625.6 1253.1L644.5 1242.8V1263.3ZM627.8 1255.7L646.7 1245.5V1266ZM630 1254L648.8 1243.8V1264.3ZM632.2 1251.5L651 1241.2V1261.7ZM634.3 1251.9L653.2 1241.7V1262.2ZM636.5 1250.8L655.4 1240.6V1261.1ZM638.7 1251L657.5 1240.7V1261.2ZM640.9 1253.3L659.7 1243.1V1263.6ZM643 1251L661.9 1240.7V1261.2ZM645.2 1252.2L664.1 1241.9V1262.4ZM647.4 1250.4L666.3 1240.2V1260.7ZM649.6 1247.7L668.4 1237.4V1257.9ZM651.7 1248.2L670.6 1238V1258.5ZM653.9 1251.6L672.8 1241.3V1261.8ZM656.1 1247L675 1236.7V1257.2ZM658.3 1246L677.1 1235.8V1256.3ZM660.5 1248.6L679.3 1238.4V1258.9ZM662.6 1246.5L681.5 1236.2V1256.7ZM664.8 1245.8L683.7 1235.5V1256ZM667 1247.3L685.8 1237.1V1257.6ZM669.2 1242.2L688 1232V1252.5ZM671.3 1244.4L690.2 1234.2V1254.7ZM673.5 1240.8L692.4 1230.6V1251.1ZM675.7 1238.8L694.6 1228.5V1249ZM677.9 1238.2L696.7 1227.9V1248.4ZM680 1239.8L698.9 1229.5V1250ZM682.2 1236.3L701.1 1226V1246.5ZM684.4 1232.1L703.3 1221.8V1242.3ZM686.6 1231.7L705.4 1221.5V1242ZM688.8 1235.2L707.6 1225V1245.5ZM690.9 1234.1L709.8 1223.8V1244.3ZM693.1 1230.2L712 1220V1240.5ZM695.3 1235.5L714.1 1225.2V1245.7ZM697.5 1233L716.3 1222.7V1243.2ZM699.6 1234.8L718.5 1224.5V1245ZM701.8 1239.6L720.7 1229.3V1249.8ZM704 1242L722.9 1231.7V1252.2ZM706.2 1242.5L725 1232.3V1252.8ZM708.4 1241.2L727.2 1231V1251.5ZM710.5 1238.5L729.4 1228.3V1248.8ZM712.7 1237.1L731.6 1226.9V1247.4ZM714.9 1234.5L733.7 1224.2V1244.7ZM717.1 1235.5L735.9 1225.2V1245.7ZM719.2 1233.4L738.1 1223.2V1243.7ZM721.4 1233.6L740.3 1223.4V1243.9ZM723.6 1229.9L742.4 1219.6V1240.1ZM725.8 1229.9L744.6 1219.7V1240.2ZM727.9 1228.1L746.8 1217.8V1238.3ZM730.1 1226.3L749 1216.1V1236.6ZM732.3 1225.1L751.2 1214.9V1235.4ZM734.5 1224.2L753.3 1214V1234.5ZM736.7 1222.7L755.5 1212.4V1232.9ZM738.8 1224.7L757.7 1214.4V1234.9ZM741 1222.6L759.9 1212.4V1232.9ZM743.2 1218.8L762 1208.5V1229ZM745.4 1221L764.2 1210.8V1231.3ZM747.5 1219.4L766.4 1209.1V1229.6ZM749.7 1220.5L768.6 1210.2V1230.7ZM751.9 1216.1L770.7 1205.8V1226.3ZM754.1 1214.8L772.9 1204.6V1225.1ZM756.2 1212.7L775.1 1202.4V1222.9ZM758.4 1212.7L777.3 1202.5V1223ZM760.6 1211.9L779.5 1201.6V1222.1ZM762.8 1209.6L781.6 1199.3V1219.8ZM765 1207.1L783.8 1196.8V1217.3ZM767.1 1207.2L786 1196.9V1217.4ZM769.3 1204.5L788.2 1194.3V1214.8ZM771.5 1203.2L790.3 1193V1213.5ZM773.7 1199L792.5 1188.7V1209.2ZM775.8 1199.8L794.7 1189.5V1210ZM778 1195.4L796.9 1185.2V1205.7ZM780.2 1194L799.1 1183.8V1204.3ZM782.4 1194.4L801.2 1184.1V1204.6ZM784.5 1196.6L803.4 1186.3V1206.8ZM786.7 1191.7L805.6 1181.4V1201.9ZM788.9 1187L807.8 1176.8V1197.3ZM791.1 1184.2L809.9 1174V1194.5ZM793.3 1184.7L812.1 1174.4V1194.9ZM795.4 1183.2L814.3 1173V1193.5ZM797.6 1180.5L816.5 1170.2V1190.7ZM799.8 1174.2L818.6 1164V1184.5ZM802 1171.6L820.8 1161.3V1181.8ZM804.1 1166.5L823 1156.3V1176.8ZM806.3 1162.9L825.2 1152.7V1173.2ZM808.5 1157.6L827.4 1147.3V1167.8ZM810.7 1155.5L829.5 1145.2V1165.7ZM812.8 1146.2L831.7 1136V1156.5ZM815 1145.5L833.9 1135.2V1155.7ZM817.2 1146.8L836.1 1136.6V1157.1ZM819.4 1139.3L838.2 1129.1V1149.6ZM821.6 1139.3L840.4 1129.1V1149.6ZM823.7 1128.5L842.6 1118.2V1138.7ZM825.9 1126.2L844.8 1116V1136.5ZM828.1 1123.1L846.9 1112.8V1133.3ZM830.3 1112.6L849.1 1102.4V1122.9ZM832.4 1108L851.3 1097.8V1118.3ZM834.6 1112.7L853.5 1102.4V1122.9ZM836.8 1096.7L855.7 1086.5V1107ZM839 1091L857.8 1080.7V1101.2ZM841.1 1085.8L860 1075.5V1096ZM843.3 1080.8L862.2 1070.5V1091ZM845.5 1072.2L864.4 1062V1082.5ZM847.7 1067.9L866.5 1057.6V1078.1ZM849.9 1058.8L868.7 1048.6V1069.1ZM852 1045.6L870.9 1035.3V1055.8ZM854.2 1037.2L873.1 1026.9V1047.4ZM856.4 1023.8L875.2 1013.6V1034.1ZM858.6 1014.6L877.4 1004.4V1024.9ZM860.7 1009.2L879.6 998.9V1019.4ZM862.9 1007.2L881.8 996.9V1017.4ZM865.1 996L884 985.8V1006.3ZM867.3 991L886.1 980.8V1001.3ZM869.4 983.4L888.3 973.2V993.7ZM871.6 969.7L890.5 959.5V980ZM873.8 971.7L892.7 961.4V981.9ZM876 943.9L894.8 933.7V954.2ZM878.2 928.9L897 918.7V939.2ZM880.3 916.8L899.2 906.5V927ZM882.5 913.8L901.4 903.5V924ZM884.7 895L903.5 884.7V905.2ZM886.9 879.8L905.7 869.5V890ZM889 874.3L907.9 864V884.5ZM891.2 866.2L910.1 855.9V876.4ZM893.4 846.3L912.3 836.1V856.6ZM895.6 830L914.4 819.7V840.2ZM897.7 822.5L916.6 812.2V832.7ZM899.9 807.2L918.8 797V817.5ZM902.1 792.7L921 782.5V803ZM904.3 766.8L923.1 756.5V777ZM906.5 759.4L925.3 749.1V769.6ZM908.6 744.2L927.5 733.9V754.4ZM910.8 712.8L929.7 702.6V723.1ZM913 718.8L931.8 708.6V729.1ZM915.2 695.9L934 685.6V706.1ZM917.3 678L936.2 667.7V688.2ZM919.5 683.4L938.4 673.1V693.6ZM921.7 652.7L940.6 642.5V663ZM923.9 632.5L942.7 622.2V642.7ZM926.1 624.3L944.9 614V634.5ZM928.2 616L947.1 605.8V626.3ZM930.4 603.9L949.3 593.7V614.2ZM932.6 579.3L951.4 569V589.5ZM934.8 554.9L953.6 544.6V565.1ZM936.9 539L955.8 528.8V549.3ZM939.1 521.9L958 511.6V532.1ZM941.3 503.7L960.1 493.4V513.9ZM943.5 496.9L962.3 486.7V507.2ZM945.6 471.7L964.5 461.4V481.9ZM947.8 461.3L966.7 451V471.5ZM950 441.1L968.9 430.8V451.3ZM952.2 427.7L971 417.4V437.9ZM954.4 421.3L973.2 411V431.5ZM956.5 406.7L975.4 396.5V417ZM958.7 408.5L977.6 398.3V418.8ZM960.9 375.4L979.7 365.1V385.6ZM963.1 373.5L981.9 363.2V383.7ZM965.2 357.9L984.1 347.7V368.2ZM967.4 330.9L986.3 320.7V341.2ZM969.6 338.1L988.4 327.9V348.4ZM971.8 326.1L990.6 315.9V336.4ZM973.9 296.4L992.8 286.1V306.6ZM976.1 318.2L995 307.9V328.4ZM978.3 314.7L997.2 304.4V324.9ZM980.5 288.9L999.3 278.7V299.2ZM982.7 307.7L1001.5 297.5V318ZM984.8 286.5L1003.7 276.2V296.7ZM987 268L1005.9 257.8V278.3ZM989.2 281.8L1008 271.6V292.1ZM991.4 267.5L1010.2 257.2V277.7ZM993.5 253.1L1012.4 242.8V263.3ZM995.7 240.8L1014.6 230.5V251ZM997.9 262.7L1016.8 252.5V273ZM1000.1 248.6L1018.9 238.3V258.8ZM1002.2 259.7L1021.1 249.4V269.9ZM1004.4 256.4L1023.3 246.2V266.7ZM1006.6 249.6L1025.5 239.4V259.9ZM1008.8 252.4L1027.6 242.1V262.6ZM1011 279.9L1029.8 269.7V290.2ZM1013.1 282L1032 271.7V292.2ZM1015.3 273.9L1034.2 263.7V284.2ZM1017.5 264.2L1036.3 254V274.5ZM1019.7 259.7L1038.5 249.4V269.9ZM1021.8 268.3L1040.7 258.1V278.6ZM1024 292.6L1042.9 282.4V302.9ZM1026.2 282.1L1045.1 271.8V292.3ZM1028.4 276.4L1047.2 266.2V286.7ZM1030.5 268.8L1049.4 258.6V279.1ZM1032.7 286L1051.6 275.7V296.2ZM1034.9 277.2L1053.8 267V287.5ZM1037.1 288.7L1055.9 278.5V299ZM1039.3 298L1058.1 287.7V308.2ZM1041.4 302.9L1060.3 292.7V313.2ZM1043.6 294.6L1062.5 284.4V304.9ZM1045.8 291L1064.6 280.8V301.3ZM1048 298.5L1066.8 288.3V308.8ZM1050.1 316.6L1069 306.3V326.8ZM1052.3 303.2L1071.2 292.9V313.4ZM1054.5 289.1L1073.4 278.8V299.3ZM1056.7 324.4L1075.5 314.1V334.6ZM1058.8 315.6L1077.7 305.4V325.9ZM1061 343.6L1079.9 333.3V353.8ZM1063.2 322.5L1082.1 312.3V332.8ZM1065.4 333.5L1084.2 323.3V343.8ZM1067.6 337.8L1086.4 327.5V348ZM1069.7 350.8L1088.6 340.6V361.1ZM1071.9 347.4L1090.8 337.1V357.6ZM1074.1 342.9L1092.9 332.7V353.2ZM1076.3 342.3L1095.1 332V352.5ZM1078.4 364.2L1097.3 353.9V374.4ZM1080.6 364L1099.5 353.8V374.3ZM1082.8 364.6L1101.7 354.4V374.9ZM1085 392.8L1103.8 382.6V403.1ZM1087.1 380.9L1106 370.6V391.1ZM1089.3 385.1L1108.2 374.8V395.3ZM1091.5 370.5L1110.4 360.3V380.8ZM1093.7 379.5L1112.5 369.3V389.8ZM1095.9 375.4L1114.7 365.1V385.6ZM1098 376.3L1116.9 366.1V386.6ZM1100.2 386.7L1119.1 376.4V396.9ZM1102.4 386.1L1121.2 375.9V396.4ZM1104.6 383L1123.4 372.7V393.2ZM1106.7 381.1L1125.6 370.9V391.4ZM1108.9 365.1L1127.8 354.8V375.3ZM1111.1 371.7L1130 361.5V382ZM1113.3 382L1132.1 371.7V392.2ZM1115.4 372.6L1134.3 362.3V382.8ZM1117.6 366.4L1136.5 356.2V376.7ZM1119.8 375.7L1138.7 365.4V385.9ZM1122 360.9L1140.8 350.7V371.2ZM1124.2 361.4L1143 351.2V371.7ZM1126.3 374.9L1145.2 364.7V385.2ZM1128.5 360.2L1147.4 350V370.5ZM1130.7 375.8L1149.5 365.6V386.1ZM1132.9 364.4L1151.7 354.2V374.7ZM1135 365L1153.9 354.7V375.2ZM1137.2 365.9L1156.1 355.6V376.1ZM1139.4 330.3L1158.3 320.1V340.6ZM1141.6 349L1160.4 338.8V359.3ZM1143.8 334.4L1162.6 324.1V344.6ZM1145.9 340.4L1164.8 330.2V350.7ZM1148.1 341.3L1167 331.1V351.6ZM1150.3 351.9L1169.1 341.7V362.2ZM1152.5 335.7L1171.3 325.4V345.9ZM1154.6 349.8L1173.5 339.5V360ZM1156.8 324.5L1175.7 314.2V334.7ZM1159 325.6L1177.8 315.3V335.8ZM1161.2 322.5L1180 312.2V332.7ZM1163.3 326.6L1182.2 316.4V336.9ZM1165.5 311.7L1184.4 301.5V322ZM1167.7 301.2L1186.6 290.9V311.4ZM1169.9 299.1L1188.7 288.8V309.3ZM1172.1 282.8L1190.9 272.5V293ZM1174.2 305.6L1193.1 295.3V315.8ZM1176.4 295.1L1195.3 284.9V305.4ZM1178.6 280.9L1197.4 270.6V291.1ZM1180.8 267.9L1199.6 257.6V278.1ZM1182.9 247.1L1201.8 236.9V257.4ZM1185.1 238L1204 227.8V248.3ZM1187.3 247.7L1206.2 237.5V258ZM1189.5 227.5L1208.3 217.2V237.7ZM1191.6 224.4L1210.5 214.1V234.6ZM1193.8 246.2L1212.7 236V256.5ZM1196 243.2L1214.9 232.9V253.4ZM1198.2 228.4L1217 218.1V238.6ZM1200.4 229.6L1219.2 219.3V239.8ZM1202.5 224.5L1221.4 214.3V234.8ZM1204.7 236.3L1223.6 226.1V246.6ZM1206.9 215.1L1225.7 204.9V225.4ZM1209.1 219.3L1227.9 209.1V229.6ZM1211.2 222.8L1230.1 212.6V233.1ZM1213.4 233.5L1232.3 223.3V243.8ZM1215.6 216.1L1234.5 205.8V226.3ZM1217.8 221.7L1236.6 211.5V232ZM1219.9 214.6L1238.8 204.4V224.9ZM1222.1 213.4L1241 203.1V223.6ZM1224.3 213.9L1243.2 203.7V224.2ZM1226.5 223.9L1245.3 213.7V234.2ZM1228.7 234.9L1247.5 224.6V245.1ZM1230.8 220.5L1249.7 210.3V230.8ZM1233 223.9L1251.9 213.7V234.2ZM1235.2 228.4L1254 218.2V238.7ZM1237.4 239.5L1256.2 229.2V249.7ZM1239.5 246.3L1258.4 236V256.5ZM1241.7 228.8L1260.6 218.5V239ZM1243.9 248.9L1262.8 238.7V259.2ZM1246.1 237.8L1264.9 227.5V248ZM1248.2 259.5L1267.1 249.2V269.7ZM1250.4 250.5L1269.3 240.2V260.7ZM1252.6 257.9L1271.5 247.7V268.2ZM1254.8 268.9L1273.6 258.6V279.1ZM1257 281.8L1275.8 271.6V292.1ZM1259.1 278.2L1278 267.9V288.4ZM1261.3 296.5L1280.2 286.3V306.8ZM1263.5 301.3L1282.3 291.1V311.6ZM1265.7 306.1L1284.5 295.9V316.4ZM1267.8 313.5L1286.7 303.3V323.8ZM1270 328L1288.9 317.7V338.2ZM1272.2 319.9L1291.1 309.7V330.2ZM1274.4 335L1293.2 324.8V345.3ZM1276.5 342.3L1295.4 332.1V352.6ZM1278.7 330.1L1297.6 319.8V340.3ZM1280.9 362.8L1299.8 352.6V373.1ZM1283.1 359.4L1301.9 349.2V369.7ZM1285.3 367.2L1304.1 356.9V377.4ZM1287.4 377.1L1306.3 366.8V387.3ZM1289.6 389.8L1308.5 379.6V400.1ZM1291.8 399.6L1310.6 389.3V409.8ZM1294 408.5L1312.8 398.2V418.7ZM1296.1 405.6L1315 395.4V415.9ZM1298.3 427.4L1317.2 417.2V437.7ZM1300.5 433.4L1319.4 423.1V443.6ZM1302.7 434.6L1321.5 424.4V444.9ZM1304.8 448.1L1323.7 437.9V458.4ZM1307 465.7L1325.9 455.5V476ZM1309.2 472L1328.1 461.7V482.2ZM1311.4 482.4L1330.2 472.1V492.6ZM1313.6 485L1332.4 474.8V495.3ZM1315.7 502.3L1334.6 492V512.5ZM1317.9 521.6L1336.8 511.3V531.8ZM1320.1 517.3L1338.9 507.1V527.6ZM1322.3 510.9L1341.1 500.6V521.1ZM1324.4 549.3L1343.3 539.1V559.6ZM1326.6 536.8L1345.5 526.6V547.1ZM1328.8 537.1L1347.7 526.9V547.4ZM1331 536.7L1349.8 526.4V546.9ZM1333.1 566.5L1352 556.2V576.7ZM1335.3 578.7L1354.2 568.5V589ZM1337.5 584.6L1356.4 574.3V594.8ZM1339.7 579.9L1358.5 569.6V590.1ZM1341.9 602.4L1360.7 592.1V612.6ZM1344 597.7L1362.9 587.4V607.9ZM1346.2 601.3L1365.1 591.1V611.6ZM1348.4 614.5L1367.2 604.2V624.7ZM1350.6 623.6L1369.4 613.4V633.9ZM1352.7 630.3L1371.6 620.1V640.6ZM1354.9 641.3L1373.8 631V651.5ZM1357.1 632.1L1376 621.9V642.4ZM1359.3 671.8L1378.1 661.6V682.1ZM1361.5 662.8L1380.3 652.6V673.1ZM1363.6 677.1L1382.5 666.9V687.4ZM1365.8 671.4L1384.7 661.2V681.7ZM1368 683.8L1386.8 673.5V694ZM1370.2 686.4L1389 676.1V696.6ZM1372.3 681.1L1391.2 670.8V691.3ZM1374.5 700.3L1393.4 690.1V710.6ZM1376.7 707L1395.5 696.7V717.2ZM1378.9 699.1L1397.7 688.9V709.4ZM1381 696.9L1399.9 686.7V707.2ZM1383.2 712.3L1402.1 702.1V722.6ZM1385.4 719.6L1404.3 709.3V729.8ZM1387.6 734.9L1406.4 724.7V745.2ZM1389.8 742.6L1408.6 732.4V752.9ZM1391.9 759L1410.8 748.7V769.2ZM1394.1 757.3L1413 747V767.5ZM1396.3 756L1415.1 745.8V766.3ZM1398.5 763.8L1417.3 753.5V774ZM1400.6 752.2L1419.5 741.9V762.4ZM1402.8 766.8L1421.7 756.5V777ZM1405 772.1L1423.9 761.8V782.3ZM1407.2 782.8L1426 772.6V793.1ZM1409.3 791L1428.2 780.7V801.2ZM1411.5 795.7L1430.4 785.4V805.9ZM1413.7 804.8L1432.6 794.5V815ZM1415.9 798.3L1434.7 788V808.5ZM1418.1 808.6L1436.9 798.4V818.9ZM1420.2 809.8L1439.1 799.6V820.1ZM1422.4 814.7L1441.3 804.5V825ZM1424.6 820.6L1443.4 810.4V830.9ZM1426.8 820.8L1445.6 810.6V831.1ZM1428.9 826.3L1447.8 816V836.5ZM1431.1 827.1L1450 816.9V837.4ZM1433.3 836L1452.2 825.7V846.2ZM1435.5 831.3L1454.3 821.1V841.6ZM1437.6 836.3L1456.5 826V846.5ZM1439.8 850.8L1458.7 840.6V861.1ZM1442 842.9L1460.9 832.7V853.2ZM1444.2 844.6L1463 834.3V854.8ZM1446.4 850.3L1465.2 840.1V860.6ZM1448.5 840.9L1467.4 830.6V851.1ZM1450.7 854.9L1469.6 844.7V865.2ZM1452.9 858.9L1471.7 848.6V869.1ZM1455.1 860.8L1473.9 850.5V871ZM1457.2 867.6L1476.1 857.4V877.9ZM1459.4 870.3L1478.3 860V880.5ZM1461.6 876.3L1480.5 866.1V886.6ZM1463.8 869.5L1482.6 859.2V879.7ZM1465.9 879.4L1484.8 869.1V889.6ZM1468.1 877.6L1487 867.3V887.8ZM1470.3 891.4L1489.2 881.2V901.7ZM1472.5 888.9L1491.3 878.7V899.2ZM1474.7 884.6L1493.5 874.4V894.9ZM1476.8 895.8L1495.7 885.6V906.1ZM1479 892L1497.9 881.8V902.3ZM1481.2 905.3L1500 895.1V915.6ZM1483.4 900.4L1502.2 890.2V910.7ZM1485.5 892.6L1504.4 882.4V902.9ZM1487.7 904.8L1506.6 894.6V915.1ZM1489.9 914.9L1508.8 904.6V925.1ZM1492.1 913.4L1510.9 903.2V923.7ZM1494.2 910.6L1513.1 900.3V920.8ZM1496.4 919.8L1515.3 909.5V930ZM1498.6 921.7L1517.5 911.5V932ZM1500.8 928.8L1519.6 918.6V939.1ZM1503 928.1L1521.8 917.9V938.4ZM1505.1 927.8L1524 917.5V938ZM1507.3 924.3L1526.2 914.1V934.6ZM1509.5 932.6L1528.3 922.3V942.8ZM1511.7 935.3L1530.5 925V945.5ZM1513.8 936.4L1532.7 926.1V946.6ZM1516 941.1L1534.9 930.8V951.3ZM1518.2 935.5L1537.1 925.2V945.7ZM1520.4 947.1L1539.2 936.8V957.3ZM1522.5 946.8L1541.4 936.6V957.1ZM1524.7 951.2L1543.6 940.9V961.4ZM1526.9 951.5L1545.8 941.3V961.8ZM1529.1 953.1L1547.9 942.9V963.4ZM1531.3 958.5L1550.1 948.2V968.7ZM1533.4 963.7L1552.3 953.4V973.9ZM1535.6 960.9L1554.5 950.6V971.1ZM1537.8 966.6L1556.6 956.4V976.9ZM1540 963.9L1558.8 953.7V974.2ZM1542.1 972.3L1561 962.1V982.6ZM1544.3 973L1563.2 962.7V983.2ZM1546.5 969.3L1565.4 959V979.5ZM1548.7 983.4L1567.5 973.2V993.7ZM1550.8 976.2L1569.7 965.9V986.4ZM1553 983.2L1571.9 973V993.5ZM1555.2 979.2L1574.1 968.9V989.4ZM1557.4 979.7L1576.2 969.5V990ZM1559.6 993.3L1578.4 983V1003.5ZM1561.7 986.3L1580.6 976V996.5ZM1563.9 985.7L1582.8 975.4V995.9ZM1566.1 996.7L1584.9 986.4V1006.9ZM1568.3 993.1L1587.1 982.9V1003.4ZM1570.4 1001.7L1589.3 991.4V1011.9ZM1572.6 1013.3L1591.5 1003V1023.5ZM1574.8 1005.8L1593.7 995.5V1016ZM1577 1011.6L1595.8 1001.4V1021.9ZM1579.1 1015L1598 1004.7V1025.2ZM1581.3 1016L1600.2 1005.8V1026.3ZM1583.5 1016.9L1602.4 1006.7V1027.2ZM1585.7 1026.4L1604.5 1016.2V1036.7ZM1587.9 1022L1606.7 1011.8V1032.3ZM1590 1026.4L1608.9 1016.2V1036.7ZM1592.2 1028L1611.1 1017.8V1038.3ZM1594.4 1024.8L1613.2 1014.5V1035ZM1596.6 1034.1L1615.4 1023.9V1044.4ZM1598.7 1035.6L1617.6 1025.4V1045.9ZM1600.9 1040.7L1619.8 1030.4V1050.9ZM1603.1 1043.5L1622 1033.2V1053.7ZM1605.3 1049.6L1624.1 1039.4V1059.9ZM1607.5 1038.2L1626.3 1027.9V1048.4ZM1609.6 1046.2L1628.5 1036V1056.5ZM1611.8 1049.2L1630.7 1039V1059.5ZM1614 1050.3L1632.8 1040V1060.5ZM1616.2 1057.9L1635 1047.7V1068.2ZM1618.3 1058.6L1637.2 1048.4V1068.9ZM1620.5 1062.1L1639.4 1051.8V1072.3ZM1622.7 1057.9L1641.6 1047.7V1068.2ZM1624.9 1063.1L1643.7 1052.9V1073.4ZM1627 1069.2L1645.9 1058.9V1079.4ZM1629.2 1070.3L1648.1 1060V1080.5ZM1631.4 1072L1650.3 1061.8V1082.3ZM1633.6 1076.2L1652.4 1065.9V1086.4ZM1635.8 1078L1654.6 1067.7V1088.2ZM1637.9 1077.4L1656.8 1067.2V1087.7ZM1640.1 1089.7L1659 1079.4V1099.9ZM1642.3 1083.6L1661.1 1073.3V1093.8ZM1644.5 1090.7L1663.3 1080.4V1100.9ZM1646.6 1092.8L1665.5 1082.6V1103.1ZM1648.8 1096.4L1667.7 1086.2V1106.7ZM1651 1093.4L1669.9 1083.2V1103.7ZM1653.2 1094.3L1672 1084V1104.5ZM1655.3 1101.6L1674.2 1091.3V1111.8ZM1657.5 1103.3L1676.4 1093.1V1113.6ZM1659.7 1096.9L1678.6 1086.7V1107.2ZM1661.9 1099.3L1680.7 1089.1V1109.6ZM1664.1 1107.7L1682.9 1097.4V1117.9ZM1666.2 1110.5L1685.1 1100.3V1120.8ZM1668.4 1113.3L1687.3 1103V1123.5ZM1670.6 1117.8L1689.4 1107.5V1128ZM1672.8 1115.6L1691.6 1105.4V1125.9ZM1674.9 1128.4L1693.8 1118.2V1138.7ZM1677.1 1126.2L1696 1116V1136.5ZM1679.3 1129.7L1698.2 1119.5V1140ZM1681.5 1128.8L1700.3 1118.6V1139.1ZM1683.6 1123.9L1702.5 1113.7V1134.2ZM1685.8 1133.3L1704.7 1123V1143.5ZM1688 1133.2L1706.9 1123V1143.5ZM1690.2 1138.5L1709 1128.3V1148.8ZM1692.4 1139.2L1711.2 1128.9V1149.4ZM1694.5 1143.8L1713.4 1133.5V1154ZM1696.7 1141.6L1715.6 1131.3V1151.8ZM1698.9 1145.4L1717.7 1135.1V1155.6ZM1701.1 1148.1L1719.9 1137.9V1158.4ZM1703.2 1147.4L1722.1 1137.2V1157.7ZM1705.4 1149.8L1724.3 1139.5V1160ZM1707.6 1154.2L1726.5 1144V1164.5ZM1709.8 1159.3L1728.6 1149V1169.5ZM1711.9 1154.8L1730.8 1144.6V1165.1ZM1714.1 1159.2L1733 1148.9V1169.4ZM1716.3 1155.3L1735.2 1145V1165.5ZM1718.5 1158.6L1737.3 1148.4V1168.9ZM1720.7 1162.2L1739.5 1151.9V1172.4ZM1722.8 1164.3L1741.7 1154V1174.5ZM1725 1161.5L1743.9 1151.3V1171.8ZM1727.2 1167.3L1746 1157V1177.5ZM1729.4 1167.5L1748.2 1157.3V1177.8ZM1731.5 1172L1750.4 1161.8V1182.3ZM1733.7 1172.5L1752.6 1162.2V1182.7ZM1735.9 1173L1754.8 1162.7V1183.2ZM1738.1 1172.1L1756.9 1161.8V1182.3ZM1740.2 1175.2L1759.1 1164.9V1185.4ZM1742.4 1173.9L1761.3 1163.6V1184.1ZM1744.6 1175.4L1763.5 1165.2V1185.7ZM1746.8 1174.4L1765.6 1164.2V1184.7ZM1749 1177.3L1767.8 1167V1187.5ZM1751.1 1178.8L1770 1168.6V1189.1ZM1753.3 1183.1L1772.2 1172.8V1193.3ZM1755.5 1185L1774.3 1174.8V1195.3ZM1757.7 1183.2L1776.5 1172.9V1193.4ZM1759.8 1187.5L1778.7 1177.3V1197.8ZM1762 1190.1L1780.9 1179.9V1200.4ZM1764.2 1192.8L1783.1 1182.5V1203ZM1766.4 1191.8L1785.2 1181.6V1202.1ZM1768.5 1193.7L1787.4 1183.5V1204ZM1770.7 1193.6L1789.6 1183.3V1203.8ZM1772.9 1197.6L1791.8 1187.4V1207.9ZM1775.1 1193.4L1793.9 1183.1V1203.6ZM1777.3 1198.5L1796.1 1188.2V1208.7ZM1779.4 1194.2L1798.3 1183.9V1204.4ZM1781.6 1204L1800.5 1193.7V1214.2ZM1783.8 1203.5L1802.6 1193.2V1213.7ZM1786 1198.3L1804.8 1188.1V1208.6ZM1788.1 1202.8L1807 1192.6V1213.1ZM1790.3 1202.2L1809.2 1191.9V1212.4ZM1792.5 1202.7L1811.4 1192.4V1212.9ZM1794.7 1206.6L1813.5 1196.4V1216.9ZM1796.8 1206.9L1815.7 1196.6V1217.1ZM1799 1211.8L1817.9 1201.5V1222ZM1801.2 1209.3L1820.1 1199V1219.5ZM1803.4 1208.7L1822.2 1198.5V1219ZM1805.6 1211.3L1824.4 1201V1221.5ZM1807.7 1212.8L1826.6 1202.6V1223.1ZM1809.9 1214.2L1828.8 1203.9V1224.4ZM1812.1 1214.2L1830.9 1203.9V1224.4ZM1814.3 1210.9L1833.1 1200.7V1221.2ZM1816.4 1212.8L1835.3 1202.5V1223ZM1818.6 1214.6L1837.5 1204.3V1224.8ZM1820.8 1213.9L1839.7 1203.7V1224.2ZM1823 1217.5L1841.8 1207.2V1227.7ZM1825.2 1216L1844 1205.8V1226.3ZM1827.3 1217.1L1846.2 1206.9V1227.4ZM1829.5 1217.1L1848.4 1206.9V1227.4ZM1831.7 1218.5L1850.5 1208.2V1228.7ZM1833.9 1216.3L1852.7 1206.1V1226.6ZM1836 1223.6L1854.9 1213.3V1233.8ZM1838.2 1219.4L1857.1 1209.1V1229.6ZM1840.4 1219.8L1859.2 1209.5V1230ZM1842.6 1218.6L1861.4 1208.3V1228.8ZM1844.7 1222.3L1863.6 1212V1232.5ZM1846.9 1220.7L1865.8 1210.4V1230.9ZM1849.1 1224.4L1868 1214.1V1234.6ZM1851.3 1226.5L1870.1 1216.3V1236.8ZM1853.5 1226.2L1872.3 1215.9V1236.4ZM1855.6 1225L1874.5 1214.8V1235.3ZM1857.8 1228.6L1876.7 1218.4V1238.9ZM1860 1226.8L1878.8 1216.6V1237.1ZM1862.2 1227.7L1881 1217.5V1238ZM1864.3 1228.6L1883.2 1218.3V1238.8ZM1866.5 1228.2L1885.4 1217.9V1238.4ZM1868.7 1230L1887.6 1219.8V1240.3ZM1870.9 1227.7L1889.7 1217.4V1237.9ZM1873 1227.2L1891.9 1216.9V1237.4ZM1875.2 1232.4L1894.1 1222.2V1242.7ZM1877.4 1229.7L1896.3 1219.4V1239.9ZM1879.6 1230.7L1898.4 1220.4V1240.9ZM1881.8 1232.2L1900.6 1221.9V1242.4ZM1883.9 1231.3L1902.8 1221V1241.5ZM1886.1 1230.5L1905 1220.3V1240.8ZM1888.3 1232.5L1907.1 1222.2V1242.7ZM1890.5 1231.7L1909.3 1221.4V1241.9ZM1892.6 1234.4L1911.5 1224.2V1244.7ZM1894.8 1233.2L1913.7 1223V1243.5ZM1897 1233.9L1915.9 1223.7V1244.2ZM1899.2 1235.9L1918 1225.6V1246.1ZM1901.3 1232.5L1920.2 1222.3V1242.8ZM1903.5 1232.9L1922.4 1222.7V1243.2ZM1905.7 1236.6L1924.6 1226.4V1246.9ZM1907.9 1237.8L1926.7 1227.5V1248ZM1910.1 1236.2L1928.9 1226V1246.5ZM1912.2 1235.3L1931.1 1225.1V1245.6ZM1914.4 1238.5L1933.3 1228.3V1248.8ZM1916.6 1237.7L1935.4 1227.5V1248ZM1918.8 1238.8L1937.6 1228.5V1249ZM1920.9 1234.8L1939.8 1224.5V1245ZM1923.1 1237.6L1942 1227.4V1247.9ZM1925.3 1236.6L1944.2 1226.3V1246.8ZM1927.5 1236.8L1946.3 1226.5V1247ZM1929.6 1239.5L1948.5 1229.3V1249.8ZM1931.8 1239.9L1950.7 1229.6V1250.1Z"/>
</g>
<g font-family="'Liberation Sans', Arial, Helvetica, sans-serif" font-weight="bold" fill="#000">
<text transform="translate(298,1296.4) scale(1,1.04)" font-size="73.4" text-anchor="end">0</text>
<text transform="translate(298,1135.2) scale(1,1.04)" font-size="73.4" text-anchor="end">5</text>
<text transform="translate(298,974.1) scale(1,1.04)" font-size="73.4" text-anchor="end">10</text>
<text transform="translate(298,813.0) scale(1,1.04)" font-size="73.4" text-anchor="end">15</text>
<text transform="translate(298,651.8) scale(1,1.04)" font-size="73.4" text-anchor="end">20</text>
<text transform="translate(298,490.7) scale(1,1.04)" font-size="73.4" text-anchor="end">25</text>
<text transform="translate(298,329.5) scale(1,1.04)" font-size="73.4" text-anchor="end">30</text>
<text transform="translate(298,168.3) scale(1,1.04)" font-size="73.4" text-anchor="end">35</text>
<text transform="translate(413.0,1375.5) scale(1,1.04)" font-size="73.4" text-anchor="middle">500</text>
<text transform="translate(848.4,1375.5) scale(1,1.04)" font-size="73.4" text-anchor="middle">600</text>
<text transform="translate(1283.8,1375.5) scale(1,1.04)" font-size="73.4" text-anchor="middle">700</text>
<text transform="translate(1719.2,1375.5) scale(1,1.04)" font-size="73.4" text-anchor="middle">800</text>
<text transform="translate(742,1475.2) scale(1,1.04)" font-size="94.5">Wavelength (nm)</text>
<text transform="translate(95,1191.8) rotate(-90) scale(1,1.04)" font-size="97.4">PL Intensity (Arb. Unit)</text>
</g>
<g fill="#000">
<rect x="1554.40" y="32.00" width="3.8" height="614.90"/>
<rect x="1556.30" y="643.70" width="833.50" height="3.2"/>
<rect x="1556.30" y="610.60" width="12.40" height="3.4"/>
<rect x="1556.30" y="530.05" width="6.40" height="3.4"/>
<rect x="1556.30" y="449.50" width="12.40" height="3.4"/>
<rect x="1556.30" y="368.95" width="6.40" height="3.4"/>
<rect x="1556.30" y="288.40" width="12.40" height="3.4"/>
<rect x="1556.30" y="207.85" width="6.40" height="3.4"/>
<rect x="1556.30" y="127.30" width="12.40" height="3.4"/>
<rect x="1556.30" y="46.75" width="6.40" height="3.4"/>
<rect x="1599.00" y="632.70" width="3" height="11.50"/>
<rect x="1711.65" y="638.20" width="3" height="6.00"/>
<rect x="1824.30" y="632.70" width="3" height="11.50"/>
<rect x="1936.95" y="638.20" width="3" height="6.00"/>
<rect x="2049.60" y="632.70" width="3" height="11.50"/>
<rect x="2162.25" y="638.20" width="3" height="6.00"/>
<rect x="2274.90" y="632.70" width="3" height="11.50"/>
<rect x="2386.10" y="638.20" width="3" height="6.00"/>
</g>
<defs><clipPath id="pi"><rect x="1556.3" y="20" width="833" height="625"/></clipPath></defs>
<g clip-path="url(#pi)">
<path fill="none" stroke="#000" stroke-width="1" d="M1555.4 610.8L1556.6 616.5L1557.7 606.8L1558.8 613.5L1559.9 604.8L1561.1 618.6L1562.2 621.7L1563.3 603.8L1564.5 605.7L1565.6 605.9L1566.7 605.4L1567.8 625L1569 618.3L1570.1 606L1571.2 612.1L1572.3 608.2L1573.5 609.1L1574.6 596.1L1575.7 618.6L1576.8 610.1L1578 605.8L1579.1 609.9L1580.2 603L1581.3 580.7L1582.5 563.6L1583.6 539.5L1584.7 494.8L1585.9 442.6L1587 426.3L1588.1 408.7L1589.2 398L1590.4 393.6L1591.5 399.9L1592.6 390.8L1593.7 378.8L1594.9 383.8L1596 359.2L1597.1 362.4L1598.2 361L1599.4 358.9L1600.5 350.4L1601.6 352L1602.8 344.3L1603.9 340.1L1605 344.6L1606.1 329.1L1607.3 316.9L1608.4 322L1609.5 324.9L1610.6 313.5L1611.8 326.4L1612.9 305.9L1614 311.6L1615.1 307.6L1616.3 310.7L1617.4 295.2L1618.5 283.8L1619.7 282.1L1620.8 281.7L1621.9 279.8L1623 272.7L1624.2 263.1L1625.3 266.8L1626.4 263.1L1627.5 260.9L1628.7 256.3L1629.8 254.3L1630.9 259.9L1632 248.8L1633.2 258.5L1634.3 244.3L1635.4 242.1L1636.5 237.3L1637.7 240.4L1638.8 238.7L1639.9 237L1641.1 237.1L1642.2 226.9L1643.3 215.6L1644.4 217.3L1645.6 219.4L1646.7 213.7L1647.8 211.2L1648.9 209.4L1650.1 178.8L1651.2 153L1652.3 158.4L1653.4 138L1654.6 118.4L1655.7 111.6L1656.8 85.1L1658 88.7L1659.1 97.5L1660.2 149.4L1661.3 138.8L1662.5 164.3L1663.6 173.9L1664.7 158L1665.8 167.1L1667 170.3L1668.1 176.7L1669.2 172.5L1670.3 193.7L1671.5 187.7L1672.6 167.5L1673.7 169.3L1674.8 189L1676 190.4L1677.1 164.6L1678.2 167.3L1679.4 162.3L1680.5 169.8L1681.6 174.9L1682.7 165L1683.9 200.2L1685 178.1L1686.1 181.3L1687.2 182.9L1688.4 168L1689.5 179.2L1690.6 177L1691.7 199.7L1692.9 188.2L1694 167.3L1695.1 178.3L1696.3 183.7L1697.4 191.8L1698.5 187.5L1699.6 186.7L1700.8 183.6L1701.9 183L1703 184L1704.1 199.6L1705.3 196.5L1706.4 176.5L1707.5 169.9L1708.6 183.9L1709.8 192.4L1710.9 169.8L1712 194.1L1713.1 185.3L1714.3 192.7L1715.4 202.6L1716.5 218.1L1717.7 216.4L1718.8 187.1L1719.9 200.1L1721 224.4L1722.2 189.4L1723.3 213.2L1724.4 208L1725.5 225.9L1726.7 179.7L1727.8 228.5L1728.9 197.2L1730 208.3L1731.2 208.2L1732.3 210.6L1733.4 209.6L1734.6 222.1L1735.7 212.6L1736.8 214.3L1737.9 193.5L1739.1 208.3L1740.2 188.3L1741.3 212L1742.4 198.8L1743.6 204.2L1744.7 201L1745.8 173.3L1746.9 184.7L1748.1 175.3L1749.2 200.2L1750.3 188.5L1751.5 177L1752.6 177.3L1753.7 186.6L1754.8 165.9L1756 185.5L1757.1 215.6L1758.2 200.1L1759.3 214L1760.5 223.7L1761.6 225.3L1762.7 234.1L1763.8 226.1L1765 245.3L1766.1 253.4L1767.2 256L1768.3 231.6L1769.5 268.5L1770.6 247.3L1771.7 267L1772.9 267.9L1774 252.5L1775.1 258.5L1776.2 270L1777.4 254.2L1778.5 256.5L1779.6 281.6L1780.7 263.3L1781.9 261.8L1783 265.4L1784.1 280.5L1785.2 288.5L1786.4 309.3L1787.5 307.1L1788.6 292.9L1789.8 290L1790.9 284.8L1792 304.6L1793.1 294.6L1794.3 298.2L1795.4 288.2L1796.5 287.6L1797.6 306.3L1798.8 308.6L1799.9 293.6L1801 301.9L1802.1 310.2L1803.3 302.7L1804.4 301.8L1805.5 314.1L1806.6 302.3L1807.8 329.9L1808.9 326.9L1810 322.6L1811.2 321.9L1812.3 314.3L1813.4 328.3L1814.5 314.9L1815.7 314L1816.8 346.7L1817.9 312.8L1819 342.3L1820.2 342L1821.3 337.6L1822.4 343.1L1823.5 339.3L1824.7 345.9L1825.8 352.6L1826.9 337.6L1828.1 330.4L1829.2 328.6L1830.3 337L1831.4 317.4L1832.6 336.4L1833.7 337.4L1834.8 323.9L1835.9 329.1L1837.1 321.4L1838.2 333.6L1839.3 328.2L1840.4 321.4L1841.6 322.8L1842.7 315.4L1843.8 346.4L1845 333L1846.1 324.3L1847.2 347.2L1848.3 345.1L1849.5 334.4L1850.6 326.1L1851.7 331.5L1852.8 344.5L1854 325.5L1855.1 328.5L1856.2 333.1L1857.3 338.8L1858.5 334.1L1859.6 341.3L1860.7 320.6L1861.8 335.7L1863 331.9L1864.1 319.7L1865.2 312.5L1866.4 340.3L1867.5 322.2L1868.6 343.1L1869.7 314.3L1870.9 341.3L1872 351.4L1873.1 345.3L1874.2 341.7L1875.4 346.3L1876.5 343L1877.6 360.9L1878.7 351.4L1879.9 340.4L1881 358.2L1882.1 352.5L1883.3 353.9L1884.4 348.5L1885.5 339.2L1886.6 362.1L1887.8 352.7L1888.9 370.1L1890 358.4L1891.1 354.4L1892.3 352.2L1893.4 360.7L1894.5 357.7L1895.6 361.2L1896.8 358.6L1897.9 369.8L1899 383.7L1900.1 364.3L1901.3 359.7L1902.4 365.8L1903.5 379.2L1904.7 367.6L1905.8 367.7L1906.9 385.4L1908 373.1L1909.2 379.8L1910.3 373.3L1911.4 369.4L1912.5 375.5L1913.7 397.3L1914.8 382.4L1915.9 387.2L1917 388.5L1918.2 394.5L1919.3 398.2L1920.4 393.1L1921.6 386.1L1922.7 387.2L1923.8 380.5L1924.9 420.7L1926.1 402.7L1927.2 401.7L1928.3 397.7L1929.4 400L1930.6 397.6L1931.7 409L1932.8 413.5L1933.9 416.2L1935.1 388L1936.2 408.6L1937.3 400.7L1938.5 403.8L1939.6 405.9L1940.7 413.3L1941.8 407.4L1943 420.2L1944.1 428.2L1945.2 431.5L1946.3 445.8L1947.5 411.3L1948.6 414L1949.7 426.1L1950.8 417.1L1952 440.2L1953.1 416.7L1954.2 436.7L1955.3 447.1L1956.5 439.3L1957.6 436.3L1958.7 419.8L1959.9 426.1L1961 437.2L1962.1 459.3L1963.2 439.3L1964.4 443.4L1965.5 438L1966.6 439.1L1967.7 431L1968.9 460.5L1970 457.2L1971.1 433.7L1972.2 439.7L1973.4 432.4L1974.5 446L1975.6 465.1L1976.8 446.7L1977.9 444.8L1979 445.5L1980.1 432L1981.3 448.1L1982.4 446.4L1983.5 437.5L1984.6 441.6L1985.8 454.4L1986.9 439L1988 437.9L1989.1 455.8L1990.3 457.8L1991.4 448.3L1992.5 469.8L1993.6 443.9L1994.8 451.8L1995.9 446.8L1997 449.2L1998.2 440.7L1999.3 453.3L2000.4 444.9L2001.5 449.4L2002.7 448.5L2003.8 461.2L2004.9 468.2L2006 449.7L2007.2 455.4L2008.3 451.9L2009.4 456.4L2010.5 466.9L2011.7 450.9L2012.8 451.3L2013.9 444.2L2015.1 457.4L2016.2 467.6L2017.3 449.8L2018.4 466.5L2019.6 442.8L2020.7 449.5L2021.8 461.5L2022.9 477.3L2024.1 460.4L2025.2 462.8L2026.3 481.7L2027.4 462.5L2028.6 446L2029.7 470.4L2030.8 472.7L2031.9 480.7L2033.1 458L2034.2 474.9L2035.3 461.2L2036.5 466.5L2037.6 487.4L2038.7 463.5L2039.8 480.1L2041 486.2L2042.1 478.5L2043.2 485.4L2044.3 483.1L2045.5 492.4L2046.6 480.4L2047.7 493.1L2048.8 495.2L2050 481.1L2051.1 486L2052.2 486.3L2053.4 478.9L2054.5 502.5L2055.6 498.3L2056.7 489L2057.9 502.2L2059 490.2L2060.1 507.1L2061.2 496.7L2062.4 495.7L2063.5 488.2L2064.6 495.2L2065.7 509.9L2066.9 498.2L2068 510.2L2069.1 501.6L2070.3 505L2071.4 491.2L2072.5 495.5L2073.6 520L2074.8 508.6L2075.9 516.4L2077 488.2L2078.1 518.4L2079.3 511.8L2080.4 514.3L2081.5 513.4L2082.6 525.4L2083.8 516.4L2084.9 540.5L2086 532.4L2087.1 526.4L2088.3 535.4L2089.4 550.1L2090.5 527.8L2091.7 527.1L2092.8 517.6L2093.9 550.4L2095 526.7L2096.2 529.3L2097.3 523.9L2098.4 530.7L2099.5 528.9L2100.7 536.3L2101.8 541.2L2102.9 527.4L2104 553.2L2105.2 539.1L2106.3 529.1L2107.4 544.7L2108.6 538.7L2109.7 534.4L2110.8 547.4L2111.9 528.4L2113.1 544.7L2114.2 537.4L2115.3 540.9L2116.4 542.5L2117.6 535.6L2118.7 543.8L2119.8 532.5L2120.9 550.3L2122.1 543.1L2123.2 552.6L2124.3 541.5L2125.4 539.4L2126.6 544.2L2127.7 536.5L2128.8 537.4L2130 543.9L2131.1 549.7L2132.2 537.6L2133.3 552.9L2134.5 555.9L2135.6 554.9L2136.7 556.5L2137.8 547.3L2139 558.3L2140.1 562.7L2141.2 556.2L2142.3 564.1L2143.5 548.9L2144.6 554.2L2145.7 552.8L2146.9 547.2L2148 561.8L2149.1 556.8L2150.2 565.4L2151.4 557.7L2152.5 560.9L2153.6 555.2L2154.7 558.7L2155.9 577.5L2157 553.1L2158.1 547L2159.2 556.7L2160.4 558.2L2161.5 569.3L2162.6 565.9L2163.8 560.3L2164.9 564.8L2166 557.8L2167.1 566L2168.3 558.3L2169.4 557.3L2170.5 570.9L2171.6 552.9L2172.8 573.8L2173.9 563.4L2175 561.5L2176.1 561.7L2177.3 570.3L2178.4 561.1L2179.5 569.7L2180.6 561.5L2181.8 567.1L2182.9 561.5L2184 574.7L2185.2 571.4L2186.3 567.6L2187.4 576.5L2188.5 578.4L2189.7 577.7L2190.8 574.1L2191.9 562.4L2193 570.4L2194.2 576.1L2195.3 574.2L2196.4 584.5L2197.5 575.5L2198.7 572.2L2199.8 573L2200.9 570.5L2202.1 573.2L2203.2 568.9L2204.3 569.6L2205.4 583.3L2206.6 581.4L2207.7 585.5L2208.8 568.2L2209.9 567.2L2211.1 577.8L2212.2 582.2L2213.3 589.9L2214.4 580.1L2215.6 581.9L2216.7 578.2L2217.8 579.1L2218.9 577.4L2220.1 595.9L2221.2 598.2L2222.3 586.8L2223.5 591.1L2224.6 575.5L2225.7 580.7L2226.8 594.1L2228 585.5L2229.1 569.6L2230.2 599.7L2231.3 581.1L2232.5 581L2233.6 586.5L2234.7 569L2235.8 587.2L2237 588.3L2238.1 587.2L2239.2 591.4L2240.4 596.5L2241.5 584.5L2242.6 592.2L2243.7 597.8L2244.9 589.4L2246 605.8L2247.1 600.4L2248.2 597.2L2249.4 590.7L2250.5 582.6L2251.6 574L2252.7 603.8L2253.9 590.9L2255 593.1L2256.1 594.8L2257.2 593.8L2258.4 601.2L2259.5 603.1L2260.6 590.4L2261.8 594.3L2262.9 589.4L2264 590.2L2265.1 588.3L2266.3 594.5L2267.4 589L2268.5 584L2269.6 587.7L2270.8 610L2271.9 589.1L2273 603L2274.1 596.7L2275.3 592.8L2276.4 595.7L2277.5 593.2L2278.7 599.2L2279.8 583.5L2280.9 595.9L2282 588.5L2283.2 596.3L2284.3 597.7L2285.4 593.6L2286.5 584.6L2287.7 601.9L2288.8 595.8L2289.9 609.6L2291 604.2L2292.2 611.1L2293.3 586.6L2294.4 596.5L2295.6 592.7L2296.7 606.7L2297.8 599.1L2298.9 595.1L2300.1 608.1L2301.2 601.4L2302.3 584.2L2303.4 604.4L2304.6 612.7L2305.7 592.4L2306.8 595L2307.9 602L2309.1 603.6L2310.2 611.1L2311.3 613L2312.4 597.8L2313.6 607.3L2314.7 587.4L2315.8 609.5L2317 597L2318.1 601.5L2319.2 604.9L2320.3 605.2L2321.5 604L2322.6 600.1L2323.7 607.8L2324.8 601.5L2326 605.3L2327.1 594.8L2328.2 597.2L2329.3 587L2330.5 591.7L2331.6 598.7L2332.7 604.4L2333.9 603.7L2335 611.4L2336.1 592.7L2337.2 617.2L2338.4 600.8L2339.5 606.3L2340.6 615.9L2341.7 597.8L2342.9 596.4L2344 603L2345.1 609.1L2346.2 614.1L2347.4 606.1L2348.5 591.1L2349.6 609.9L2350.7 605.6L2351.9 601.8L2353 603.2L2354.1 594.5L2355.3 596.9L2356.4 592.3L2357.5 607.1L2358.6 596L2359.8 599.8L2360.9 589.8L2362 595.4L2363.1 603L2364.3 608.2L2365.4 605.9L2366.5 601.8L2367.6 605.3L2368.8 607.1L2369.9 606.6L2371 598L2372.2 608.4L2373.3 617.7L2374.4 605L2375.5 602.9L2376.7 597.9L2377.8 606.6L2378.9 590.2L2380 595.4L2381.2 594.5L2382.3 587.1L2383.4 603.6L2384.5 607.9L2385.7 599.9L2386.8 590.4L2387.9 610L2389.1 603.2"/>
<path fill="#000" d="M1551.4 606.8h8v8h-8ZM1552.6 612.5h8v8h-8ZM1553.7 602.8h8v8h-8ZM1554.8 609.5h8v8h-8ZM1555.9 600.8h8v8h-8ZM1557.1 614.6h8v8h-8ZM1558.2 617.7h8v8h-8ZM1559.3 599.8h8v8h-8ZM1560.5 601.7h8v8h-8ZM1561.6 601.9h8v8h-8ZM1562.7 601.4h8v8h-8ZM1563.8 621h8v8h-8ZM1565 614.3h8v8h-8ZM1566.1 602h8v8h-8ZM1567.2 608.1h8v8h-8ZM1568.3 604.2h8v8h-8ZM1569.5 605.1h8v8h-8ZM1570.6 592.1h8v8h-8ZM1571.7 614.6h8v8h-8ZM1572.8 606.1h8v8h-8ZM1574 601.8h8v8h-8ZM1575.1 605.9h8v8h-8ZM1576.2 599h8v8h-8ZM1577.3 576.7h8v8h-8ZM1578.5 559.6h8v8h-8ZM1579.6 535.5h8v8h-8ZM1580.7 490.8h8v8h-8ZM1581.9 438.6h8v8h-8ZM1583 422.3h8v8h-8ZM1584.1 404.7h8v8h-8ZM1585.2 394h8v8h-8ZM1586.4 389.6h8v8h-8ZM1587.5 395.9h8v8h-8ZM1588.6 386.8h8v8h-8ZM1589.7 374.8h8v8h-8ZM1590.9 379.8h8v8h-8ZM1592 355.2h8v8h-8ZM1593.1 358.4h8v8h-8ZM1594.2 357h8v8h-8ZM1595.4 354.9h8v8h-8ZM1596.5 346.4h8v8h-8ZM1597.6 348h8v8h-8ZM1598.8 340.3h8v8h-8ZM1599.9 336.1h8v8h-8ZM1601 340.6h8v8h-8ZM1602.1 325.1h8v8h-8ZM1603.3 312.9h8v8h-8ZM1604.4 318h8v8h-8ZM1605.5 320.9h8v8h-8ZM1606.6 309.5h8v8h-8ZM1607.8 322.4h8v8h-8ZM1608.9 301.9h8v8h-8ZM1610 307.6h8v8h-8ZM1611.1 303.6h8v8h-8ZM1612.3 306.7h8v8h-8ZM1613.4 291.2h8v8h-8ZM1614.5 279.8h8v8h-8ZM1615.7 278.1h8v8h-8ZM1616.8 277.7h8v8h-8ZM1617.9 275.8h8v8h-8ZM1619 268.7h8v8h-8ZM1620.2 259.1h8v8h-8ZM1621.3 262.8h8v8h-8ZM1622.4 259.1h8v8h-8ZM1623.5 256.9h8v8h-8ZM1624.7 252.3h8v8h-8ZM1625.8 250.3h8v8h-8ZM1626.9 255.9h8v8h-8ZM1628 244.8h8v8h-8ZM1629.2 254.5h8v8h-8ZM1630.3 240.3h8v8h-8ZM1631.4 238.1h8v8h-8ZM1632.5 233.3h8v8h-8ZM1633.7 236.4h8v8h-8ZM1634.8 234.7h8v8h-8ZM1635.9 233h8v8h-8ZM1637.1 233.1h8v8h-8ZM1638.2 222.9h8v8h-8ZM1639.3 211.6h8v8h-8ZM1640.4 213.3h8v8h-8ZM1641.6 215.4h8v8h-8ZM1642.7 209.7h8v8h-8ZM1643.8 207.2h8v8h-8ZM1644.9 205.4h8v8h-8ZM1646.1 174.8h8v8h-8ZM1647.2 149h8v8h-8ZM1648.3 154.4h8v8h-8ZM1649.4 134h8v8h-8ZM1650.6 114.4h8v8h-8ZM1651.7 107.6h8v8h-8ZM1652.8 81.1h8v8h-8ZM1654 84.7h8v8h-8ZM1655.1 93.5h8v8h-8ZM1656.2 145.4h8v8h-8ZM1657.3 134.8h8v8h-8ZM1658.5 160.3h8v8h-8ZM1659.6 169.9h8v8h-8ZM1660.7 154h8v8h-8ZM1661.8 163.1h8v8h-8ZM1663 166.3h8v8h-8ZM1664.1 172.7h8v8h-8ZM1665.2 168.5h8v8h-8ZM1666.3 189.7h8v8h-8ZM1667.5 183.7h8v8h-8ZM1668.6 163.5h8v8h-8ZM1669.7 165.3h8v8h-8ZM1670.8 185h8v8h-8ZM1672 186.4h8v8h-8ZM1673.1 160.6h8v8h-8ZM1674.2 163.3h8v8h-8ZM1675.4 158.3h8v8h-8ZM1676.5 165.8h8v8h-8ZM1677.6 170.9h8v8h-8ZM1678.7 161h8v8h-8ZM1679.9 196.2h8v8h-8ZM1681 174.1h8v8h-8ZM1682.1 177.3h8v8h-8ZM1683.2 178.9h8v8h-8ZM1684.4 164h8v8h-8ZM1685.5 175.2h8v8h-8ZM1686.6 173h8v8h-8ZM1687.7 195.7h8v8h-8ZM1688.9 184.2h8v8h-8ZM1690 163.3h8v8h-8ZM1691.1 174.3h8v8h-8ZM1692.3 179.7h8v8h-8ZM1693.4 187.8h8v8h-8ZM1694.5 183.5h8v8h-8ZM1695.6 182.7h8v8h-8ZM1696.8 179.6h8v8h-8ZM1697.9 179h8v8h-8ZM1699 180h8v8h-8ZM1700.1 195.6h8v8h-8ZM1701.3 192.5h8v8h-8ZM1702.4 172.5h8v8h-8ZM1703.5 165.9h8v8h-8ZM1704.6 179.9h8v8h-8ZM1705.8 188.4h8v8h-8ZM1706.9 165.8h8v8h-8ZM1708 190.1h8v8h-8ZM1709.1 181.3h8v8h-8ZM1710.3 188.7h8v8h-8ZM1711.4 198.6h8v8h-8ZM1712.5 214.1h8v8h-8ZM1713.7 212.4h8v8h-8ZM1714.8 183.1h8v8h-8ZM1715.9 196.1h8v8h-8ZM1717 220.4h8v8h-8ZM1718.2 185.4h8v8h-8ZM1719.3 209.2h8v8h-8ZM1720.4 204h8v8h-8ZM1721.5 221.9h8v8h-8ZM1722.7 175.7h8v8h-8ZM1723.8 224.5h8v8h-8ZM1724.9 193.2h8v8h-8ZM1726 204.3h8v8h-8ZM1727.2 204.2h8v8h-8ZM1728.3 206.6h8v8h-8ZM1729.4 205.6h8v8h-8ZM1730.6 218.1h8v8h-8ZM1731.7 208.6h8v8h-8ZM1732.8 210.3h8v8h-8ZM1733.9 189.5h8v8h-8ZM1735.1 204.3h8v8h-8ZM1736.2 184.3h8v8h-8ZM1737.3 208h8v8h-8ZM1738.4 194.8h8v8h-8ZM1739.6 200.2h8v8h-8ZM1740.7 197h8v8h-8ZM1741.8 169.3h8v8h-8ZM1742.9 180.7h8v8h-8ZM1744.1 171.3h8v8h-8ZM1745.2 196.2h8v8h-8ZM1746.3 184.5h8v8h-8ZM1747.5 173h8v8h-8ZM1748.6 173.3h8v8h-8ZM1749.7 182.6h8v8h-8ZM1750.8 161.9h8v8h-8ZM1752 181.5h8v8h-8ZM1753.1 211.6h8v8h-8ZM1754.2 196.1h8v8h-8ZM1755.3 210h8v8h-8ZM1756.5 219.7h8v8h-8ZM1757.6 221.3h8v8h-8ZM1758.7 230.1h8v8h-8ZM1759.8 222.1h8v8h-8ZM1761 241.3h8v8h-8ZM1762.1 249.4h8v8h-8ZM1763.2 252h8v8h-8ZM1764.3 227.6h8v8h-8ZM1765.5 264.5h8v8h-8ZM1766.6 243.3h8v8h-8ZM1767.7 263h8v8h-8ZM1768.9 263.9h8v8h-8ZM1770 248.5h8v8h-8ZM1771.1 254.5h8v8h-8ZM1772.2 266h8v8h-8ZM1773.4 250.2h8v8h-8ZM1774.5 252.5h8v8h-8ZM1775.6 277.6h8v8h-8ZM1776.7 259.3h8v8h-8ZM1777.9 257.8h8v8h-8ZM1779 261.4h8v8h-8ZM1780.1 276.5h8v8h-8ZM1781.2 284.5h8v8h-8ZM1782.4 305.3h8v8h-8ZM1783.5 303.1h8v8h-8ZM1784.6 288.9h8v8h-8ZM1785.8 286h8v8h-8ZM1786.9 280.8h8v8h-8ZM1788 300.6h8v8h-8ZM1789.1 290.6h8v8h-8ZM1790.3 294.2h8v8h-8ZM1791.4 284.2h8v8h-8ZM1792.5 283.6h8v8h-8ZM1793.6 302.3h8v8h-8ZM1794.8 304.6h8v8h-8ZM1795.9 289.6h8v8h-8ZM1797 297.9h8v8h-8ZM1798.1 306.2h8v8h-8ZM1799.3 298.7h8v8h-8ZM1800.4 297.8h8v8h-8ZM1801.5 310.1h8v8h-8ZM1802.6 298.3h8v8h-8ZM1803.8 325.9h8v8h-8ZM1804.9 322.9h8v8h-8ZM1806 318.6h8v8h-8ZM1807.2 317.9h8v8h-8ZM1808.3 310.3h8v8h-8ZM1809.4 324.3h8v8h-8ZM1810.5 310.9h8v8h-8ZM1811.7 310h8v8h-8ZM1812.8 342.7h8v8h-8ZM1813.9 308.8h8v8h-8ZM1815 338.3h8v8h-8ZM1816.2 338h8v8h-8ZM1817.3 333.6h8v8h-8ZM1818.4 339.1h8v8h-8ZM1819.5 335.3h8v8h-8ZM1820.7 341.9h8v8h-8ZM1821.8 348.6h8v8h-8ZM1822.9 333.6h8v8h-8ZM1824.1 326.4h8v8h-8ZM1825.2 324.6h8v8h-8ZM1826.3 333h8v8h-8ZM1827.4 313.4h8v8h-8ZM1828.6 332.4h8v8h-8ZM1829.7 333.4h8v8h-8ZM1830.8 319.9h8v8h-8ZM1831.9 325.1h8v8h-8ZM1833.1 317.4h8v8h-8ZM1834.2 329.6h8v8h-8ZM1835.3 324.2h8v8h-8ZM1836.4 317.4h8v8h-8ZM1837.6 318.8h8v8h-8ZM1838.7 311.4h8v8h-8ZM1839.8 342.4h8v8h-8ZM1841 329h8v8h-8ZM1842.1 320.3h8v8h-8ZM1843.2 343.2h8v8h-8ZM1844.3 341.1h8v8h-8ZM1845.5 330.4h8v8h-8ZM1846.6 322.1h8v8h-8ZM1847.7 327.5h8v8h-8ZM1848.8 340.5h8v8h-8ZM1850 321.5h8v8h-8ZM1851.1 324.5h8v8h-8ZM1852.2 329.1h8v8h-8ZM1853.3 334.8h8v8h-8ZM1854.5 330.1h8v8h-8ZM1855.6 337.3h8v8h-8ZM1856.7 316.6h8v8h-8ZM1857.8 331.7h8v8h-8ZM1859 327.9h8v8h-8ZM1860.1 315.7h8v8h-8ZM1861.2 308.5h8v8h-8ZM1862.4 336.3h8v8h-8ZM1863.5 318.2h8v8h-8ZM1864.6 339.1h8v8h-8ZM1865.7 310.3h8v8h-8ZM1866.9 337.3h8v8h-8ZM1868 347.4h8v8h-8ZM1869.1 341.3h8v8h-8ZM1870.2 337.7h8v8h-8ZM1871.4 342.3h8v8h-8ZM1872.5 339h8v8h-8ZM1873.6 356.9h8v8h-8ZM1874.7 347.4h8v8h-8ZM1875.9 336.4h8v8h-8ZM1877 354.2h8v8h-8ZM1878.1 348.5h8v8h-8ZM1879.3 349.9h8v8h-8ZM1880.4 344.5h8v8h-8ZM1881.5 335.2h8v8h-8ZM1882.6 358.1h8v8h-8ZM1883.8 348.7h8v8h-8ZM1884.9 366.1h8v8h-8ZM1886 354.4h8v8h-8ZM1887.1 350.4h8v8h-8ZM1888.3 348.2h8v8h-8ZM1889.4 356.7h8v8h-8ZM1890.5 353.7h8v8h-8ZM1891.6 357.2h8v8h-8ZM1892.8 354.6h8v8h-8ZM1893.9 365.8h8v8h-8ZM1895 379.7h8v8h-8ZM1896.1 360.3h8v8h-8ZM1897.3 355.7h8v8h-8ZM1898.4 361.8h8v8h-8ZM1899.5 375.2h8v8h-8ZM1900.7 363.6h8v8h-8ZM1901.8 363.7h8v8h-8ZM1902.9 381.4h8v8h-8ZM1904 369.1h8v8h-8ZM1905.2 375.8h8v8h-8ZM1906.3 369.3h8v8h-8ZM1907.4 365.4h8v8h-8ZM1908.5 371.5h8v8h-8ZM1909.7 393.3h8v8h-8ZM1910.8 378.4h8v8h-8ZM1911.9 383.2h8v8h-8ZM1913 384.5h8v8h-8ZM1914.2 390.5h8v8h-8ZM1915.3 394.2h8v8h-8ZM1916.4 389.1h8v8h-8ZM1917.6 382.1h8v8h-8ZM1918.7 383.2h8v8h-8ZM1919.8 376.5h8v8h-8ZM1920.9 416.7h8v8h-8ZM1922.1 398.7h8v8h-8ZM1923.2 397.7h8v8h-8ZM1924.3 393.7h8v8h-8ZM1925.4 396h8v8h-8ZM1926.6 393.6h8v8h-8ZM1927.7 405h8v8h-8ZM1928.8 409.5h8v8h-8ZM1929.9 412.2h8v8h-8ZM1931.1 384h8v8h-8ZM1932.2 404.6h8v8h-8ZM1933.3 396.7h8v8h-8ZM1934.5 399.8h8v8h-8ZM1935.6 401.9h8v8h-8ZM1936.7 409.3h8v8h-8ZM1937.8 403.4h8v8h-8ZM1939 416.2h8v8h-8ZM1940.1 424.2h8v8h-8ZM1941.2 427.5h8v8h-8ZM1942.3 441.8h8v8h-8ZM1943.5 407.3h8v8h-8ZM1944.6 410h8v8h-8ZM1945.7 422.1h8v8h-8ZM1946.8 413.1h8v8h-8ZM1948 436.2h8v8h-8ZM1949.1 412.7h8v8h-8ZM1950.2 432.7h8v8h-8ZM1951.3 443.1h8v8h-8ZM1952.5 435.3h8v8h-8ZM1953.6 432.3h8v8h-8ZM1954.7 415.8h8v8h-8ZM1955.9 422.1h8v8h-8ZM1957 433.2h8v8h-8ZM1958.1 455.3h8v8h-8ZM1959.2 435.3h8v8h-8ZM1960.4 439.4h8v8h-8ZM1961.5 434h8v8h-8ZM1962.6 435.1h8v8h-8ZM1963.7 427h8v8h-8ZM1964.9 456.5h8v8h-8ZM1966 453.2h8v8h-8ZM1967.1 429.7h8v8h-8ZM1968.2 435.7h8v8h-8ZM1969.4 428.4h8v8h-8ZM1970.5 442h8v8h-8ZM1971.6 461.1h8v8h-8ZM1972.8 442.7h8v8h-8ZM1973.9 440.8h8v8h-8ZM1975 441.5h8v8h-8ZM1976.1 428h8v8h-8ZM1977.3 444.1h8v8h-8ZM1978.4 442.4h8v8h-8ZM1979.5 433.5h8v8h-8ZM1980.6 437.6h8v8h-8ZM1981.8 450.4h8v8h-8ZM1982.9 435h8v8h-8ZM1984 433.9h8v8h-8ZM1985.1 451.8h8v8h-8ZM1986.3 453.8h8v8h-8ZM1987.4 444.3h8v8h-8ZM1988.5 465.8h8v8h-8ZM1989.6 439.9h8v8h-8ZM1990.8 447.8h8v8h-8ZM1991.9 442.8h8v8h-8ZM1993 445.2h8v8h-8ZM1994.2 436.7h8v8h-8ZM1995.3 449.3h8v8h-8ZM1996.4 440.9h8v8h-8ZM1997.5 445.4h8v8h-8ZM1998.7 444.5h8v8h-8ZM1999.8 457.2h8v8h-8ZM2000.9 464.2h8v8h-8ZM2002 445.7h8v8h-8ZM2003.2 451.4h8v8h-8ZM2004.3 447.9h8v8h-8ZM2005.4 452.4h8v8h-8ZM2006.5 462.9h8v8h-8ZM2007.7 446.9h8v8h-8ZM2008.8 447.3h8v8h-8ZM2009.9 440.2h8v8h-8ZM2011.1 453.4h8v8h-8ZM2012.2 463.6h8v8h-8ZM2013.3 445.8h8v8h-8ZM2014.4 462.5h8v8h-8ZM2015.6 438.8h8v8h-8ZM2016.7 445.5h8v8h-8ZM2017.8 457.5h8v8h-8ZM2018.9 473.3h8v8h-8ZM2020.1 456.4h8v8h-8ZM2021.2 458.8h8v8h-8ZM2022.3 477.7h8v8h-8ZM2023.4 458.5h8v8h-8ZM2024.6 442h8v8h-8ZM2025.7 466.4h8v8h-8ZM2026.8 468.7h8v8h-8ZM2027.9 476.7h8v8h-8ZM2029.1 454h8v8h-8ZM2030.2 470.9h8v8h-8ZM2031.3 457.2h8v8h-8ZM2032.5 462.5h8v8h-8ZM2033.6 483.4h8v8h-8ZM2034.7 459.5h8v8h-8ZM2035.8 476.1h8v8h-8ZM2037 482.2h8v8h-8ZM2038.1 474.5h8v8h-8ZM2039.2 481.4h8v8h-8ZM2040.3 479.1h8v8h-8ZM2041.5 488.4h8v8h-8ZM2042.6 476.4h8v8h-8ZM2043.7 489.1h8v8h-8ZM2044.8 491.2h8v8h-8ZM2046 477.1h8v8h-8ZM2047.1 482h8v8h-8ZM2048.2 482.3h8v8h-8ZM2049.4 474.9h8v8h-8ZM2050.5 498.5h8v8h-8ZM2051.6 494.3h8v8h-8ZM2052.7 485h8v8h-8ZM2053.9 498.2h8v8h-8ZM2055 486.2h8v8h-8ZM2056.1 503.1h8v8h-8ZM2057.2 492.7h8v8h-8ZM2058.4 491.7h8v8h-8ZM2059.5 484.2h8v8h-8ZM2060.6 491.2h8v8h-8ZM2061.7 505.9h8v8h-8ZM2062.9 494.2h8v8h-8ZM2064 506.2h8v8h-8ZM2065.1 497.6h8v8h-8ZM2066.3 501h8v8h-8ZM2067.4 487.2h8v8h-8ZM2068.5 491.5h8v8h-8ZM2069.6 516h8v8h-8ZM2070.8 504.6h8v8h-8ZM2071.9 512.4h8v8h-8ZM2073 484.2h8v8h-8ZM2074.1 514.4h8v8h-8ZM2075.3 507.8h8v8h-8ZM2076.4 510.3h8v8h-8ZM2077.5 509.4h8v8h-8ZM2078.6 521.4h8v8h-8ZM2079.8 512.4h8v8h-8ZM2080.9 536.5h8v8h-8ZM2082 528.4h8v8h-8ZM2083.1 522.4h8v8h-8ZM2084.3 531.4h8v8h-8ZM2085.4 546.1h8v8h-8ZM2086.5 523.8h8v8h-8ZM2087.7 523.1h8v8h-8ZM2088.8 513.6h8v8h-8ZM2089.9 546.4h8v8h-8ZM2091 522.7h8v8h-8ZM2092.2 525.3h8v8h-8ZM2093.3 519.9h8v8h-8ZM2094.4 526.7h8v8h-8ZM2095.5 524.9h8v8h-8ZM2096.7 532.3h8v8h-8ZM2097.8 537.2h8v8h-8ZM2098.9 523.4h8v8h-8ZM2100 549.2h8v8h-8ZM2101.2 535.1h8v8h-8ZM2102.3 525.1h8v8h-8ZM2103.4 540.7h8v8h-8ZM2104.6 534.7h8v8h-8ZM2105.7 530.4h8v8h-8ZM2106.8 543.4h8v8h-8ZM2107.9 524.4h8v8h-8ZM2109.1 540.7h8v8h-8ZM2110.2 533.4h8v8h-8ZM2111.3 536.9h8v8h-8ZM2112.4 538.5h8v8h-8ZM2113.6 531.6h8v8h-8ZM2114.7 539.8h8v8h-8ZM2115.8 528.5h8v8h-8ZM2116.9 546.3h8v8h-8ZM2118.1 539.1h8v8h-8ZM2119.2 548.6h8v8h-8ZM2120.3 537.5h8v8h-8ZM2121.4 535.4h8v8h-8ZM2122.6 540.2h8v8h-8ZM2123.7 532.5h8v8h-8ZM2124.8 533.4h8v8h-8ZM2126 539.9h8v8h-8ZM2127.1 545.7h8v8h-8ZM2128.2 533.6h8v8h-8ZM2129.3 548.9h8v8h-8ZM2130.5 551.9h8v8h-8ZM2131.6 550.9h8v8h-8ZM2132.7 552.5h8v8h-8ZM2133.8 543.3h8v8h-8ZM2135 554.3h8v8h-8ZM2136.1 558.7h8v8h-8ZM2137.2 552.2h8v8h-8ZM2138.3 560.1h8v8h-8ZM2139.5 544.9h8v8h-8ZM2140.6 550.2h8v8h-8ZM2141.7 548.8h8v8h-8ZM2142.9 543.2h8v8h-8ZM2144 557.8h8v8h-8ZM2145.1 552.8h8v8h-8ZM2146.2 561.4h8v8h-8ZM2147.4 553.7h8v8h-8ZM2148.5 556.9h8v8h-8ZM2149.6 551.2h8v8h-8ZM2150.7 554.7h8v8h-8ZM2151.9 573.5h8v8h-8ZM2153 549.1h8v8h-8ZM2154.1 543h8v8h-8ZM2155.2 552.7h8v8h-8ZM2156.4 554.2h8v8h-8ZM2157.5 565.3h8v8h-8ZM2158.6 561.9h8v8h-8ZM2159.8 556.3h8v8h-8ZM2160.9 560.8h8v8h-8ZM2162 553.8h8v8h-8ZM2163.1 562h8v8h-8ZM2164.3 554.3h8v8h-8ZM2165.4 553.3h8v8h-8ZM2166.5 566.9h8v8h-8ZM2167.6 548.9h8v8h-8ZM2168.8 569.8h8v8h-8ZM2169.9 559.4h8v8h-8ZM2171 557.5h8v8h-8ZM2172.1 557.7h8v8h-8ZM2173.3 566.3h8v8h-8ZM2174.4 557.1h8v8h-8ZM2175.5 565.7h8v8h-8ZM2176.6 557.5h8v8h-8ZM2177.8 563.1h8v8h-8ZM2178.9 557.5h8v8h-8ZM2180 570.7h8v8h-8ZM2181.2 567.4h8v8h-8ZM2182.3 563.6h8v8h-8ZM2183.4 572.5h8v8h-8ZM2184.5 574.4h8v8h-8ZM2185.7 573.7h8v8h-8ZM2186.8 570.1h8v8h-8ZM2187.9 558.4h8v8h-8ZM2189 566.4h8v8h-8ZM2190.2 572.1h8v8h-8ZM2191.3 570.2h8v8h-8ZM2192.4 580.5h8v8h-8ZM2193.5 571.5h8v8h-8ZM2194.7 568.2h8v8h-8ZM2195.8 569h8v8h-8ZM2196.9 566.5h8v8h-8ZM2198.1 569.2h8v8h-8ZM2199.2 564.9h8v8h-8ZM2200.3 565.6h8v8h-8ZM2201.4 579.3h8v8h-8ZM2202.6 577.4h8v8h-8ZM2203.7 581.5h8v8h-8ZM2204.8 564.2h8v8h-8ZM2205.9 563.2h8v8h-8ZM2207.1 573.8h8v8h-8ZM2208.2 578.2h8v8h-8ZM2209.3 585.9h8v8h-8ZM2210.4 576.1h8v8h-8ZM2211.6 577.9h8v8h-8ZM2212.7 574.2h8v8h-8ZM2213.8 575.1h8v8h-8ZM2214.9 573.4h8v8h-8ZM2216.1 591.9h8v8h-8ZM2217.2 594.2h8v8h-8ZM2218.3 582.8h8v8h-8ZM2219.5 587.1h8v8h-8ZM2220.6 571.5h8v8h-8ZM2221.7 576.7h8v8h-8ZM2222.8 590.1h8v8h-8ZM2224 581.5h8v8h-8ZM2225.1 565.6h8v8h-8ZM2226.2 595.7h8v8h-8ZM2227.3 577.1h8v8h-8ZM2228.5 577h8v8h-8ZM2229.6 582.5h8v8h-8ZM2230.7 565h8v8h-8ZM2231.8 583.2h8v8h-8ZM2233 584.3h8v8h-8ZM2234.1 583.2h8v8h-8ZM2235.2 587.4h8v8h-8ZM2236.4 592.5h8v8h-8ZM2237.5 580.5h8v8h-8ZM2238.6 588.2h8v8h-8ZM2239.7 593.8h8v8h-8ZM2240.9 585.4h8v8h-8ZM2242 601.8h8v8h-8ZM2243.1 596.4h8v8h-8ZM2244.2 593.2h8v8h-8ZM2245.4 586.7h8v8h-8ZM2246.5 578.6h8v8h-8ZM2247.6 570h8v8h-8ZM2248.7 599.8h8v8h-8ZM2249.9 586.9h8v8h-8ZM2251 589.1h8v8h-8ZM2252.1 590.8h8v8h-8ZM2253.2 589.8h8v8h-8ZM2254.4 597.2h8v8h-8ZM2255.5 599.1h8v8h-8ZM2256.6 586.4h8v8h-8ZM2257.8 590.3h8v8h-8ZM2258.9 585.4h8v8h-8ZM2260 586.2h8v8h-8ZM2261.1 584.3h8v8h-8ZM2262.3 590.5h8v8h-8ZM2263.4 585h8v8h-8ZM2264.5 580h8v8h-8ZM2265.6 583.7h8v8h-8ZM2266.8 606h8v8h-8ZM2267.9 585.1h8v8h-8ZM2269 599h8v8h-8ZM2270.1 592.7h8v8h-8ZM2271.3 588.8h8v8h-8ZM2272.4 591.7h8v8h-8ZM2273.5 589.2h8v8h-8ZM2274.7 595.2h8v8h-8ZM2275.8 579.5h8v8h-8ZM2276.9 591.9h8v8h-8ZM2278 584.5h8v8h-8ZM2279.2 592.3h8v8h-8ZM2280.3 593.7h8v8h-8ZM2281.4 589.6h8v8h-8ZM2282.5 580.6h8v8h-8ZM2283.7 597.9h8v8h-8ZM2284.8 591.8h8v8h-8ZM2285.9 605.6h8v8h-8ZM2287 600.2h8v8h-8ZM2288.2 607.1h8v8h-8ZM2289.3 582.6h8v8h-8ZM2290.4 592.5h8v8h-8ZM2291.6 588.7h8v8h-8ZM2292.7 602.7h8v8h-8ZM2293.8 595.1h8v8h-8ZM2294.9 591.1h8v8h-8ZM2296.1 604.1h8v8h-8ZM2297.2 597.4h8v8h-8ZM2298.3 580.2h8v8h-8ZM2299.4 600.4h8v8h-8ZM2300.6 608.7h8v8h-8ZM2301.7 588.4h8v8h-8ZM2302.8 591h8v8h-8ZM2303.9 598h8v8h-8ZM2305.1 599.6h8v8h-8ZM2306.2 607.1h8v8h-8ZM2307.3 609h8v8h-8ZM2308.4 593.8h8v8h-8ZM2309.6 603.3h8v8h-8ZM2310.7 583.4h8v8h-8ZM2311.8 605.5h8v8h-8ZM2313 593h8v8h-8ZM2314.1 597.5h8v8h-8ZM2315.2 600.9h8v8h-8ZM2316.3 601.2h8v8h-8ZM2317.5 600h8v8h-8ZM2318.6 596.1h8v8h-8ZM2319.7 603.8h8v8h-8ZM2320.8 597.5h8v8h-8ZM2322 601.3h8v8h-8ZM2323.1 590.8h8v8h-8ZM2324.2 593.2h8v8h-8ZM2325.3 583h8v8h-8ZM2326.5 587.7h8v8h-8ZM2327.6 594.7h8v8h-8ZM2328.7 600.4h8v8h-8ZM2329.9 599.7h8v8h-8ZM2331 607.4h8v8h-8ZM2332.1 588.7h8v8h-8ZM2333.2 613.2h8v8h-8ZM2334.4 596.8h8v8h-8ZM2335.5 602.3h8v8h-8ZM2336.6 611.9h8v8h-8ZM2337.7 593.8h8v8h-8ZM2338.9 592.4h8v8h-8ZM2340 599h8v8h-8ZM2341.1 605.1h8v8h-8ZM2342.2 610.1h8v8h-8ZM2343.4 602.1h8v8h-8ZM2344.5 587.1h8v8h-8ZM2345.6 605.9h8v8h-8ZM2346.7 601.6h8v8h-8ZM2347.9 597.8h8v8h-8ZM2349 599.2h8v8h-8ZM2350.1 590.5h8v8h-8ZM2351.3 592.9h8v8h-8ZM2352.4 588.3h8v8h-8ZM2353.5 603.1h8v8h-8ZM2354.6 592h8v8h-8ZM2355.8 595.8h8v8h-8ZM2356.9 585.8h8v8h-8ZM2358 591.4h8v8h-8ZM2359.1 599h8v8h-8ZM2360.3 604.2h8v8h-8ZM2361.4 601.9h8v8h-8ZM2362.5 597.8h8v8h-8ZM2363.6 601.3h8v8h-8ZM2364.8 603.1h8v8h-8ZM2365.9 602.6h8v8h-8ZM2367 594h8v8h-8ZM2368.2 604.4h8v8h-8ZM2369.3 613.7h8v8h-8ZM2370.4 601h8v8h-8ZM2371.5 598.9h8v8h-8ZM2372.7 593.9h8v8h-8ZM2373.8 602.6h8v8h-8ZM2374.9 586.2h8v8h-8ZM2376 591.4h8v8h-8ZM2377.2 590.5h8v8h-8ZM2378.3 583.1h8v8h-8ZM2379.4 599.6h8v8h-8ZM2380.5 603.9h8v8h-8ZM2381.7 595.9h8v8h-8ZM2382.8 586.4h8v8h-8ZM2383.9 606h8v8h-8ZM2385.1 599.2h8v8h-8Z"/>
</g>
<g font-family="'Liberation Sans', Arial, Helvetica, sans-serif" font-weight="bold" fill="#000">
<text transform="translate(1542.5,622.7) scale(1,1.04)" font-size="36.6" text-anchor="end">0.0</text>
<text transform="translate(1542.5,461.6) scale(1,1.04)" font-size="36.6" text-anchor="end">0.5</text>
<text transform="translate(1542.5,300.5) scale(1,1.04)" font-size="36.6" text-anchor="end">1.0</text>
<text transform="translate(1542.5,139.4) scale(1,1.04)" font-size="36.6" text-anchor="end">1.5</text>
<text transform="translate(1600.5,686.7) scale(1,1.04)" font-size="36.8" text-anchor="middle">500</text>
<text transform="translate(1825.8,686.7) scale(1,1.04)" font-size="36.8" text-anchor="middle">600</text>
<text transform="translate(2051.1,686.7) scale(1,1.04)" font-size="36.8" text-anchor="middle">700</text>
<text transform="translate(2276.4,686.7) scale(1,1.04)" font-size="36.8" text-anchor="middle">800</text>
<text transform="translate(1803.5,733) scale(1,1.04)" font-size="47.2">Wavelength (nm)</text>
<text transform="translate(1464,605.7) rotate(-90) scale(1,1.04)" font-size="48.7">PL Intensity (Arb. Unit)</text>
</g></svg>
</body></html>
